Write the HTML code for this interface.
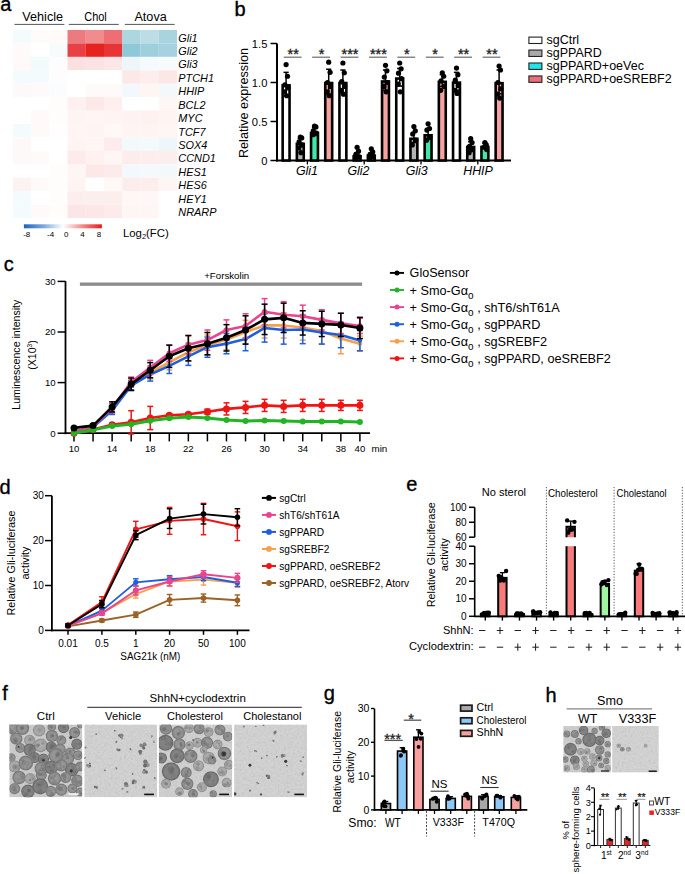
<!DOCTYPE html>
<html><head><meta charset="utf-8"><title>Figure</title>
<style>
html,body{margin:0;padding:0;background:#fff;}
body{width:685px;height:874px;overflow:hidden;position:relative;}
svg{position:absolute;left:0;top:0;display:block;font-family:"Liberation Sans", sans-serif;}
</style></head><body>
<svg width="685" height="874" viewBox="0 0 685 874">
<rect width="685" height="874" fill="#fff"/>
<text x="0.3" y="11.3" font-size="20" stroke="#000" stroke-width="0.35">a</text>
<text x="42.7" y="21" font-size="12.5" text-anchor="middle" textLength="40.7" lengthAdjust="spacingAndGlyphs">Vehicle</text>
<line x1="14.5" y1="24.4" x2="64.4" y2="24.4" stroke="#555" stroke-width="1"/>
<text x="95.5" y="21" font-size="12.5" text-anchor="middle" textLength="22.5" lengthAdjust="spacingAndGlyphs">Chol</text>
<line x1="68.8" y1="24.4" x2="118.8" y2="24.4" stroke="#555" stroke-width="1"/>
<text x="150.6" y="21" font-size="12.5" text-anchor="middle" textLength="32.3" lengthAdjust="spacingAndGlyphs">Atova</text>
<line x1="124.8" y1="24.4" x2="174.7" y2="24.4" stroke="#555" stroke-width="1"/>
<rect x="12.8" y="30" width="18.29" height="13.48" fill="#f3fbfc"/>
<rect x="31.04" y="30" width="18.29" height="13.48" fill="#fffbfb"/>
<rect x="49.28" y="30" width="18.29" height="13.48" fill="#fffbfb"/>
<rect x="67.52" y="30" width="18.29" height="13.48" fill="#ec7b80"/>
<rect x="85.76" y="30" width="18.29" height="13.48" fill="#f08b8e"/>
<rect x="104" y="30" width="18.29" height="13.48" fill="#ed6f73"/>
<rect x="122.24" y="30" width="18.29" height="13.48" fill="#acd6e0"/>
<rect x="140.48" y="30" width="18.29" height="13.48" fill="#bcdde6"/>
<rect x="158.72" y="30" width="18.29" height="13.48" fill="#a9d4de"/>
<text x="178.3" y="41.5" font-size="10.9" font-style="italic">Gli1</text>
<rect x="12.8" y="43.43" width="18.29" height="13.48" fill="#fffafa"/>
<rect x="31.04" y="43.43" width="18.29" height="13.48" fill="#ffffff"/>
<rect x="49.28" y="43.43" width="18.29" height="13.48" fill="#f6fbfc"/>
<rect x="67.52" y="43.43" width="18.29" height="13.48" fill="#e84044"/>
<rect x="85.76" y="43.43" width="18.29" height="13.48" fill="#e52420"/>
<rect x="104" y="43.43" width="18.29" height="13.48" fill="#e83436"/>
<rect x="122.24" y="43.43" width="18.29" height="13.48" fill="#8fc8d8"/>
<rect x="140.48" y="43.43" width="18.29" height="13.48" fill="#9dcfdc"/>
<rect x="158.72" y="43.43" width="18.29" height="13.48" fill="#a5d2de"/>
<text x="178.3" y="54.93" font-size="10.9" font-style="italic">Gli2</text>
<rect x="12.8" y="56.86" width="18.29" height="13.48" fill="#fff9f9"/>
<rect x="31.04" y="56.86" width="18.29" height="13.48" fill="#f3fafb"/>
<rect x="49.28" y="56.86" width="18.29" height="13.48" fill="#fdfdfd"/>
<rect x="67.52" y="56.86" width="18.29" height="13.48" fill="#fbe0e2"/>
<rect x="85.76" y="56.86" width="18.29" height="13.48" fill="#fbe3e5"/>
<rect x="104" y="56.86" width="18.29" height="13.48" fill="#fbe6e8"/>
<rect x="122.24" y="56.86" width="18.29" height="13.48" fill="#eef6f9"/>
<rect x="140.48" y="56.86" width="18.29" height="13.48" fill="#f5fafc"/>
<rect x="158.72" y="56.86" width="18.29" height="13.48" fill="#f7fbfc"/>
<text x="178.3" y="68.36" font-size="10.9" font-style="italic">Gli3</text>
<rect x="12.8" y="70.29" width="18.29" height="13.48" fill="#f3fbfc"/>
<rect x="31.04" y="70.29" width="18.29" height="13.48" fill="#f4fbfc"/>
<rect x="49.28" y="70.29" width="18.29" height="13.48" fill="#fdfdfd"/>
<rect x="67.52" y="70.29" width="18.29" height="13.48" fill="#ffffff"/>
<rect x="85.76" y="70.29" width="18.29" height="13.48" fill="#ffffff"/>
<rect x="104" y="70.29" width="18.29" height="13.48" fill="#ffffff"/>
<rect x="122.24" y="70.29" width="18.29" height="13.48" fill="#fde8e8"/>
<rect x="140.48" y="70.29" width="18.29" height="13.48" fill="#fdeeed"/>
<rect x="158.72" y="70.29" width="18.29" height="13.48" fill="#fce6e6"/>
<text x="178.3" y="81.79" font-size="10.9" font-style="italic">PTCH1</text>
<rect x="12.8" y="83.72" width="18.29" height="13.48" fill="#fef9f9"/>
<rect x="31.04" y="83.72" width="18.29" height="13.48" fill="#fefafa"/>
<rect x="49.28" y="83.72" width="18.29" height="13.48" fill="#fbfcfd"/>
<rect x="67.52" y="83.72" width="18.29" height="13.48" fill="#ffffff"/>
<rect x="85.76" y="83.72" width="18.29" height="13.48" fill="#fffafa"/>
<rect x="104" y="83.72" width="18.29" height="13.48" fill="#fffafa"/>
<rect x="122.24" y="83.72" width="18.29" height="13.48" fill="#f2f8fb"/>
<rect x="140.48" y="83.72" width="18.29" height="13.48" fill="#fff6f3"/>
<rect x="158.72" y="83.72" width="18.29" height="13.48" fill="#f3f9fb"/>
<text x="178.3" y="95.22" font-size="10.9" font-style="italic">HHIP</text>
<rect x="12.8" y="97.15" width="18.29" height="13.48" fill="#ffffff"/>
<rect x="31.04" y="97.15" width="18.29" height="13.48" fill="#ffffff"/>
<rect x="49.28" y="97.15" width="18.29" height="13.48" fill="#fffcfc"/>
<rect x="67.52" y="97.15" width="18.29" height="13.48" fill="#fef0f0"/>
<rect x="85.76" y="97.15" width="18.29" height="13.48" fill="#fde8e8"/>
<rect x="104" y="97.15" width="18.29" height="13.48" fill="#feeeee"/>
<rect x="122.24" y="97.15" width="18.29" height="13.48" fill="#ffffff"/>
<rect x="140.48" y="97.15" width="18.29" height="13.48" fill="#ffffff"/>
<rect x="158.72" y="97.15" width="18.29" height="13.48" fill="#fff6f6"/>
<text x="178.3" y="108.65" font-size="10.9" font-style="italic">BCL2</text>
<rect x="12.8" y="110.58" width="18.29" height="13.48" fill="#ffffff"/>
<rect x="31.04" y="110.58" width="18.29" height="13.48" fill="#fff9f9"/>
<rect x="49.28" y="110.58" width="18.29" height="13.48" fill="#fffcfc"/>
<rect x="67.52" y="110.58" width="18.29" height="13.48" fill="#fef5f3"/>
<rect x="85.76" y="110.58" width="18.29" height="13.48" fill="#fef6f4"/>
<rect x="104" y="110.58" width="18.29" height="13.48" fill="#fef4f2"/>
<rect x="122.24" y="110.58" width="18.29" height="13.48" fill="#fef3f2"/>
<rect x="140.48" y="110.58" width="18.29" height="13.48" fill="#fef1f0"/>
<rect x="158.72" y="110.58" width="18.29" height="13.48" fill="#fef4f2"/>
<text x="178.3" y="122.08" font-size="10.9" font-style="italic">MYC</text>
<rect x="12.8" y="124.01" width="18.29" height="13.48" fill="#f4fbfc"/>
<rect x="31.04" y="124.01" width="18.29" height="13.48" fill="#fffafa"/>
<rect x="49.28" y="124.01" width="18.29" height="13.48" fill="#fffdfd"/>
<rect x="67.52" y="124.01" width="18.29" height="13.48" fill="#fef6f4"/>
<rect x="85.76" y="124.01" width="18.29" height="13.48" fill="#fef4f2"/>
<rect x="104" y="124.01" width="18.29" height="13.48" fill="#fef8f6"/>
<rect x="122.24" y="124.01" width="18.29" height="13.48" fill="#fef4f2"/>
<rect x="140.48" y="124.01" width="18.29" height="13.48" fill="#fef4f2"/>
<rect x="158.72" y="124.01" width="18.29" height="13.48" fill="#fef6f4"/>
<text x="178.3" y="135.51" font-size="10.9" font-style="italic">TCF7</text>
<rect x="12.8" y="137.44" width="18.29" height="13.48" fill="#fef9f9"/>
<rect x="31.04" y="137.44" width="18.29" height="13.48" fill="#ffffff"/>
<rect x="49.28" y="137.44" width="18.29" height="13.48" fill="#ffffff"/>
<rect x="67.52" y="137.44" width="18.29" height="13.48" fill="#fef4f2"/>
<rect x="85.76" y="137.44" width="18.29" height="13.48" fill="#fef6f4"/>
<rect x="104" y="137.44" width="18.29" height="13.48" fill="#fdeceb"/>
<rect x="122.24" y="137.44" width="18.29" height="13.48" fill="#f2f8fb"/>
<rect x="140.48" y="137.44" width="18.29" height="13.48" fill="#f4f9fb"/>
<rect x="158.72" y="137.44" width="18.29" height="13.48" fill="#eff6f9"/>
<text x="178.3" y="148.94" font-size="10.9" font-style="italic">SOX4</text>
<rect x="12.8" y="150.87" width="18.29" height="13.48" fill="#fdf9f9"/>
<rect x="31.04" y="150.87" width="18.29" height="13.48" fill="#fefafa"/>
<rect x="49.28" y="150.87" width="18.29" height="13.48" fill="#ffffff"/>
<rect x="67.52" y="150.87" width="18.29" height="13.48" fill="#fdeaea"/>
<rect x="85.76" y="150.87" width="18.29" height="13.48" fill="#fef1f0"/>
<rect x="104" y="150.87" width="18.29" height="13.48" fill="#fef6f4"/>
<rect x="122.24" y="150.87" width="18.29" height="13.48" fill="#fdecec"/>
<rect x="140.48" y="150.87" width="18.29" height="13.48" fill="#fdeeee"/>
<rect x="158.72" y="150.87" width="18.29" height="13.48" fill="#fdeeee"/>
<text x="178.3" y="162.37" font-size="10.9" font-style="italic">CCND1</text>
<rect x="12.8" y="164.3" width="18.29" height="13.48" fill="#ffffff"/>
<rect x="31.04" y="164.3" width="18.29" height="13.48" fill="#ffffff"/>
<rect x="49.28" y="164.3" width="18.29" height="13.48" fill="#fffcfc"/>
<rect x="67.52" y="164.3" width="18.29" height="13.48" fill="#fef6f4"/>
<rect x="85.76" y="164.3" width="18.29" height="13.48" fill="#fde8e8"/>
<rect x="104" y="164.3" width="18.29" height="13.48" fill="#fdebeb"/>
<rect x="122.24" y="164.3" width="18.29" height="13.48" fill="#f2f8fb"/>
<rect x="140.48" y="164.3" width="18.29" height="13.48" fill="#f5f9fc"/>
<rect x="158.72" y="164.3" width="18.29" height="13.48" fill="#f3f8fb"/>
<text x="178.3" y="175.8" font-size="10.9" font-style="italic">HES1</text>
<rect x="12.8" y="177.73" width="18.29" height="13.48" fill="#fdf2f2"/>
<rect x="31.04" y="177.73" width="18.29" height="13.48" fill="#fefafa"/>
<rect x="49.28" y="177.73" width="18.29" height="13.48" fill="#fffcfc"/>
<rect x="67.52" y="177.73" width="18.29" height="13.48" fill="#fef4f2"/>
<rect x="85.76" y="177.73" width="18.29" height="13.48" fill="#ffffff"/>
<rect x="104" y="177.73" width="18.29" height="13.48" fill="#fef8f6"/>
<rect x="122.24" y="177.73" width="18.29" height="13.48" fill="#fdecec"/>
<rect x="140.48" y="177.73" width="18.29" height="13.48" fill="#fdeeee"/>
<rect x="158.72" y="177.73" width="18.29" height="13.48" fill="#fef6f4"/>
<text x="178.3" y="189.23" font-size="10.9" font-style="italic">HES6</text>
<rect x="12.8" y="191.16" width="18.29" height="13.48" fill="#f4fbfc"/>
<rect x="31.04" y="191.16" width="18.29" height="13.48" fill="#ffffff"/>
<rect x="49.28" y="191.16" width="18.29" height="13.48" fill="#fffcfc"/>
<rect x="67.52" y="191.16" width="18.29" height="13.48" fill="#fdeeee"/>
<rect x="85.76" y="191.16" width="18.29" height="13.48" fill="#fdeeee"/>
<rect x="104" y="191.16" width="18.29" height="13.48" fill="#fdeeee"/>
<rect x="122.24" y="191.16" width="18.29" height="13.48" fill="#fef7f5"/>
<rect x="140.48" y="191.16" width="18.29" height="13.48" fill="#fef7f5"/>
<rect x="158.72" y="191.16" width="18.29" height="13.48" fill="#ffffff"/>
<text x="178.3" y="202.66" font-size="10.9" font-style="italic">HEY1</text>
<rect x="12.8" y="204.59" width="18.29" height="13.48" fill="#f4fbfc"/>
<rect x="31.04" y="204.59" width="18.29" height="13.48" fill="#fefafa"/>
<rect x="49.28" y="204.59" width="18.29" height="13.48" fill="#fffcfc"/>
<rect x="67.52" y="204.59" width="18.29" height="13.48" fill="#fce5e6"/>
<rect x="85.76" y="204.59" width="18.29" height="13.48" fill="#fce6e7"/>
<rect x="104" y="204.59" width="18.29" height="13.48" fill="#fdeaeb"/>
<rect x="122.24" y="204.59" width="18.29" height="13.48" fill="#fef6f4"/>
<rect x="140.48" y="204.59" width="18.29" height="13.48" fill="#fef6f4"/>
<rect x="158.72" y="204.59" width="18.29" height="13.48" fill="#ffffff"/>
<text x="178.3" y="216.09" font-size="10.9" font-style="italic">NRARP</text>
<defs><linearGradient id="cb" x1="0" x2="1" y1="0" y2="0"><stop offset="0" stop-color="#1c64bc"/><stop offset="0.25" stop-color="#7aa8dc"/><stop offset="0.5" stop-color="#ffffff"/><stop offset="0.75" stop-color="#f28a8a"/><stop offset="1" stop-color="#ec1a1a"/></linearGradient></defs>
<rect x="23.9" y="224.3" width="78" height="4" fill="url(#cb)"/>
<text x="26.7" y="237.2" font-size="8" text-anchor="middle">-8</text>
<text x="50.6" y="237.2" font-size="8" text-anchor="middle">-4</text>
<text x="66.2" y="237.2" font-size="8" text-anchor="middle">0</text>
<text x="82.5" y="237.2" font-size="8" text-anchor="middle">4</text>
<text x="98.9" y="237.2" font-size="8" text-anchor="middle">8</text>
<text x="122.9" y="237.2" font-size="11.4">Log<tspan font-size="7.5" dy="2.2">2</tspan><tspan dy="-2.2">(FC)</tspan></text>
<text x="234.6" y="15.8" font-size="20" stroke="#000" stroke-width="0.35">b</text>
<line x1="277" y1="43.4" x2="277" y2="161.5" stroke="#000" stroke-width="2"/>
<line x1="276" y1="160.5" x2="511" y2="160.5" stroke="#000" stroke-width="2"/>
<line x1="270.5" y1="160.5" x2="277" y2="160.5" stroke="#000" stroke-width="1.5"/>
<text x="267.4" y="164.5" font-size="11.2" text-anchor="end">0</text>
<line x1="270.5" y1="121.5" x2="277" y2="121.5" stroke="#000" stroke-width="1.5"/>
<text x="267.4" y="125.5" font-size="11.2" text-anchor="end">0.5</text>
<line x1="270.5" y1="82.5" x2="277" y2="82.5" stroke="#000" stroke-width="1.5"/>
<text x="267.4" y="86.5" font-size="11.2" text-anchor="end">1.0</text>
<line x1="270.5" y1="43.5" x2="277" y2="43.5" stroke="#000" stroke-width="1.5"/>
<text x="267.4" y="47.5" font-size="11.2" text-anchor="end">1.5</text>
<text x="248.2" y="103" font-size="12.6" text-anchor="middle" textLength="110" lengthAdjust="spacingAndGlyphs" transform="rotate(-90 248.2 103)">Relative expression</text>
<line x1="307.4" y1="160.5" x2="307.4" y2="164.5" stroke="#000" stroke-width="1.3"/>
<text x="306.9" y="174.6" font-size="12.4" text-anchor="middle" font-style="italic">Gli1</text>
<rect x="282.65" y="85.36" width="6.9" height="75.14" fill="#ffffff" stroke="#000" stroke-width="2.6"/>
<line x1="286.1" y1="95.76" x2="286.1" y2="72.36" stroke="#000" stroke-width="1.5"/>
<line x1="283.5" y1="72.36" x2="288.7" y2="72.36" stroke="#000" stroke-width="1.5"/>
<line x1="283.5" y1="95.76" x2="288.7" y2="95.76" stroke="#000" stroke-width="1.5"/>
<circle cx="286.1" cy="64.56" r="2.6" fill="#000"/>
<circle cx="287.5" cy="76.26" r="2.6" fill="#000"/>
<circle cx="284.9" cy="84.84" r="2.6" fill="#000"/>
<circle cx="287.9" cy="87.96" r="2.6" fill="#000"/>
<circle cx="284.5" cy="91.86" r="2.6" fill="#000"/>
<circle cx="286.7" cy="95.76" r="2.6" fill="#000"/>
<rect x="296.85" y="143.86" width="6.9" height="16.64" fill="#b3b3b3" stroke="#000" stroke-width="2.6"/>
<line x1="300.3" y1="146.46" x2="300.3" y2="138.66" stroke="#000" stroke-width="1.5"/>
<line x1="297.7" y1="138.66" x2="302.9" y2="138.66" stroke="#000" stroke-width="1.5"/>
<line x1="297.7" y1="146.46" x2="302.9" y2="146.46" stroke="#000" stroke-width="1.5"/>
<circle cx="300.3" cy="137.1" r="2.6" fill="#000"/>
<circle cx="301.7" cy="137.88" r="2.6" fill="#000"/>
<circle cx="299.1" cy="141.78" r="2.6" fill="#000"/>
<circle cx="302.1" cy="144.9" r="2.6" fill="#000"/>
<circle cx="298.7" cy="148.02" r="2.6" fill="#000"/>
<circle cx="300.9" cy="152.7" r="2.6" fill="#000"/>
<rect x="311.05" y="132.94" width="6.9" height="27.56" fill="#3ee8a8" stroke="#000" stroke-width="2.6"/>
<line x1="314.5" y1="135.54" x2="314.5" y2="127.74" stroke="#000" stroke-width="1.5"/>
<line x1="311.9" y1="127.74" x2="317.1" y2="127.74" stroke="#000" stroke-width="1.5"/>
<line x1="311.9" y1="135.54" x2="317.1" y2="135.54" stroke="#000" stroke-width="1.5"/>
<circle cx="314.5" cy="126.18" r="2.6" fill="#000"/>
<circle cx="315.9" cy="126.96" r="2.6" fill="#000"/>
<circle cx="313.3" cy="130.86" r="2.6" fill="#000"/>
<circle cx="316.3" cy="133.2" r="2.6" fill="#000"/>
<circle cx="312.9" cy="134.76" r="2.6" fill="#000"/>
<rect x="325.25" y="83.02" width="6.9" height="77.48" fill="#f7a1a1" stroke="#000" stroke-width="2.6"/>
<line x1="328.7" y1="94.2" x2="328.7" y2="69.24" stroke="#000" stroke-width="1.5"/>
<line x1="326.1" y1="69.24" x2="331.3" y2="69.24" stroke="#000" stroke-width="1.5"/>
<line x1="326.1" y1="94.2" x2="331.3" y2="94.2" stroke="#000" stroke-width="1.5"/>
<circle cx="328.7" cy="62.22" r="2.6" fill="#000"/>
<circle cx="330.1" cy="72.36" r="2.6" fill="#000"/>
<circle cx="327.5" cy="82.5" r="2.6" fill="#000"/>
<circle cx="330.5" cy="86.4" r="2.6" fill="#000"/>
<circle cx="327.1" cy="91.86" r="2.6" fill="#000"/>
<circle cx="329.3" cy="95.76" r="2.6" fill="#000"/>
<line x1="364.2" y1="160.5" x2="364.2" y2="164.5" stroke="#000" stroke-width="1.3"/>
<text x="358.5" y="174.6" font-size="12.4" text-anchor="middle" font-style="italic">Gli2</text>
<rect x="339.45" y="83.02" width="6.9" height="77.48" fill="#ffffff" stroke="#000" stroke-width="2.6"/>
<line x1="342.9" y1="93.42" x2="342.9" y2="70.02" stroke="#000" stroke-width="1.5"/>
<line x1="340.3" y1="70.02" x2="345.5" y2="70.02" stroke="#000" stroke-width="1.5"/>
<line x1="340.3" y1="93.42" x2="345.5" y2="93.42" stroke="#000" stroke-width="1.5"/>
<circle cx="342.9" cy="63" r="2.6" fill="#000"/>
<circle cx="344.3" cy="72.75" r="2.6" fill="#000"/>
<circle cx="341.7" cy="81.72" r="2.6" fill="#000"/>
<circle cx="344.7" cy="86.4" r="2.6" fill="#000"/>
<circle cx="341.3" cy="90.3" r="2.6" fill="#000"/>
<circle cx="343.5" cy="94.2" r="2.6" fill="#000"/>
<rect x="353.65" y="156.34" width="6.9" height="4.16" fill="#b3b3b3" stroke="#000" stroke-width="2.6"/>
<line x1="357.1" y1="157.38" x2="357.1" y2="152.7" stroke="#000" stroke-width="1.5"/>
<line x1="354.5" y1="152.7" x2="359.7" y2="152.7" stroke="#000" stroke-width="1.5"/>
<line x1="354.5" y1="157.38" x2="359.7" y2="157.38" stroke="#000" stroke-width="1.5"/>
<circle cx="357.1" cy="147.24" r="2.6" fill="#000"/>
<circle cx="358.5" cy="151.14" r="2.6" fill="#000"/>
<circle cx="355.9" cy="154.26" r="2.6" fill="#000"/>
<circle cx="358.9" cy="156.6" r="2.6" fill="#000"/>
<circle cx="355.5" cy="158.16" r="2.6" fill="#000"/>
<rect x="367.85" y="155.56" width="6.9" height="4.94" fill="#3ee8a8" stroke="#000" stroke-width="2.6"/>
<line x1="371.3" y1="155.82" x2="371.3" y2="152.7" stroke="#000" stroke-width="1.5"/>
<line x1="368.7" y1="152.7" x2="373.9" y2="152.7" stroke="#000" stroke-width="1.5"/>
<line x1="368.7" y1="155.82" x2="373.9" y2="155.82" stroke="#000" stroke-width="1.5"/>
<circle cx="371.3" cy="148.8" r="2.6" fill="#000"/>
<circle cx="372.7" cy="151.92" r="2.6" fill="#000"/>
<circle cx="370.1" cy="154.26" r="2.6" fill="#000"/>
<circle cx="373.1" cy="156.6" r="2.6" fill="#000"/>
<circle cx="369.7" cy="158.16" r="2.6" fill="#000"/>
<rect x="382.05" y="81.46" width="6.9" height="79.04" fill="#f7a1a1" stroke="#000" stroke-width="2.6"/>
<line x1="385.5" y1="90.3" x2="385.5" y2="70.02" stroke="#000" stroke-width="1.5"/>
<line x1="382.9" y1="70.02" x2="388.1" y2="70.02" stroke="#000" stroke-width="1.5"/>
<line x1="382.9" y1="90.3" x2="388.1" y2="90.3" stroke="#000" stroke-width="1.5"/>
<circle cx="385.5" cy="65.34" r="2.6" fill="#000"/>
<circle cx="386.9" cy="70.8" r="2.6" fill="#000"/>
<circle cx="384.3" cy="77.04" r="2.6" fill="#000"/>
<circle cx="387.3" cy="82.5" r="2.6" fill="#000"/>
<circle cx="383.9" cy="86.4" r="2.6" fill="#000"/>
<circle cx="386.1" cy="91.86" r="2.6" fill="#000"/>
<line x1="421" y1="160.5" x2="421" y2="164.5" stroke="#000" stroke-width="1.3"/>
<text x="416.7" y="174.6" font-size="12.4" text-anchor="middle" font-style="italic">Gli3</text>
<rect x="396.25" y="78.57" width="6.9" height="81.93" fill="#ffffff" stroke="#000" stroke-width="2.6"/>
<line x1="399.7" y1="86.09" x2="399.7" y2="68.46" stroke="#000" stroke-width="1.5"/>
<line x1="397.1" y1="68.46" x2="402.3" y2="68.46" stroke="#000" stroke-width="1.5"/>
<line x1="397.1" y1="86.09" x2="402.3" y2="86.09" stroke="#000" stroke-width="1.5"/>
<circle cx="399.7" cy="63" r="2.6" fill="#000"/>
<circle cx="401.1" cy="68.85" r="2.6" fill="#000"/>
<circle cx="398.5" cy="73.14" r="2.6" fill="#000"/>
<circle cx="401.5" cy="78.6" r="2.6" fill="#000"/>
<circle cx="398.1" cy="84.06" r="2.6" fill="#000"/>
<circle cx="400.3" cy="91.86" r="2.6" fill="#000"/>
<rect x="410.45" y="138.79" width="6.9" height="21.71" fill="#b3b3b3" stroke="#000" stroke-width="2.6"/>
<line x1="413.9" y1="142.56" x2="413.9" y2="132.42" stroke="#000" stroke-width="1.5"/>
<line x1="411.3" y1="132.42" x2="416.5" y2="132.42" stroke="#000" stroke-width="1.5"/>
<line x1="411.3" y1="142.56" x2="416.5" y2="142.56" stroke="#000" stroke-width="1.5"/>
<circle cx="413.9" cy="126.57" r="2.6" fill="#000"/>
<circle cx="415.3" cy="130.86" r="2.6" fill="#000"/>
<circle cx="412.7" cy="133.98" r="2.6" fill="#000"/>
<circle cx="415.7" cy="140.22" r="2.6" fill="#000"/>
<circle cx="412.3" cy="144.9" r="2.6" fill="#000"/>
<rect x="424.65" y="135.28" width="6.9" height="25.22" fill="#3ee8a8" stroke="#000" stroke-width="2.6"/>
<line x1="428.1" y1="139.44" x2="428.1" y2="128.52" stroke="#000" stroke-width="1.5"/>
<line x1="425.5" y1="128.52" x2="430.7" y2="128.52" stroke="#000" stroke-width="1.5"/>
<line x1="425.5" y1="139.44" x2="430.7" y2="139.44" stroke="#000" stroke-width="1.5"/>
<circle cx="428.1" cy="123.84" r="2.6" fill="#000"/>
<circle cx="429.5" cy="128.52" r="2.6" fill="#000"/>
<circle cx="426.9" cy="130.08" r="2.6" fill="#000"/>
<circle cx="429.9" cy="137.1" r="2.6" fill="#000"/>
<circle cx="426.5" cy="140.22" r="2.6" fill="#000"/>
<rect x="438.85" y="81.85" width="6.9" height="78.65" fill="#f7a1a1" stroke="#000" stroke-width="2.6"/>
<line x1="442.3" y1="86.4" x2="442.3" y2="74.7" stroke="#000" stroke-width="1.5"/>
<line x1="439.7" y1="74.7" x2="444.9" y2="74.7" stroke="#000" stroke-width="1.5"/>
<line x1="439.7" y1="86.4" x2="444.9" y2="86.4" stroke="#000" stroke-width="1.5"/>
<circle cx="442.3" cy="72.75" r="2.6" fill="#000"/>
<circle cx="443.7" cy="76.26" r="2.6" fill="#000"/>
<circle cx="441.1" cy="80.94" r="2.6" fill="#000"/>
<circle cx="444.1" cy="86.4" r="2.6" fill="#000"/>
<circle cx="440.7" cy="90.3" r="2.6" fill="#000"/>
<line x1="477.8" y1="160.5" x2="477.8" y2="164.5" stroke="#000" stroke-width="1.3"/>
<text x="478" y="174.6" font-size="12.4" text-anchor="middle" font-style="italic">HHIP</text>
<rect x="453.05" y="82.63" width="6.9" height="77.87" fill="#ffffff" stroke="#000" stroke-width="2.6"/>
<line x1="456.5" y1="90.3" x2="456.5" y2="72.36" stroke="#000" stroke-width="1.5"/>
<line x1="453.9" y1="72.36" x2="459.1" y2="72.36" stroke="#000" stroke-width="1.5"/>
<line x1="453.9" y1="90.3" x2="459.1" y2="90.3" stroke="#000" stroke-width="1.5"/>
<circle cx="456.5" cy="68.07" r="2.6" fill="#000"/>
<circle cx="457.9" cy="74.7" r="2.6" fill="#000"/>
<circle cx="455.3" cy="80.16" r="2.6" fill="#000"/>
<circle cx="458.3" cy="85.62" r="2.6" fill="#000"/>
<circle cx="454.9" cy="90.3" r="2.6" fill="#000"/>
<circle cx="457.1" cy="93.42" r="2.6" fill="#000"/>
<rect x="467.25" y="146.98" width="6.9" height="13.52" fill="#b3b3b3" stroke="#000" stroke-width="2.6"/>
<line x1="470.7" y1="149.58" x2="470.7" y2="141.78" stroke="#000" stroke-width="1.5"/>
<line x1="468.1" y1="141.78" x2="473.3" y2="141.78" stroke="#000" stroke-width="1.5"/>
<line x1="468.1" y1="149.58" x2="473.3" y2="149.58" stroke="#000" stroke-width="1.5"/>
<circle cx="470.7" cy="138.66" r="2.6" fill="#000"/>
<circle cx="472.1" cy="142.56" r="2.6" fill="#000"/>
<circle cx="469.5" cy="146.46" r="2.6" fill="#000"/>
<circle cx="472.5" cy="149.58" r="2.6" fill="#000"/>
<circle cx="469.1" cy="152.7" r="2.6" fill="#000"/>
<rect x="481.45" y="146.98" width="6.9" height="13.52" fill="#3ee8a8" stroke="#000" stroke-width="2.6"/>
<line x1="484.9" y1="148.02" x2="484.9" y2="143.34" stroke="#000" stroke-width="1.5"/>
<line x1="482.3" y1="143.34" x2="487.5" y2="143.34" stroke="#000" stroke-width="1.5"/>
<line x1="482.3" y1="148.02" x2="487.5" y2="148.02" stroke="#000" stroke-width="1.5"/>
<circle cx="484.9" cy="142.56" r="2.6" fill="#000"/>
<circle cx="486.3" cy="144.9" r="2.6" fill="#000"/>
<circle cx="483.7" cy="147.24" r="2.6" fill="#000"/>
<circle cx="486.7" cy="149.58" r="2.6" fill="#000"/>
<rect x="495.65" y="83.18" width="6.9" height="77.32" fill="#f7a1a1" stroke="#000" stroke-width="2.6"/>
<line x1="499.1" y1="93.73" x2="499.1" y2="70.02" stroke="#000" stroke-width="1.5"/>
<line x1="496.5" y1="70.02" x2="501.7" y2="70.02" stroke="#000" stroke-width="1.5"/>
<line x1="496.5" y1="93.73" x2="501.7" y2="93.73" stroke="#000" stroke-width="1.5"/>
<circle cx="499.1" cy="66.12" r="2.6" fill="#000"/>
<circle cx="500.5" cy="70.02" r="2.6" fill="#000"/>
<circle cx="497.9" cy="82.5" r="2.6" fill="#000"/>
<circle cx="500.9" cy="88.74" r="2.6" fill="#000"/>
<circle cx="497.5" cy="94.2" r="2.6" fill="#000"/>
<circle cx="499.7" cy="98.1" r="2.6" fill="#000"/>
<line x1="283.8" y1="57.2" x2="301.6" y2="57.2" stroke="#6a6a6a" stroke-width="1.2"/>
<text x="293.2" y="59" font-size="14.5" text-anchor="middle" fill="#222" stroke="#222" stroke-width="0.35">**</text>
<line x1="312.2" y1="57.2" x2="330" y2="57.2" stroke="#6a6a6a" stroke-width="1.2"/>
<text x="321.6" y="59" font-size="14.5" text-anchor="middle" fill="#222" stroke="#222" stroke-width="0.35">*</text>
<line x1="340.6" y1="57.2" x2="358.4" y2="57.2" stroke="#6a6a6a" stroke-width="1.2"/>
<text x="350" y="59" font-size="14.5" text-anchor="middle" fill="#222" stroke="#222" stroke-width="0.35">***</text>
<line x1="369" y1="57.2" x2="386.8" y2="57.2" stroke="#6a6a6a" stroke-width="1.2"/>
<text x="378.4" y="59" font-size="14.5" text-anchor="middle" fill="#222" stroke="#222" stroke-width="0.35">***</text>
<line x1="397.4" y1="57.2" x2="415.2" y2="57.2" stroke="#6a6a6a" stroke-width="1.2"/>
<text x="406.8" y="59" font-size="14.5" text-anchor="middle" fill="#222" stroke="#222" stroke-width="0.35">*</text>
<line x1="425.8" y1="57.2" x2="443.6" y2="57.2" stroke="#6a6a6a" stroke-width="1.2"/>
<text x="435.2" y="59" font-size="14.5" text-anchor="middle" fill="#222" stroke="#222" stroke-width="0.35">*</text>
<line x1="454.2" y1="57.2" x2="472" y2="57.2" stroke="#6a6a6a" stroke-width="1.2"/>
<text x="463.6" y="59" font-size="14.5" text-anchor="middle" fill="#222" stroke="#222" stroke-width="0.35">**</text>
<line x1="482.6" y1="57.2" x2="500.4" y2="57.2" stroke="#6a6a6a" stroke-width="1.2"/>
<text x="492" y="59" font-size="14.5" text-anchor="middle" fill="#222" stroke="#222" stroke-width="0.35">**</text>
<rect x="528.9" y="37.1" width="13" height="6.4" fill="#ffffff" stroke="#222" stroke-width="1.1"/>
<text x="546.5" y="43.8" font-size="12.5">sgCtrl</text>
<rect x="528.9" y="50.05" width="13" height="6.4" fill="#a9a9a9" stroke="#222" stroke-width="1.1"/>
<text x="546.5" y="56.75" font-size="12.5">sgPPARD</text>
<rect x="528.9" y="63" width="13" height="6.4" fill="#1fe5e8" stroke="#222" stroke-width="1.1"/>
<text x="546.5" y="69.7" font-size="12.5">sgPPARD+oeVec</text>
<rect x="528.9" y="75.95" width="13" height="6.4" fill="#e8707c" stroke="#222" stroke-width="1.1"/>
<text x="546.5" y="82.65" font-size="12.5">sgPPARD+oeSREBF2</text>
<text x="3.8" y="270.5" font-size="20" stroke="#000" stroke-width="0.35">c</text>
<line x1="65.5" y1="281.2" x2="65.5" y2="434.2" stroke="#000" stroke-width="1.8"/>
<line x1="64.6" y1="433.2" x2="370" y2="433.2" stroke="#000" stroke-width="1.8"/>
<line x1="57.6" y1="433.2" x2="65.5" y2="433.2" stroke="#000" stroke-width="1.5"/>
<text x="55.6" y="436.6" font-size="9.6" text-anchor="end">0</text>
<line x1="57.6" y1="382.6" x2="65.5" y2="382.6" stroke="#000" stroke-width="1.5"/>
<text x="55.6" y="386" font-size="9.6" text-anchor="end">10</text>
<line x1="57.6" y1="332" x2="65.5" y2="332" stroke="#000" stroke-width="1.5"/>
<text x="55.6" y="335.4" font-size="9.6" text-anchor="end">20</text>
<line x1="57.6" y1="281.4" x2="65.5" y2="281.4" stroke="#000" stroke-width="1.5"/>
<text x="55.6" y="284.8" font-size="9.6" text-anchor="end">30</text>
<line x1="74" y1="433.2" x2="74" y2="441.4" stroke="#000" stroke-width="1.5"/>
<line x1="93.06" y1="433.2" x2="93.06" y2="441.4" stroke="#000" stroke-width="1.5"/>
<line x1="112.12" y1="433.2" x2="112.12" y2="441.4" stroke="#000" stroke-width="1.5"/>
<line x1="131.18" y1="433.2" x2="131.18" y2="441.4" stroke="#000" stroke-width="1.5"/>
<line x1="150.24" y1="433.2" x2="150.24" y2="441.4" stroke="#000" stroke-width="1.5"/>
<line x1="169.3" y1="433.2" x2="169.3" y2="441.4" stroke="#000" stroke-width="1.5"/>
<line x1="188.36" y1="433.2" x2="188.36" y2="441.4" stroke="#000" stroke-width="1.5"/>
<line x1="207.42" y1="433.2" x2="207.42" y2="441.4" stroke="#000" stroke-width="1.5"/>
<line x1="226.48" y1="433.2" x2="226.48" y2="441.4" stroke="#000" stroke-width="1.5"/>
<line x1="245.54" y1="433.2" x2="245.54" y2="441.4" stroke="#000" stroke-width="1.5"/>
<line x1="264.6" y1="433.2" x2="264.6" y2="441.4" stroke="#000" stroke-width="1.5"/>
<line x1="283.66" y1="433.2" x2="283.66" y2="441.4" stroke="#000" stroke-width="1.5"/>
<line x1="302.72" y1="433.2" x2="302.72" y2="441.4" stroke="#000" stroke-width="1.5"/>
<line x1="321.78" y1="433.2" x2="321.78" y2="441.4" stroke="#000" stroke-width="1.5"/>
<line x1="340.84" y1="433.2" x2="340.84" y2="441.4" stroke="#000" stroke-width="1.5"/>
<line x1="359.9" y1="433.2" x2="359.9" y2="441.4" stroke="#000" stroke-width="1.5"/>
<text x="74" y="452.2" font-size="9.6" text-anchor="middle">10</text>
<text x="112.12" y="452.2" font-size="9.6" text-anchor="middle">14</text>
<text x="150.24" y="452.2" font-size="9.6" text-anchor="middle">18</text>
<text x="188.36" y="452.2" font-size="9.6" text-anchor="middle">22</text>
<text x="226.48" y="452.2" font-size="9.6" text-anchor="middle">26</text>
<text x="264.6" y="452.2" font-size="9.6" text-anchor="middle">30</text>
<text x="302.72" y="452.2" font-size="9.6" text-anchor="middle">34</text>
<text x="340.84" y="452.2" font-size="9.6" text-anchor="middle">38</text>
<text x="359.9" y="452.2" font-size="9.6" text-anchor="middle">40</text>
<text x="371.5" y="452.2" font-size="9.8">min</text>
<rect x="79.9" y="282.5" width="282.2" height="3.3" fill="#8c8c8c"/>
<text x="226.7" y="278.8" font-size="9.8" text-anchor="middle" textLength="45" lengthAdjust="spacingAndGlyphs">+Forskolin</text>
<text x="20.2" y="354.7" font-size="10.6" text-anchor="middle" textLength="110" lengthAdjust="spacingAndGlyphs" transform="rotate(-90 20.2 354.7)">Luminescence intensity</text>
<text x="36.3" y="355" font-size="10.6" text-anchor="middle" transform="rotate(-90 36.3 355)">(X10<tspan font-size="6.5" dy="-4">3</tspan><tspan dy="4">)</tspan></text>
<line x1="74" y1="433.2" x2="74" y2="431.18" stroke="#f5a04a" stroke-width="1.5"/>
<line x1="71" y1="431.18" x2="77" y2="431.18" stroke="#f5a04a" stroke-width="1.5"/>
<line x1="71" y1="433.2" x2="77" y2="433.2" stroke="#f5a04a" stroke-width="1.5"/>
<line x1="93.06" y1="428.65" x2="93.06" y2="425.61" stroke="#f5a04a" stroke-width="1.5"/>
<line x1="90.06" y1="425.61" x2="96.06" y2="425.61" stroke="#f5a04a" stroke-width="1.5"/>
<line x1="90.06" y1="428.65" x2="96.06" y2="428.65" stroke="#f5a04a" stroke-width="1.5"/>
<line x1="112.12" y1="413.47" x2="112.12" y2="405.37" stroke="#f5a04a" stroke-width="1.5"/>
<line x1="109.12" y1="405.37" x2="115.12" y2="405.37" stroke="#f5a04a" stroke-width="1.5"/>
<line x1="109.12" y1="413.47" x2="115.12" y2="413.47" stroke="#f5a04a" stroke-width="1.5"/>
<line x1="131.18" y1="389.68" x2="131.18" y2="379.56" stroke="#f5a04a" stroke-width="1.5"/>
<line x1="128.18" y1="379.56" x2="134.18" y2="379.56" stroke="#f5a04a" stroke-width="1.5"/>
<line x1="128.18" y1="389.68" x2="134.18" y2="389.68" stroke="#f5a04a" stroke-width="1.5"/>
<line x1="150.24" y1="379.06" x2="150.24" y2="365.9" stroke="#f5a04a" stroke-width="1.5"/>
<line x1="147.24" y1="365.9" x2="153.24" y2="365.9" stroke="#f5a04a" stroke-width="1.5"/>
<line x1="147.24" y1="379.06" x2="153.24" y2="379.06" stroke="#f5a04a" stroke-width="1.5"/>
<line x1="169.3" y1="369.95" x2="169.3" y2="354.77" stroke="#f5a04a" stroke-width="1.5"/>
<line x1="166.3" y1="354.77" x2="172.3" y2="354.77" stroke="#f5a04a" stroke-width="1.5"/>
<line x1="166.3" y1="369.95" x2="172.3" y2="369.95" stroke="#f5a04a" stroke-width="1.5"/>
<line x1="188.36" y1="361.35" x2="188.36" y2="343.13" stroke="#f5a04a" stroke-width="1.5"/>
<line x1="185.36" y1="343.13" x2="191.36" y2="343.13" stroke="#f5a04a" stroke-width="1.5"/>
<line x1="185.36" y1="361.35" x2="191.36" y2="361.35" stroke="#f5a04a" stroke-width="1.5"/>
<line x1="207.42" y1="355.28" x2="207.42" y2="335.04" stroke="#f5a04a" stroke-width="1.5"/>
<line x1="204.42" y1="335.04" x2="210.42" y2="335.04" stroke="#f5a04a" stroke-width="1.5"/>
<line x1="204.42" y1="355.28" x2="210.42" y2="355.28" stroke="#f5a04a" stroke-width="1.5"/>
<line x1="226.48" y1="349.71" x2="226.48" y2="329.47" stroke="#f5a04a" stroke-width="1.5"/>
<line x1="223.48" y1="329.47" x2="229.48" y2="329.47" stroke="#f5a04a" stroke-width="1.5"/>
<line x1="223.48" y1="349.71" x2="229.48" y2="349.71" stroke="#f5a04a" stroke-width="1.5"/>
<line x1="245.54" y1="343.64" x2="245.54" y2="320.36" stroke="#f5a04a" stroke-width="1.5"/>
<line x1="242.54" y1="320.36" x2="248.54" y2="320.36" stroke="#f5a04a" stroke-width="1.5"/>
<line x1="242.54" y1="343.64" x2="248.54" y2="343.64" stroke="#f5a04a" stroke-width="1.5"/>
<line x1="264.6" y1="338.07" x2="264.6" y2="312.77" stroke="#f5a04a" stroke-width="1.5"/>
<line x1="261.6" y1="312.77" x2="267.6" y2="312.77" stroke="#f5a04a" stroke-width="1.5"/>
<line x1="261.6" y1="338.07" x2="267.6" y2="338.07" stroke="#f5a04a" stroke-width="1.5"/>
<line x1="283.66" y1="338.07" x2="283.66" y2="312.77" stroke="#f5a04a" stroke-width="1.5"/>
<line x1="280.66" y1="312.77" x2="286.66" y2="312.77" stroke="#f5a04a" stroke-width="1.5"/>
<line x1="280.66" y1="338.07" x2="286.66" y2="338.07" stroke="#f5a04a" stroke-width="1.5"/>
<line x1="302.72" y1="340.1" x2="302.72" y2="314.8" stroke="#f5a04a" stroke-width="1.5"/>
<line x1="299.72" y1="314.8" x2="305.72" y2="314.8" stroke="#f5a04a" stroke-width="1.5"/>
<line x1="299.72" y1="340.1" x2="305.72" y2="340.1" stroke="#f5a04a" stroke-width="1.5"/>
<line x1="321.78" y1="343.64" x2="321.78" y2="318.34" stroke="#f5a04a" stroke-width="1.5"/>
<line x1="318.78" y1="318.34" x2="324.78" y2="318.34" stroke="#f5a04a" stroke-width="1.5"/>
<line x1="318.78" y1="343.64" x2="324.78" y2="343.64" stroke="#f5a04a" stroke-width="1.5"/>
<line x1="340.84" y1="353.76" x2="340.84" y2="323.4" stroke="#f5a04a" stroke-width="1.5"/>
<line x1="337.84" y1="323.4" x2="343.84" y2="323.4" stroke="#f5a04a" stroke-width="1.5"/>
<line x1="337.84" y1="353.76" x2="343.84" y2="353.76" stroke="#f5a04a" stroke-width="1.5"/>
<line x1="359.9" y1="351.23" x2="359.9" y2="336.05" stroke="#f5a04a" stroke-width="1.5"/>
<line x1="356.9" y1="336.05" x2="362.9" y2="336.05" stroke="#f5a04a" stroke-width="1.5"/>
<line x1="356.9" y1="351.23" x2="362.9" y2="351.23" stroke="#f5a04a" stroke-width="1.5"/>
<polyline points="74,432.19 93.06,427.13 112.12,409.42 131.18,384.62 150.24,372.48 169.3,362.36 188.36,352.24 207.42,345.16 226.48,339.59 245.54,332 264.6,325.42 283.66,325.42 302.72,327.45 321.78,330.99 340.84,338.58 359.9,343.64" fill="none" stroke="#f5a04a" stroke-width="2.6" stroke-linejoin="round"/>
<circle cx="74" cy="432.19" r="2.4" fill="#f5a04a"/>
<circle cx="93.06" cy="427.13" r="2.4" fill="#f5a04a"/>
<circle cx="112.12" cy="409.42" r="2.4" fill="#f5a04a"/>
<circle cx="131.18" cy="384.62" r="2.4" fill="#f5a04a"/>
<circle cx="150.24" cy="372.48" r="2.4" fill="#f5a04a"/>
<circle cx="169.3" cy="362.36" r="2.4" fill="#f5a04a"/>
<circle cx="188.36" cy="352.24" r="2.4" fill="#f5a04a"/>
<circle cx="207.42" cy="345.16" r="2.4" fill="#f5a04a"/>
<circle cx="226.48" cy="339.59" r="2.4" fill="#f5a04a"/>
<circle cx="245.54" cy="332" r="2.4" fill="#f5a04a"/>
<circle cx="264.6" cy="325.42" r="2.4" fill="#f5a04a"/>
<circle cx="283.66" cy="325.42" r="2.4" fill="#f5a04a"/>
<circle cx="302.72" cy="327.45" r="2.4" fill="#f5a04a"/>
<circle cx="321.78" cy="330.99" r="2.4" fill="#f5a04a"/>
<circle cx="340.84" cy="338.58" r="2.4" fill="#f5a04a"/>
<circle cx="359.9" cy="343.64" r="2.4" fill="#f5a04a"/>
<line x1="74" y1="432.69" x2="74" y2="430.67" stroke="#1e5fe0" stroke-width="1.5"/>
<line x1="71" y1="430.67" x2="77" y2="430.67" stroke="#1e5fe0" stroke-width="1.5"/>
<line x1="71" y1="432.69" x2="77" y2="432.69" stroke="#1e5fe0" stroke-width="1.5"/>
<line x1="93.06" y1="428.65" x2="93.06" y2="425.61" stroke="#1e5fe0" stroke-width="1.5"/>
<line x1="90.06" y1="425.61" x2="96.06" y2="425.61" stroke="#1e5fe0" stroke-width="1.5"/>
<line x1="90.06" y1="428.65" x2="96.06" y2="428.65" stroke="#1e5fe0" stroke-width="1.5"/>
<line x1="112.12" y1="414.48" x2="112.12" y2="406.38" stroke="#1e5fe0" stroke-width="1.5"/>
<line x1="109.12" y1="406.38" x2="115.12" y2="406.38" stroke="#1e5fe0" stroke-width="1.5"/>
<line x1="109.12" y1="414.48" x2="115.12" y2="414.48" stroke="#1e5fe0" stroke-width="1.5"/>
<line x1="131.18" y1="390.7" x2="131.18" y2="380.58" stroke="#1e5fe0" stroke-width="1.5"/>
<line x1="128.18" y1="380.58" x2="134.18" y2="380.58" stroke="#1e5fe0" stroke-width="1.5"/>
<line x1="128.18" y1="390.7" x2="134.18" y2="390.7" stroke="#1e5fe0" stroke-width="1.5"/>
<line x1="150.24" y1="381.08" x2="150.24" y2="367.93" stroke="#1e5fe0" stroke-width="1.5"/>
<line x1="147.24" y1="367.93" x2="153.24" y2="367.93" stroke="#1e5fe0" stroke-width="1.5"/>
<line x1="147.24" y1="381.08" x2="153.24" y2="381.08" stroke="#1e5fe0" stroke-width="1.5"/>
<line x1="169.3" y1="373.49" x2="169.3" y2="358.31" stroke="#1e5fe0" stroke-width="1.5"/>
<line x1="166.3" y1="358.31" x2="172.3" y2="358.31" stroke="#1e5fe0" stroke-width="1.5"/>
<line x1="166.3" y1="373.49" x2="172.3" y2="373.49" stroke="#1e5fe0" stroke-width="1.5"/>
<line x1="188.36" y1="365.4" x2="188.36" y2="347.18" stroke="#1e5fe0" stroke-width="1.5"/>
<line x1="185.36" y1="347.18" x2="191.36" y2="347.18" stroke="#1e5fe0" stroke-width="1.5"/>
<line x1="185.36" y1="365.4" x2="191.36" y2="365.4" stroke="#1e5fe0" stroke-width="1.5"/>
<line x1="207.42" y1="357.3" x2="207.42" y2="337.06" stroke="#1e5fe0" stroke-width="1.5"/>
<line x1="204.42" y1="337.06" x2="210.42" y2="337.06" stroke="#1e5fe0" stroke-width="1.5"/>
<line x1="204.42" y1="357.3" x2="210.42" y2="357.3" stroke="#1e5fe0" stroke-width="1.5"/>
<line x1="226.48" y1="353.76" x2="226.48" y2="333.52" stroke="#1e5fe0" stroke-width="1.5"/>
<line x1="223.48" y1="333.52" x2="229.48" y2="333.52" stroke="#1e5fe0" stroke-width="1.5"/>
<line x1="223.48" y1="353.76" x2="229.48" y2="353.76" stroke="#1e5fe0" stroke-width="1.5"/>
<line x1="245.54" y1="350.72" x2="245.54" y2="327.45" stroke="#1e5fe0" stroke-width="1.5"/>
<line x1="242.54" y1="327.45" x2="248.54" y2="327.45" stroke="#1e5fe0" stroke-width="1.5"/>
<line x1="242.54" y1="350.72" x2="248.54" y2="350.72" stroke="#1e5fe0" stroke-width="1.5"/>
<line x1="264.6" y1="342.12" x2="264.6" y2="313.78" stroke="#1e5fe0" stroke-width="1.5"/>
<line x1="261.6" y1="313.78" x2="267.6" y2="313.78" stroke="#1e5fe0" stroke-width="1.5"/>
<line x1="261.6" y1="342.12" x2="267.6" y2="342.12" stroke="#1e5fe0" stroke-width="1.5"/>
<line x1="283.66" y1="344.14" x2="283.66" y2="315.81" stroke="#1e5fe0" stroke-width="1.5"/>
<line x1="280.66" y1="315.81" x2="286.66" y2="315.81" stroke="#1e5fe0" stroke-width="1.5"/>
<line x1="280.66" y1="344.14" x2="286.66" y2="344.14" stroke="#1e5fe0" stroke-width="1.5"/>
<line x1="302.72" y1="343.64" x2="302.72" y2="315.3" stroke="#1e5fe0" stroke-width="1.5"/>
<line x1="299.72" y1="315.3" x2="305.72" y2="315.3" stroke="#1e5fe0" stroke-width="1.5"/>
<line x1="299.72" y1="343.64" x2="305.72" y2="343.64" stroke="#1e5fe0" stroke-width="1.5"/>
<line x1="321.78" y1="344.14" x2="321.78" y2="320.87" stroke="#1e5fe0" stroke-width="1.5"/>
<line x1="318.78" y1="320.87" x2="324.78" y2="320.87" stroke="#1e5fe0" stroke-width="1.5"/>
<line x1="318.78" y1="344.14" x2="324.78" y2="344.14" stroke="#1e5fe0" stroke-width="1.5"/>
<line x1="340.84" y1="347.69" x2="340.84" y2="322.39" stroke="#1e5fe0" stroke-width="1.5"/>
<line x1="337.84" y1="322.39" x2="343.84" y2="322.39" stroke="#1e5fe0" stroke-width="1.5"/>
<line x1="337.84" y1="347.69" x2="343.84" y2="347.69" stroke="#1e5fe0" stroke-width="1.5"/>
<line x1="359.9" y1="350.72" x2="359.9" y2="330.48" stroke="#1e5fe0" stroke-width="1.5"/>
<line x1="356.9" y1="330.48" x2="362.9" y2="330.48" stroke="#1e5fe0" stroke-width="1.5"/>
<line x1="356.9" y1="350.72" x2="362.9" y2="350.72" stroke="#1e5fe0" stroke-width="1.5"/>
<polyline points="74,431.68 93.06,427.13 112.12,410.43 131.18,385.64 150.24,374.5 169.3,365.9 188.36,356.29 207.42,347.18 226.48,343.64 245.54,339.08 264.6,327.95 283.66,329.98 302.72,329.47 321.78,332.51 340.84,335.04 359.9,340.6" fill="none" stroke="#1e5fe0" stroke-width="2.6" stroke-linejoin="round"/>
<circle cx="74" cy="431.68" r="2.2" fill="#1e5fe0"/>
<circle cx="93.06" cy="427.13" r="2.2" fill="#1e5fe0"/>
<circle cx="112.12" cy="410.43" r="2.2" fill="#1e5fe0"/>
<circle cx="131.18" cy="385.64" r="2.2" fill="#1e5fe0"/>
<circle cx="150.24" cy="374.5" r="2.2" fill="#1e5fe0"/>
<circle cx="169.3" cy="365.9" r="2.2" fill="#1e5fe0"/>
<circle cx="188.36" cy="356.29" r="2.2" fill="#1e5fe0"/>
<circle cx="207.42" cy="347.18" r="2.2" fill="#1e5fe0"/>
<circle cx="226.48" cy="343.64" r="2.2" fill="#1e5fe0"/>
<circle cx="245.54" cy="339.08" r="2.2" fill="#1e5fe0"/>
<circle cx="264.6" cy="327.95" r="2.2" fill="#1e5fe0"/>
<circle cx="283.66" cy="329.98" r="2.2" fill="#1e5fe0"/>
<circle cx="302.72" cy="329.47" r="2.2" fill="#1e5fe0"/>
<circle cx="321.78" cy="332.51" r="2.2" fill="#1e5fe0"/>
<circle cx="340.84" cy="335.04" r="2.2" fill="#1e5fe0"/>
<circle cx="359.9" cy="340.6" r="2.2" fill="#1e5fe0"/>
<line x1="74" y1="433.2" x2="74" y2="431.18" stroke="#e8458e" stroke-width="1.5"/>
<line x1="71" y1="431.18" x2="77" y2="431.18" stroke="#e8458e" stroke-width="1.5"/>
<line x1="71" y1="433.2" x2="77" y2="433.2" stroke="#e8458e" stroke-width="1.5"/>
<line x1="93.06" y1="428.14" x2="93.06" y2="425.1" stroke="#e8458e" stroke-width="1.5"/>
<line x1="90.06" y1="425.1" x2="96.06" y2="425.1" stroke="#e8458e" stroke-width="1.5"/>
<line x1="90.06" y1="428.14" x2="96.06" y2="428.14" stroke="#e8458e" stroke-width="1.5"/>
<line x1="112.12" y1="412.45" x2="112.12" y2="403.35" stroke="#e8458e" stroke-width="1.5"/>
<line x1="109.12" y1="403.35" x2="115.12" y2="403.35" stroke="#e8458e" stroke-width="1.5"/>
<line x1="109.12" y1="412.45" x2="115.12" y2="412.45" stroke="#e8458e" stroke-width="1.5"/>
<line x1="131.18" y1="387.15" x2="131.18" y2="377.03" stroke="#e8458e" stroke-width="1.5"/>
<line x1="128.18" y1="377.03" x2="134.18" y2="377.03" stroke="#e8458e" stroke-width="1.5"/>
<line x1="128.18" y1="387.15" x2="134.18" y2="387.15" stroke="#e8458e" stroke-width="1.5"/>
<line x1="150.24" y1="374.5" x2="150.24" y2="360.34" stroke="#e8458e" stroke-width="1.5"/>
<line x1="147.24" y1="360.34" x2="153.24" y2="360.34" stroke="#e8458e" stroke-width="1.5"/>
<line x1="147.24" y1="374.5" x2="153.24" y2="374.5" stroke="#e8458e" stroke-width="1.5"/>
<line x1="169.3" y1="361.35" x2="169.3" y2="345.16" stroke="#e8458e" stroke-width="1.5"/>
<line x1="166.3" y1="345.16" x2="172.3" y2="345.16" stroke="#e8458e" stroke-width="1.5"/>
<line x1="166.3" y1="361.35" x2="172.3" y2="361.35" stroke="#e8458e" stroke-width="1.5"/>
<line x1="188.36" y1="353.76" x2="188.36" y2="335.54" stroke="#e8458e" stroke-width="1.5"/>
<line x1="185.36" y1="335.54" x2="191.36" y2="335.54" stroke="#e8458e" stroke-width="1.5"/>
<line x1="185.36" y1="353.76" x2="191.36" y2="353.76" stroke="#e8458e" stroke-width="1.5"/>
<line x1="207.42" y1="350.22" x2="207.42" y2="329.98" stroke="#e8458e" stroke-width="1.5"/>
<line x1="204.42" y1="329.98" x2="210.42" y2="329.98" stroke="#e8458e" stroke-width="1.5"/>
<line x1="204.42" y1="350.22" x2="210.42" y2="350.22" stroke="#e8458e" stroke-width="1.5"/>
<line x1="226.48" y1="340.1" x2="226.48" y2="319.86" stroke="#e8458e" stroke-width="1.5"/>
<line x1="223.48" y1="319.86" x2="229.48" y2="319.86" stroke="#e8458e" stroke-width="1.5"/>
<line x1="223.48" y1="340.1" x2="229.48" y2="340.1" stroke="#e8458e" stroke-width="1.5"/>
<line x1="245.54" y1="338.07" x2="245.54" y2="313.78" stroke="#e8458e" stroke-width="1.5"/>
<line x1="242.54" y1="313.78" x2="248.54" y2="313.78" stroke="#e8458e" stroke-width="1.5"/>
<line x1="242.54" y1="338.07" x2="248.54" y2="338.07" stroke="#e8458e" stroke-width="1.5"/>
<line x1="264.6" y1="324.92" x2="264.6" y2="298.6" stroke="#e8458e" stroke-width="1.5"/>
<line x1="261.6" y1="298.6" x2="267.6" y2="298.6" stroke="#e8458e" stroke-width="1.5"/>
<line x1="261.6" y1="324.92" x2="267.6" y2="324.92" stroke="#e8458e" stroke-width="1.5"/>
<line x1="283.66" y1="327.95" x2="283.66" y2="301.64" stroke="#e8458e" stroke-width="1.5"/>
<line x1="280.66" y1="301.64" x2="286.66" y2="301.64" stroke="#e8458e" stroke-width="1.5"/>
<line x1="280.66" y1="327.95" x2="286.66" y2="327.95" stroke="#e8458e" stroke-width="1.5"/>
<line x1="302.72" y1="327.45" x2="302.72" y2="305.18" stroke="#e8458e" stroke-width="1.5"/>
<line x1="299.72" y1="305.18" x2="305.72" y2="305.18" stroke="#e8458e" stroke-width="1.5"/>
<line x1="299.72" y1="327.45" x2="305.72" y2="327.45" stroke="#e8458e" stroke-width="1.5"/>
<line x1="321.78" y1="329.98" x2="321.78" y2="309.74" stroke="#e8458e" stroke-width="1.5"/>
<line x1="318.78" y1="309.74" x2="324.78" y2="309.74" stroke="#e8458e" stroke-width="1.5"/>
<line x1="318.78" y1="329.98" x2="324.78" y2="329.98" stroke="#e8458e" stroke-width="1.5"/>
<line x1="340.84" y1="333.52" x2="340.84" y2="313.28" stroke="#e8458e" stroke-width="1.5"/>
<line x1="337.84" y1="313.28" x2="343.84" y2="313.28" stroke="#e8458e" stroke-width="1.5"/>
<line x1="337.84" y1="333.52" x2="343.84" y2="333.52" stroke="#e8458e" stroke-width="1.5"/>
<line x1="359.9" y1="333.52" x2="359.9" y2="318.34" stroke="#e8458e" stroke-width="1.5"/>
<line x1="356.9" y1="318.34" x2="362.9" y2="318.34" stroke="#e8458e" stroke-width="1.5"/>
<line x1="356.9" y1="333.52" x2="362.9" y2="333.52" stroke="#e8458e" stroke-width="1.5"/>
<polyline points="74,432.19 93.06,426.62 112.12,407.9 131.18,382.09 150.24,367.42 169.3,353.25 188.36,344.65 207.42,340.1 226.48,329.98 245.54,325.93 264.6,311.76 283.66,314.8 302.72,316.31 321.78,319.86 340.84,323.4 359.9,325.93" fill="none" stroke="#e8458e" stroke-width="2.6" stroke-linejoin="round"/>
<circle cx="74" cy="432.19" r="2.8" fill="#e8458e"/>
<circle cx="93.06" cy="426.62" r="2.8" fill="#e8458e"/>
<circle cx="112.12" cy="407.9" r="2.8" fill="#e8458e"/>
<circle cx="131.18" cy="382.09" r="2.8" fill="#e8458e"/>
<circle cx="150.24" cy="367.42" r="2.8" fill="#e8458e"/>
<circle cx="169.3" cy="353.25" r="2.8" fill="#e8458e"/>
<circle cx="188.36" cy="344.65" r="2.8" fill="#e8458e"/>
<circle cx="207.42" cy="340.1" r="2.8" fill="#e8458e"/>
<circle cx="226.48" cy="329.98" r="2.8" fill="#e8458e"/>
<circle cx="245.54" cy="325.93" r="2.8" fill="#e8458e"/>
<circle cx="264.6" cy="311.76" r="2.8" fill="#e8458e"/>
<circle cx="283.66" cy="314.8" r="2.8" fill="#e8458e"/>
<circle cx="302.72" cy="316.31" r="2.8" fill="#e8458e"/>
<circle cx="321.78" cy="319.86" r="2.8" fill="#e8458e"/>
<circle cx="340.84" cy="323.4" r="2.8" fill="#e8458e"/>
<circle cx="359.9" cy="325.93" r="2.8" fill="#e8458e"/>
<line x1="93.06" y1="430.42" x2="93.06" y2="428.39" stroke="#f01414" stroke-width="1.5"/>
<line x1="90.06" y1="428.39" x2="96.06" y2="428.39" stroke="#f01414" stroke-width="1.5"/>
<line x1="90.06" y1="430.42" x2="96.06" y2="430.42" stroke="#f01414" stroke-width="1.5"/>
<line x1="112.12" y1="426.37" x2="112.12" y2="423.33" stroke="#f01414" stroke-width="1.5"/>
<line x1="109.12" y1="423.33" x2="115.12" y2="423.33" stroke="#f01414" stroke-width="1.5"/>
<line x1="109.12" y1="426.37" x2="115.12" y2="426.37" stroke="#f01414" stroke-width="1.5"/>
<line x1="131.18" y1="433.96" x2="131.18" y2="410.68" stroke="#f01414" stroke-width="1.5"/>
<line x1="128.18" y1="410.68" x2="134.18" y2="410.68" stroke="#f01414" stroke-width="1.5"/>
<line x1="128.18" y1="433.96" x2="134.18" y2="433.96" stroke="#f01414" stroke-width="1.5"/>
<line x1="150.24" y1="429.66" x2="150.24" y2="406.38" stroke="#f01414" stroke-width="1.5"/>
<line x1="147.24" y1="406.38" x2="153.24" y2="406.38" stroke="#f01414" stroke-width="1.5"/>
<line x1="147.24" y1="429.66" x2="153.24" y2="429.66" stroke="#f01414" stroke-width="1.5"/>
<line x1="169.3" y1="416.75" x2="169.3" y2="413.72" stroke="#f01414" stroke-width="1.5"/>
<line x1="166.3" y1="413.72" x2="172.3" y2="413.72" stroke="#f01414" stroke-width="1.5"/>
<line x1="166.3" y1="416.75" x2="172.3" y2="416.75" stroke="#f01414" stroke-width="1.5"/>
<line x1="188.36" y1="415.74" x2="188.36" y2="412.71" stroke="#f01414" stroke-width="1.5"/>
<line x1="185.36" y1="412.71" x2="191.36" y2="412.71" stroke="#f01414" stroke-width="1.5"/>
<line x1="185.36" y1="415.74" x2="191.36" y2="415.74" stroke="#f01414" stroke-width="1.5"/>
<line x1="207.42" y1="414.22" x2="207.42" y2="409.16" stroke="#f01414" stroke-width="1.5"/>
<line x1="204.42" y1="409.16" x2="210.42" y2="409.16" stroke="#f01414" stroke-width="1.5"/>
<line x1="204.42" y1="414.22" x2="210.42" y2="414.22" stroke="#f01414" stroke-width="1.5"/>
<line x1="226.48" y1="414.98" x2="226.48" y2="402.84" stroke="#f01414" stroke-width="1.5"/>
<line x1="223.48" y1="402.84" x2="229.48" y2="402.84" stroke="#f01414" stroke-width="1.5"/>
<line x1="223.48" y1="414.98" x2="229.48" y2="414.98" stroke="#f01414" stroke-width="1.5"/>
<line x1="245.54" y1="413.47" x2="245.54" y2="401.32" stroke="#f01414" stroke-width="1.5"/>
<line x1="242.54" y1="401.32" x2="248.54" y2="401.32" stroke="#f01414" stroke-width="1.5"/>
<line x1="242.54" y1="413.47" x2="248.54" y2="413.47" stroke="#f01414" stroke-width="1.5"/>
<line x1="264.6" y1="411.44" x2="264.6" y2="399.3" stroke="#f01414" stroke-width="1.5"/>
<line x1="261.6" y1="399.3" x2="267.6" y2="399.3" stroke="#f01414" stroke-width="1.5"/>
<line x1="261.6" y1="411.44" x2="267.6" y2="411.44" stroke="#f01414" stroke-width="1.5"/>
<line x1="283.66" y1="412.45" x2="283.66" y2="400.31" stroke="#f01414" stroke-width="1.5"/>
<line x1="280.66" y1="400.31" x2="286.66" y2="400.31" stroke="#f01414" stroke-width="1.5"/>
<line x1="280.66" y1="412.45" x2="286.66" y2="412.45" stroke="#f01414" stroke-width="1.5"/>
<line x1="302.72" y1="411.44" x2="302.72" y2="399.3" stroke="#f01414" stroke-width="1.5"/>
<line x1="299.72" y1="399.3" x2="305.72" y2="399.3" stroke="#f01414" stroke-width="1.5"/>
<line x1="299.72" y1="411.44" x2="305.72" y2="411.44" stroke="#f01414" stroke-width="1.5"/>
<line x1="321.78" y1="411.44" x2="321.78" y2="399.3" stroke="#f01414" stroke-width="1.5"/>
<line x1="318.78" y1="399.3" x2="324.78" y2="399.3" stroke="#f01414" stroke-width="1.5"/>
<line x1="318.78" y1="411.44" x2="324.78" y2="411.44" stroke="#f01414" stroke-width="1.5"/>
<line x1="340.84" y1="410.43" x2="340.84" y2="400.31" stroke="#f01414" stroke-width="1.5"/>
<line x1="337.84" y1="400.31" x2="343.84" y2="400.31" stroke="#f01414" stroke-width="1.5"/>
<line x1="337.84" y1="410.43" x2="343.84" y2="410.43" stroke="#f01414" stroke-width="1.5"/>
<line x1="359.9" y1="410.43" x2="359.9" y2="400.31" stroke="#f01414" stroke-width="1.5"/>
<line x1="356.9" y1="400.31" x2="362.9" y2="400.31" stroke="#f01414" stroke-width="1.5"/>
<line x1="356.9" y1="410.43" x2="362.9" y2="410.43" stroke="#f01414" stroke-width="1.5"/>
<polyline points="74,433.2 93.06,429.4 112.12,424.85 131.18,422.32 150.24,418.02 169.3,415.24 188.36,414.22 207.42,411.69 226.48,408.91 245.54,407.39 264.6,405.37 283.66,406.38 302.72,405.37 321.78,405.37 340.84,405.37 359.9,405.37" fill="none" stroke="#f01414" stroke-width="2.6" stroke-linejoin="round"/>
<circle cx="74" cy="433.2" r="3.5" fill="#f01414"/>
<circle cx="93.06" cy="429.4" r="3.5" fill="#f01414"/>
<circle cx="112.12" cy="424.85" r="3.5" fill="#f01414"/>
<circle cx="131.18" cy="422.32" r="3.5" fill="#f01414"/>
<circle cx="150.24" cy="418.02" r="3.5" fill="#f01414"/>
<circle cx="169.3" cy="415.24" r="3.5" fill="#f01414"/>
<circle cx="188.36" cy="414.22" r="3.5" fill="#f01414"/>
<circle cx="207.42" cy="411.69" r="3.5" fill="#f01414"/>
<circle cx="226.48" cy="408.91" r="3.5" fill="#f01414"/>
<circle cx="245.54" cy="407.39" r="3.5" fill="#f01414"/>
<circle cx="264.6" cy="405.37" r="3.5" fill="#f01414"/>
<circle cx="283.66" cy="406.38" r="3.5" fill="#f01414"/>
<circle cx="302.72" cy="405.37" r="3.5" fill="#f01414"/>
<circle cx="321.78" cy="405.37" r="3.5" fill="#f01414"/>
<circle cx="340.84" cy="405.37" r="3.5" fill="#f01414"/>
<circle cx="359.9" cy="405.37" r="3.5" fill="#f01414"/>
<polyline points="74,433.2 93.06,429.66 112.12,426.12 131.18,424.34 150.24,420.8 169.3,418.27 188.36,417.01 207.42,418.02 226.48,420.04 245.54,421.06 264.6,420.55 283.66,421.06 302.72,421.56 321.78,421.56 340.84,421.56 359.9,422.07" fill="none" stroke="#22b422" stroke-width="3" stroke-linejoin="round"/>
<circle cx="74" cy="433.2" r="3" fill="#22b422"/>
<circle cx="93.06" cy="429.66" r="3" fill="#22b422"/>
<circle cx="112.12" cy="426.12" r="3" fill="#22b422"/>
<circle cx="131.18" cy="424.34" r="3" fill="#22b422"/>
<circle cx="150.24" cy="420.8" r="3" fill="#22b422"/>
<circle cx="169.3" cy="418.27" r="3" fill="#22b422"/>
<circle cx="188.36" cy="417.01" r="3" fill="#22b422"/>
<circle cx="207.42" cy="418.02" r="3" fill="#22b422"/>
<circle cx="226.48" cy="420.04" r="3" fill="#22b422"/>
<circle cx="245.54" cy="421.06" r="3" fill="#22b422"/>
<circle cx="264.6" cy="420.55" r="3" fill="#22b422"/>
<circle cx="283.66" cy="421.06" r="3" fill="#22b422"/>
<circle cx="302.72" cy="421.56" r="3" fill="#22b422"/>
<circle cx="321.78" cy="421.56" r="3" fill="#22b422"/>
<circle cx="340.84" cy="421.56" r="3" fill="#22b422"/>
<circle cx="359.9" cy="422.07" r="3" fill="#22b422"/>
<line x1="74" y1="428.9" x2="74" y2="426.88" stroke="#000000" stroke-width="1.5"/>
<line x1="71" y1="426.88" x2="77" y2="426.88" stroke="#000000" stroke-width="1.5"/>
<line x1="71" y1="428.9" x2="77" y2="428.9" stroke="#000000" stroke-width="1.5"/>
<line x1="93.06" y1="427.13" x2="93.06" y2="424.09" stroke="#000000" stroke-width="1.5"/>
<line x1="90.06" y1="424.09" x2="96.06" y2="424.09" stroke="#000000" stroke-width="1.5"/>
<line x1="90.06" y1="427.13" x2="96.06" y2="427.13" stroke="#000000" stroke-width="1.5"/>
<line x1="112.12" y1="411.95" x2="112.12" y2="401.83" stroke="#000000" stroke-width="1.5"/>
<line x1="109.12" y1="401.83" x2="115.12" y2="401.83" stroke="#000000" stroke-width="1.5"/>
<line x1="109.12" y1="411.95" x2="115.12" y2="411.95" stroke="#000000" stroke-width="1.5"/>
<line x1="131.18" y1="390.19" x2="131.18" y2="378.05" stroke="#000000" stroke-width="1.5"/>
<line x1="128.18" y1="378.05" x2="134.18" y2="378.05" stroke="#000000" stroke-width="1.5"/>
<line x1="128.18" y1="390.19" x2="134.18" y2="390.19" stroke="#000000" stroke-width="1.5"/>
<line x1="150.24" y1="377.79" x2="150.24" y2="362.61" stroke="#000000" stroke-width="1.5"/>
<line x1="147.24" y1="362.61" x2="153.24" y2="362.61" stroke="#000000" stroke-width="1.5"/>
<line x1="147.24" y1="377.79" x2="153.24" y2="377.79" stroke="#000000" stroke-width="1.5"/>
<line x1="169.3" y1="367.42" x2="169.3" y2="345.16" stroke="#000000" stroke-width="1.5"/>
<line x1="166.3" y1="345.16" x2="172.3" y2="345.16" stroke="#000000" stroke-width="1.5"/>
<line x1="166.3" y1="367.42" x2="172.3" y2="367.42" stroke="#000000" stroke-width="1.5"/>
<line x1="188.36" y1="360.84" x2="188.36" y2="335.54" stroke="#000000" stroke-width="1.5"/>
<line x1="185.36" y1="335.54" x2="191.36" y2="335.54" stroke="#000000" stroke-width="1.5"/>
<line x1="185.36" y1="360.84" x2="191.36" y2="360.84" stroke="#000000" stroke-width="1.5"/>
<line x1="207.42" y1="354.77" x2="207.42" y2="332.51" stroke="#000000" stroke-width="1.5"/>
<line x1="204.42" y1="332.51" x2="210.42" y2="332.51" stroke="#000000" stroke-width="1.5"/>
<line x1="204.42" y1="354.77" x2="210.42" y2="354.77" stroke="#000000" stroke-width="1.5"/>
<line x1="226.48" y1="350.98" x2="226.48" y2="324.66" stroke="#000000" stroke-width="1.5"/>
<line x1="223.48" y1="324.66" x2="229.48" y2="324.66" stroke="#000000" stroke-width="1.5"/>
<line x1="223.48" y1="350.98" x2="229.48" y2="350.98" stroke="#000000" stroke-width="1.5"/>
<line x1="245.54" y1="344.14" x2="245.54" y2="315.81" stroke="#000000" stroke-width="1.5"/>
<line x1="242.54" y1="315.81" x2="248.54" y2="315.81" stroke="#000000" stroke-width="1.5"/>
<line x1="242.54" y1="344.14" x2="248.54" y2="344.14" stroke="#000000" stroke-width="1.5"/>
<line x1="264.6" y1="334.53" x2="264.6" y2="304.17" stroke="#000000" stroke-width="1.5"/>
<line x1="261.6" y1="304.17" x2="267.6" y2="304.17" stroke="#000000" stroke-width="1.5"/>
<line x1="261.6" y1="334.53" x2="267.6" y2="334.53" stroke="#000000" stroke-width="1.5"/>
<line x1="283.66" y1="332.51" x2="283.66" y2="303.16" stroke="#000000" stroke-width="1.5"/>
<line x1="280.66" y1="303.16" x2="286.66" y2="303.16" stroke="#000000" stroke-width="1.5"/>
<line x1="280.66" y1="332.51" x2="286.66" y2="332.51" stroke="#000000" stroke-width="1.5"/>
<line x1="302.72" y1="335.04" x2="302.72" y2="310.75" stroke="#000000" stroke-width="1.5"/>
<line x1="299.72" y1="310.75" x2="305.72" y2="310.75" stroke="#000000" stroke-width="1.5"/>
<line x1="299.72" y1="335.04" x2="305.72" y2="335.04" stroke="#000000" stroke-width="1.5"/>
<line x1="321.78" y1="336.55" x2="321.78" y2="311.25" stroke="#000000" stroke-width="1.5"/>
<line x1="318.78" y1="311.25" x2="324.78" y2="311.25" stroke="#000000" stroke-width="1.5"/>
<line x1="318.78" y1="336.55" x2="324.78" y2="336.55" stroke="#000000" stroke-width="1.5"/>
<line x1="340.84" y1="336.55" x2="340.84" y2="313.28" stroke="#000000" stroke-width="1.5"/>
<line x1="337.84" y1="313.28" x2="343.84" y2="313.28" stroke="#000000" stroke-width="1.5"/>
<line x1="337.84" y1="336.55" x2="343.84" y2="336.55" stroke="#000000" stroke-width="1.5"/>
<line x1="359.9" y1="338.58" x2="359.9" y2="317.33" stroke="#000000" stroke-width="1.5"/>
<line x1="356.9" y1="317.33" x2="362.9" y2="317.33" stroke="#000000" stroke-width="1.5"/>
<line x1="356.9" y1="338.58" x2="362.9" y2="338.58" stroke="#000000" stroke-width="1.5"/>
<polyline points="74,427.89 93.06,425.61 112.12,406.89 131.18,384.12 150.24,370.2 169.3,356.29 188.36,348.19 207.42,343.64 226.48,337.82 245.54,329.98 264.6,319.35 283.66,317.83 302.72,322.89 321.78,323.9 340.84,324.92 359.9,327.95" fill="none" stroke="#000000" stroke-width="2.6" stroke-linejoin="round"/>
<circle cx="74" cy="427.89" r="3.5" fill="#000000"/>
<circle cx="93.06" cy="425.61" r="3.5" fill="#000000"/>
<circle cx="112.12" cy="406.89" r="3.5" fill="#000000"/>
<circle cx="131.18" cy="384.12" r="3.5" fill="#000000"/>
<circle cx="150.24" cy="370.2" r="3.5" fill="#000000"/>
<circle cx="169.3" cy="356.29" r="3.5" fill="#000000"/>
<circle cx="188.36" cy="348.19" r="3.5" fill="#000000"/>
<circle cx="207.42" cy="343.64" r="3.5" fill="#000000"/>
<circle cx="226.48" cy="337.82" r="3.5" fill="#000000"/>
<circle cx="245.54" cy="329.98" r="3.5" fill="#000000"/>
<circle cx="264.6" cy="319.35" r="3.5" fill="#000000"/>
<circle cx="283.66" cy="317.83" r="3.5" fill="#000000"/>
<circle cx="302.72" cy="322.89" r="3.5" fill="#000000"/>
<circle cx="321.78" cy="323.9" r="3.5" fill="#000000"/>
<circle cx="340.84" cy="324.92" r="3.5" fill="#000000"/>
<circle cx="359.9" cy="327.95" r="3.5" fill="#000000"/>
<line x1="389.9" y1="272.9" x2="404" y2="272.9" stroke="#000000" stroke-width="1.9"/>
<circle cx="397" cy="272.9" r="2.5" fill="#000000"/>
<text x="409.6" y="277.4" font-size="12.6">GloSensor</text>
<line x1="389.9" y1="290" x2="404" y2="290" stroke="#22b422" stroke-width="1.9"/>
<circle cx="397" cy="290" r="2.5" fill="#22b422"/>
<text x="409.6" y="294.5" font-size="12.7">+ Smo-Gα<tspan font-size="10" dy="4.2">o</tspan><tspan dy="-4.2"></tspan></text>
<line x1="389.9" y1="307.1" x2="404" y2="307.1" stroke="#e8458e" stroke-width="1.9"/>
<circle cx="397" cy="307.1" r="2.5" fill="#e8458e"/>
<text x="409.6" y="311.6" font-size="12.7">+ Smo-Gα<tspan font-size="10" dy="4.2">o</tspan><tspan dy="-4.2"> , shT6/shT61A</tspan></text>
<line x1="389.9" y1="324.2" x2="404" y2="324.2" stroke="#1e5fe0" stroke-width="1.9"/>
<circle cx="397" cy="324.2" r="2.5" fill="#1e5fe0"/>
<text x="409.6" y="328.7" font-size="12.7">+ Smo-Gα<tspan font-size="10" dy="4.2">o</tspan><tspan dy="-4.2"> , sgPPARD</tspan></text>
<line x1="389.9" y1="341.3" x2="404" y2="341.3" stroke="#f5a04a" stroke-width="1.9"/>
<circle cx="397" cy="341.3" r="2.5" fill="#f5a04a"/>
<text x="409.6" y="345.8" font-size="12.7">+ Smo-Gα<tspan font-size="10" dy="4.2">o</tspan><tspan dy="-4.2"> , sgSREBF2</tspan></text>
<line x1="389.9" y1="358.4" x2="404" y2="358.4" stroke="#f01414" stroke-width="1.9"/>
<circle cx="397" cy="358.4" r="2.5" fill="#f01414"/>
<text x="409.6" y="362.9" font-size="12.7">+ Smo-Gα<tspan font-size="10" dy="4.2">o</tspan><tspan dy="-4.2"> , sgPPARD, oeSREBF2</tspan></text>
<text x="-0.6" y="493.6" font-size="20" stroke="#000" stroke-width="0.35">d</text>
<line x1="51.9" y1="495.8" x2="51.9" y2="631.3" stroke="#000" stroke-width="1.8"/>
<line x1="51" y1="630.4" x2="249.5" y2="630.4" stroke="#000" stroke-width="1.8"/>
<line x1="45" y1="630.4" x2="51.9" y2="630.4" stroke="#000" stroke-width="1.5"/>
<text x="43.8" y="634" font-size="10" text-anchor="end">0</text>
<line x1="45" y1="585.5" x2="51.9" y2="585.5" stroke="#000" stroke-width="1.5"/>
<text x="43.8" y="589.1" font-size="10" text-anchor="end">10</text>
<line x1="45" y1="540.6" x2="51.9" y2="540.6" stroke="#000" stroke-width="1.5"/>
<text x="43.8" y="544.2" font-size="10" text-anchor="end">20</text>
<line x1="45" y1="495.7" x2="51.9" y2="495.7" stroke="#000" stroke-width="1.5"/>
<text x="43.8" y="499.3" font-size="10" text-anchor="end">30</text>
<line x1="68" y1="630.4" x2="68" y2="634.8" stroke="#000" stroke-width="1.5"/>
<text x="68" y="646.5" font-size="10" text-anchor="middle">0.01</text>
<line x1="101.9" y1="630.4" x2="101.9" y2="634.8" stroke="#000" stroke-width="1.5"/>
<text x="101.9" y="646.5" font-size="10" text-anchor="middle">0.5</text>
<line x1="135.8" y1="630.4" x2="135.8" y2="634.8" stroke="#000" stroke-width="1.5"/>
<text x="135.8" y="646.5" font-size="10" text-anchor="middle">1</text>
<line x1="169.6" y1="630.4" x2="169.6" y2="634.8" stroke="#000" stroke-width="1.5"/>
<text x="169.6" y="646.5" font-size="10" text-anchor="middle">20</text>
<line x1="203.5" y1="630.4" x2="203.5" y2="634.8" stroke="#000" stroke-width="1.5"/>
<text x="203.5" y="646.5" font-size="10" text-anchor="middle">50</text>
<line x1="237.4" y1="630.4" x2="237.4" y2="634.8" stroke="#000" stroke-width="1.5"/>
<text x="237.4" y="646.5" font-size="10" text-anchor="middle">100</text>
<text x="150.3" y="660.1" font-size="10" text-anchor="middle" textLength="60" lengthAdjust="spacingAndGlyphs">SAG21k (nM)</text>
<text x="14.6" y="563" font-size="10.8" text-anchor="middle" textLength="105" lengthAdjust="spacingAndGlyphs" transform="rotate(-90 14.6 563)">Relative Gli-luciferase</text>
<text x="29.2" y="563" font-size="10.8" text-anchor="middle" transform="rotate(-90 29.2 563)">activity</text>
<line x1="68" y1="626.81" x2="68" y2="625.91" stroke="#9a6226" stroke-width="1.4"/>
<line x1="65.2" y1="625.91" x2="70.8" y2="625.91" stroke="#9a6226" stroke-width="1.4"/>
<line x1="65.2" y1="626.81" x2="70.8" y2="626.81" stroke="#9a6226" stroke-width="1.4"/>
<line x1="101.9" y1="621.87" x2="101.9" y2="619.17" stroke="#9a6226" stroke-width="1.4"/>
<line x1="99.1" y1="619.17" x2="104.7" y2="619.17" stroke="#9a6226" stroke-width="1.4"/>
<line x1="99.1" y1="621.87" x2="104.7" y2="621.87" stroke="#9a6226" stroke-width="1.4"/>
<line x1="135.8" y1="617.38" x2="135.8" y2="611.99" stroke="#9a6226" stroke-width="1.4"/>
<line x1="133" y1="611.99" x2="138.6" y2="611.99" stroke="#9a6226" stroke-width="1.4"/>
<line x1="133" y1="617.38" x2="138.6" y2="617.38" stroke="#9a6226" stroke-width="1.4"/>
<line x1="169.6" y1="605.26" x2="169.6" y2="594.48" stroke="#9a6226" stroke-width="1.4"/>
<line x1="166.8" y1="594.48" x2="172.4" y2="594.48" stroke="#9a6226" stroke-width="1.4"/>
<line x1="166.8" y1="605.26" x2="172.4" y2="605.26" stroke="#9a6226" stroke-width="1.4"/>
<line x1="203.5" y1="602.11" x2="203.5" y2="594.03" stroke="#9a6226" stroke-width="1.4"/>
<line x1="200.7" y1="594.03" x2="206.3" y2="594.03" stroke="#9a6226" stroke-width="1.4"/>
<line x1="200.7" y1="602.11" x2="206.3" y2="602.11" stroke="#9a6226" stroke-width="1.4"/>
<line x1="237.4" y1="605.7" x2="237.4" y2="594.93" stroke="#9a6226" stroke-width="1.4"/>
<line x1="234.6" y1="594.93" x2="240.2" y2="594.93" stroke="#9a6226" stroke-width="1.4"/>
<line x1="234.6" y1="605.7" x2="240.2" y2="605.7" stroke="#9a6226" stroke-width="1.4"/>
<polyline points="68,626.36 101.9,620.52 135.8,614.68 169.6,599.87 203.5,598.07 237.4,600.32" fill="none" stroke="#9a6226" stroke-width="1.9" stroke-linejoin="round"/>
<circle cx="68" cy="626.36" r="2.8" fill="#9a6226"/>
<circle cx="101.9" cy="620.52" r="2.8" fill="#9a6226"/>
<circle cx="135.8" cy="614.68" r="2.8" fill="#9a6226"/>
<circle cx="169.6" cy="599.87" r="2.8" fill="#9a6226"/>
<circle cx="203.5" cy="598.07" r="2.8" fill="#9a6226"/>
<circle cx="237.4" cy="600.32" r="2.8" fill="#9a6226"/>
<line x1="68" y1="626.81" x2="68" y2="625.01" stroke="#f5a04a" stroke-width="1.4"/>
<line x1="65.2" y1="625.01" x2="70.8" y2="625.01" stroke="#f5a04a" stroke-width="1.4"/>
<line x1="65.2" y1="626.81" x2="70.8" y2="626.81" stroke="#f5a04a" stroke-width="1.4"/>
<line x1="101.9" y1="614.68" x2="101.9" y2="611.09" stroke="#f5a04a" stroke-width="1.4"/>
<line x1="99.1" y1="611.09" x2="104.7" y2="611.09" stroke="#f5a04a" stroke-width="1.4"/>
<line x1="99.1" y1="614.68" x2="104.7" y2="614.68" stroke="#f5a04a" stroke-width="1.4"/>
<line x1="135.8" y1="598.07" x2="135.8" y2="589.99" stroke="#f5a04a" stroke-width="1.4"/>
<line x1="133" y1="589.99" x2="138.6" y2="589.99" stroke="#f5a04a" stroke-width="1.4"/>
<line x1="133" y1="598.07" x2="138.6" y2="598.07" stroke="#f5a04a" stroke-width="1.4"/>
<line x1="169.6" y1="585.95" x2="169.6" y2="576.97" stroke="#f5a04a" stroke-width="1.4"/>
<line x1="166.8" y1="576.97" x2="172.4" y2="576.97" stroke="#f5a04a" stroke-width="1.4"/>
<line x1="166.8" y1="585.95" x2="172.4" y2="585.95" stroke="#f5a04a" stroke-width="1.4"/>
<line x1="203.5" y1="585.05" x2="203.5" y2="574.27" stroke="#f5a04a" stroke-width="1.4"/>
<line x1="200.7" y1="574.27" x2="206.3" y2="574.27" stroke="#f5a04a" stroke-width="1.4"/>
<line x1="200.7" y1="585.05" x2="206.3" y2="585.05" stroke="#f5a04a" stroke-width="1.4"/>
<line x1="237.4" y1="587.3" x2="237.4" y2="578.32" stroke="#f5a04a" stroke-width="1.4"/>
<line x1="234.6" y1="578.32" x2="240.2" y2="578.32" stroke="#f5a04a" stroke-width="1.4"/>
<line x1="234.6" y1="587.3" x2="240.2" y2="587.3" stroke="#f5a04a" stroke-width="1.4"/>
<polyline points="68,625.91 101.9,612.89 135.8,594.03 169.6,581.46 203.5,579.66 237.4,582.81" fill="none" stroke="#f5a04a" stroke-width="1.9" stroke-linejoin="round"/>
<circle cx="68" cy="625.91" r="2.6" fill="#f5a04a"/>
<circle cx="101.9" cy="612.89" r="2.6" fill="#f5a04a"/>
<circle cx="135.8" cy="594.03" r="2.6" fill="#f5a04a"/>
<circle cx="169.6" cy="581.46" r="2.6" fill="#f5a04a"/>
<circle cx="203.5" cy="579.66" r="2.6" fill="#f5a04a"/>
<circle cx="237.4" cy="582.81" r="2.6" fill="#f5a04a"/>
<line x1="68" y1="626.81" x2="68" y2="625.01" stroke="#1e5fe0" stroke-width="1.4"/>
<line x1="65.2" y1="625.01" x2="70.8" y2="625.01" stroke="#1e5fe0" stroke-width="1.4"/>
<line x1="65.2" y1="626.81" x2="70.8" y2="626.81" stroke="#1e5fe0" stroke-width="1.4"/>
<line x1="101.9" y1="612.89" x2="101.9" y2="608.4" stroke="#1e5fe0" stroke-width="1.4"/>
<line x1="99.1" y1="608.4" x2="104.7" y2="608.4" stroke="#1e5fe0" stroke-width="1.4"/>
<line x1="99.1" y1="612.89" x2="104.7" y2="612.89" stroke="#1e5fe0" stroke-width="1.4"/>
<line x1="135.8" y1="585.95" x2="135.8" y2="578.76" stroke="#1e5fe0" stroke-width="1.4"/>
<line x1="133" y1="578.76" x2="138.6" y2="578.76" stroke="#1e5fe0" stroke-width="1.4"/>
<line x1="133" y1="585.95" x2="138.6" y2="585.95" stroke="#1e5fe0" stroke-width="1.4"/>
<line x1="169.6" y1="582.81" x2="169.6" y2="575.62" stroke="#1e5fe0" stroke-width="1.4"/>
<line x1="166.8" y1="575.62" x2="172.4" y2="575.62" stroke="#1e5fe0" stroke-width="1.4"/>
<line x1="166.8" y1="582.81" x2="172.4" y2="582.81" stroke="#1e5fe0" stroke-width="1.4"/>
<line x1="203.5" y1="580.56" x2="203.5" y2="573.38" stroke="#1e5fe0" stroke-width="1.4"/>
<line x1="200.7" y1="573.38" x2="206.3" y2="573.38" stroke="#1e5fe0" stroke-width="1.4"/>
<line x1="200.7" y1="580.56" x2="206.3" y2="580.56" stroke="#1e5fe0" stroke-width="1.4"/>
<line x1="237.4" y1="586.4" x2="237.4" y2="579.21" stroke="#1e5fe0" stroke-width="1.4"/>
<line x1="234.6" y1="579.21" x2="240.2" y2="579.21" stroke="#1e5fe0" stroke-width="1.4"/>
<line x1="234.6" y1="586.4" x2="240.2" y2="586.4" stroke="#1e5fe0" stroke-width="1.4"/>
<polyline points="68,625.91 101.9,610.64 135.8,582.36 169.6,579.21 203.5,576.97 237.4,582.81" fill="none" stroke="#1e5fe0" stroke-width="1.9" stroke-linejoin="round"/>
<circle cx="68" cy="625.91" r="2.6" fill="#1e5fe0"/>
<circle cx="101.9" cy="610.64" r="2.6" fill="#1e5fe0"/>
<circle cx="135.8" cy="582.36" r="2.6" fill="#1e5fe0"/>
<circle cx="169.6" cy="579.21" r="2.6" fill="#1e5fe0"/>
<circle cx="203.5" cy="576.97" r="2.6" fill="#1e5fe0"/>
<circle cx="237.4" cy="582.81" r="2.6" fill="#1e5fe0"/>
<line x1="68" y1="626.81" x2="68" y2="625.01" stroke="#e8458e" stroke-width="1.4"/>
<line x1="65.2" y1="625.01" x2="70.8" y2="625.01" stroke="#e8458e" stroke-width="1.4"/>
<line x1="65.2" y1="626.81" x2="70.8" y2="626.81" stroke="#e8458e" stroke-width="1.4"/>
<line x1="101.9" y1="615.13" x2="101.9" y2="611.54" stroke="#e8458e" stroke-width="1.4"/>
<line x1="99.1" y1="611.54" x2="104.7" y2="611.54" stroke="#e8458e" stroke-width="1.4"/>
<line x1="99.1" y1="615.13" x2="104.7" y2="615.13" stroke="#e8458e" stroke-width="1.4"/>
<line x1="135.8" y1="594.93" x2="135.8" y2="585.95" stroke="#e8458e" stroke-width="1.4"/>
<line x1="133" y1="585.95" x2="138.6" y2="585.95" stroke="#e8458e" stroke-width="1.4"/>
<line x1="133" y1="594.93" x2="138.6" y2="594.93" stroke="#e8458e" stroke-width="1.4"/>
<line x1="169.6" y1="585.95" x2="169.6" y2="576.97" stroke="#e8458e" stroke-width="1.4"/>
<line x1="166.8" y1="576.97" x2="172.4" y2="576.97" stroke="#e8458e" stroke-width="1.4"/>
<line x1="166.8" y1="585.95" x2="172.4" y2="585.95" stroke="#e8458e" stroke-width="1.4"/>
<line x1="203.5" y1="577.87" x2="203.5" y2="570.68" stroke="#e8458e" stroke-width="1.4"/>
<line x1="200.7" y1="570.68" x2="206.3" y2="570.68" stroke="#e8458e" stroke-width="1.4"/>
<line x1="200.7" y1="577.87" x2="206.3" y2="577.87" stroke="#e8458e" stroke-width="1.4"/>
<line x1="237.4" y1="582.36" x2="237.4" y2="573.38" stroke="#e8458e" stroke-width="1.4"/>
<line x1="234.6" y1="573.38" x2="240.2" y2="573.38" stroke="#e8458e" stroke-width="1.4"/>
<line x1="234.6" y1="582.36" x2="240.2" y2="582.36" stroke="#e8458e" stroke-width="1.4"/>
<polyline points="68,625.91 101.9,613.34 135.8,590.44 169.6,581.46 203.5,574.27 237.4,577.87" fill="none" stroke="#e8458e" stroke-width="1.9" stroke-linejoin="round"/>
<circle cx="68" cy="625.91" r="3" fill="#e8458e"/>
<circle cx="101.9" cy="613.34" r="3" fill="#e8458e"/>
<circle cx="135.8" cy="590.44" r="3" fill="#e8458e"/>
<circle cx="169.6" cy="581.46" r="3" fill="#e8458e"/>
<circle cx="203.5" cy="574.27" r="3" fill="#e8458e"/>
<circle cx="237.4" cy="577.87" r="3" fill="#e8458e"/>
<line x1="68" y1="626.36" x2="68" y2="623.66" stroke="#f01414" stroke-width="1.4"/>
<line x1="65.2" y1="623.66" x2="70.8" y2="623.66" stroke="#f01414" stroke-width="1.4"/>
<line x1="65.2" y1="626.36" x2="70.8" y2="626.36" stroke="#f01414" stroke-width="1.4"/>
<line x1="101.9" y1="607.5" x2="101.9" y2="596.73" stroke="#f01414" stroke-width="1.4"/>
<line x1="99.1" y1="596.73" x2="104.7" y2="596.73" stroke="#f01414" stroke-width="1.4"/>
<line x1="99.1" y1="607.5" x2="104.7" y2="607.5" stroke="#f01414" stroke-width="1.4"/>
<line x1="135.8" y1="537.46" x2="135.8" y2="521.29" stroke="#f01414" stroke-width="1.4"/>
<line x1="133" y1="521.29" x2="138.6" y2="521.29" stroke="#f01414" stroke-width="1.4"/>
<line x1="133" y1="537.46" x2="138.6" y2="537.46" stroke="#f01414" stroke-width="1.4"/>
<line x1="169.6" y1="534.31" x2="169.6" y2="507.37" stroke="#f01414" stroke-width="1.4"/>
<line x1="166.8" y1="507.37" x2="172.4" y2="507.37" stroke="#f01414" stroke-width="1.4"/>
<line x1="166.8" y1="534.31" x2="172.4" y2="534.31" stroke="#f01414" stroke-width="1.4"/>
<line x1="203.5" y1="534.76" x2="203.5" y2="503.33" stroke="#f01414" stroke-width="1.4"/>
<line x1="200.7" y1="503.33" x2="206.3" y2="503.33" stroke="#f01414" stroke-width="1.4"/>
<line x1="200.7" y1="534.76" x2="206.3" y2="534.76" stroke="#f01414" stroke-width="1.4"/>
<line x1="237.4" y1="540.6" x2="237.4" y2="511.86" stroke="#f01414" stroke-width="1.4"/>
<line x1="234.6" y1="511.86" x2="240.2" y2="511.86" stroke="#f01414" stroke-width="1.4"/>
<line x1="234.6" y1="540.6" x2="240.2" y2="540.6" stroke="#f01414" stroke-width="1.4"/>
<polyline points="68,625.01 101.9,602.11 135.8,529.38 169.6,520.84 203.5,519.05 237.4,526.23" fill="none" stroke="#f01414" stroke-width="1.9" stroke-linejoin="round"/>
<circle cx="68" cy="625.01" r="2.8" fill="#f01414"/>
<circle cx="101.9" cy="602.11" r="2.8" fill="#f01414"/>
<circle cx="135.8" cy="529.38" r="2.8" fill="#f01414"/>
<circle cx="169.6" cy="520.84" r="2.8" fill="#f01414"/>
<circle cx="203.5" cy="519.05" r="2.8" fill="#f01414"/>
<circle cx="237.4" cy="526.23" r="2.8" fill="#f01414"/>
<line x1="68" y1="626.81" x2="68" y2="624.11" stroke="#000000" stroke-width="1.4"/>
<line x1="65.2" y1="624.11" x2="70.8" y2="624.11" stroke="#000000" stroke-width="1.4"/>
<line x1="65.2" y1="626.81" x2="70.8" y2="626.81" stroke="#000000" stroke-width="1.4"/>
<line x1="101.9" y1="607.73" x2="101.9" y2="600.54" stroke="#000000" stroke-width="1.4"/>
<line x1="99.1" y1="600.54" x2="104.7" y2="600.54" stroke="#000000" stroke-width="1.4"/>
<line x1="99.1" y1="607.73" x2="104.7" y2="607.73" stroke="#000000" stroke-width="1.4"/>
<line x1="135.8" y1="539.7" x2="135.8" y2="530.72" stroke="#000000" stroke-width="1.4"/>
<line x1="133" y1="530.72" x2="138.6" y2="530.72" stroke="#000000" stroke-width="1.4"/>
<line x1="133" y1="539.7" x2="138.6" y2="539.7" stroke="#000000" stroke-width="1.4"/>
<line x1="169.6" y1="528.48" x2="169.6" y2="508.72" stroke="#000000" stroke-width="1.4"/>
<line x1="166.8" y1="508.72" x2="172.4" y2="508.72" stroke="#000000" stroke-width="1.4"/>
<line x1="166.8" y1="528.48" x2="172.4" y2="528.48" stroke="#000000" stroke-width="1.4"/>
<line x1="203.5" y1="523.99" x2="203.5" y2="504.23" stroke="#000000" stroke-width="1.4"/>
<line x1="200.7" y1="504.23" x2="206.3" y2="504.23" stroke="#000000" stroke-width="1.4"/>
<line x1="200.7" y1="523.99" x2="206.3" y2="523.99" stroke="#000000" stroke-width="1.4"/>
<line x1="237.4" y1="525.78" x2="237.4" y2="508.72" stroke="#000000" stroke-width="1.4"/>
<line x1="234.6" y1="508.72" x2="240.2" y2="508.72" stroke="#000000" stroke-width="1.4"/>
<line x1="234.6" y1="525.78" x2="240.2" y2="525.78" stroke="#000000" stroke-width="1.4"/>
<polyline points="68,625.46 101.9,604.13 135.8,535.21 169.6,518.6 203.5,514.11 237.4,517.25" fill="none" stroke="#000000" stroke-width="1.9" stroke-linejoin="round"/>
<circle cx="68" cy="625.46" r="2.8" fill="#000000"/>
<circle cx="101.9" cy="604.13" r="2.8" fill="#000000"/>
<circle cx="135.8" cy="535.21" r="2.8" fill="#000000"/>
<circle cx="169.6" cy="518.6" r="2.8" fill="#000000"/>
<circle cx="203.5" cy="514.11" r="2.8" fill="#000000"/>
<circle cx="237.4" cy="517.25" r="2.8" fill="#000000"/>
<line x1="261.9" y1="497.9" x2="276" y2="497.9" stroke="#000000" stroke-width="2"/>
<circle cx="269" cy="497.9" r="2.9" fill="#000000"/>
<text x="279.3" y="501.6" font-size="10.15">sgCtrl</text>
<line x1="261.9" y1="514.92" x2="276" y2="514.92" stroke="#e8458e" stroke-width="2"/>
<circle cx="269" cy="514.92" r="2.9" fill="#e8458e"/>
<text x="279.3" y="518.62" font-size="10.15">shT6/shT61A</text>
<line x1="261.9" y1="531.94" x2="276" y2="531.94" stroke="#1e5fe0" stroke-width="2"/>
<circle cx="269" cy="531.94" r="2.9" fill="#1e5fe0"/>
<text x="279.3" y="535.64" font-size="10.15">sgPPARD</text>
<line x1="261.9" y1="548.96" x2="276" y2="548.96" stroke="#f5a04a" stroke-width="2"/>
<circle cx="269" cy="548.96" r="2.9" fill="#f5a04a"/>
<text x="279.3" y="552.66" font-size="10.15">sgSREBF2</text>
<line x1="261.9" y1="565.98" x2="276" y2="565.98" stroke="#f01414" stroke-width="2"/>
<circle cx="269" cy="565.98" r="2.9" fill="#f01414"/>
<text x="279.3" y="569.68" font-size="10.15">sgPPARD, oeSREBF2</text>
<line x1="261.9" y1="583" x2="276" y2="583" stroke="#9a6226" stroke-width="2"/>
<circle cx="269" cy="583" r="2.9" fill="#9a6226"/>
<text x="279.3" y="586.7" font-size="10.15">sgPPARD, oeSREBF2, Atorv</text>
<text x="406.2" y="491.2" font-size="20" stroke="#000" stroke-width="0.35">e</text>
<line x1="474.7" y1="507.3" x2="474.7" y2="537.2" stroke="#000" stroke-width="1.6"/>
<line x1="474.7" y1="546.1" x2="474.7" y2="617" stroke="#000" stroke-width="1.6"/>
<line x1="474" y1="616.3" x2="685" y2="616.3" stroke="#000" stroke-width="1.8"/>
<line x1="469" y1="507.3" x2="474.7" y2="507.3" stroke="#000" stroke-width="1.5"/>
<text x="466.6" y="510.9" font-size="10" text-anchor="end">100</text>
<line x1="469" y1="522.25" x2="474.7" y2="522.25" stroke="#000" stroke-width="1.5"/>
<text x="466.6" y="525.85" font-size="10" text-anchor="end">80</text>
<line x1="469" y1="537.2" x2="474.7" y2="537.2" stroke="#000" stroke-width="1.5"/>
<text x="466.6" y="540.8" font-size="10" text-anchor="end">60</text>
<line x1="469" y1="546.22" x2="474.7" y2="546.22" stroke="#000" stroke-width="1.5"/>
<text x="466.6" y="549.82" font-size="10" text-anchor="end">40</text>
<line x1="469" y1="563.74" x2="474.7" y2="563.74" stroke="#000" stroke-width="1.5"/>
<text x="466.6" y="567.34" font-size="10" text-anchor="end">30</text>
<line x1="469" y1="581.26" x2="474.7" y2="581.26" stroke="#000" stroke-width="1.5"/>
<text x="466.6" y="584.86" font-size="10" text-anchor="end">20</text>
<line x1="469" y1="598.78" x2="474.7" y2="598.78" stroke="#000" stroke-width="1.5"/>
<text x="466.6" y="602.38" font-size="10" text-anchor="end">10</text>
<line x1="469" y1="616.3" x2="474.7" y2="616.3" stroke="#000" stroke-width="1.5"/>
<text x="466.6" y="619.9" font-size="10" text-anchor="end">0</text>
<text x="435.2" y="554.7" font-size="10.8" text-anchor="middle" textLength="105" lengthAdjust="spacingAndGlyphs" transform="rotate(-90 435.2 554.7)">Relative Gli-luciferase</text>
<text x="448.4" y="554.7" font-size="10.8" text-anchor="middle" transform="rotate(-90 448.4 554.7)">activity</text>
<line x1="485.3" y1="616.3" x2="485.3" y2="620.6" stroke="#000" stroke-width="1.4"/>
<line x1="502.38" y1="616.3" x2="502.38" y2="620.6" stroke="#000" stroke-width="1.4"/>
<line x1="519.46" y1="616.3" x2="519.46" y2="620.6" stroke="#000" stroke-width="1.4"/>
<line x1="536.54" y1="616.3" x2="536.54" y2="620.6" stroke="#000" stroke-width="1.4"/>
<line x1="553.62" y1="616.3" x2="553.62" y2="620.6" stroke="#000" stroke-width="1.4"/>
<line x1="570.7" y1="616.3" x2="570.7" y2="620.6" stroke="#000" stroke-width="1.4"/>
<line x1="587.78" y1="616.3" x2="587.78" y2="620.6" stroke="#000" stroke-width="1.4"/>
<line x1="604.86" y1="616.3" x2="604.86" y2="620.6" stroke="#000" stroke-width="1.4"/>
<line x1="621.94" y1="616.3" x2="621.94" y2="620.6" stroke="#000" stroke-width="1.4"/>
<line x1="639.02" y1="616.3" x2="639.02" y2="620.6" stroke="#000" stroke-width="1.4"/>
<line x1="656.1" y1="616.3" x2="656.1" y2="620.6" stroke="#000" stroke-width="1.4"/>
<line x1="673.18" y1="616.3" x2="673.18" y2="620.6" stroke="#000" stroke-width="1.4"/>
<line x1="546.4" y1="487" x2="546.4" y2="616.3" stroke="#444" stroke-width="0.9" stroke-dasharray="1.2 1.6"/>
<line x1="614.1" y1="487" x2="614.1" y2="616.3" stroke="#444" stroke-width="0.9" stroke-dasharray="1.2 1.6"/>
<line x1="682.3" y1="487" x2="682.3" y2="616.3" stroke="#444" stroke-width="0.9" stroke-dasharray="1.2 1.6"/>
<text x="481.8" y="496.4" font-size="11" textLength="44.2" lengthAdjust="spacingAndGlyphs">No sterol</text>
<text x="548" y="496.5" font-size="11" textLength="49.6" lengthAdjust="spacingAndGlyphs">Cholesterol</text>
<text x="616.6" y="496.5" font-size="11" textLength="50" lengthAdjust="spacingAndGlyphs">Cholestanol</text>
<text x="473.6" y="634.4" font-size="11" text-anchor="end">ShhN:</text>
<text x="473.6" y="650.3" font-size="11" text-anchor="end" textLength="64.7" lengthAdjust="spacingAndGlyphs">Cyclodextrin:</text>
<line x1="479" y1="630.5" x2="485.4" y2="630.5" stroke="#222" stroke-width="1.05"/>
<line x1="479" y1="647.2" x2="485.4" y2="647.2" stroke="#222" stroke-width="1.05"/>
<line x1="496.79" y1="630.5" x2="503.19" y2="630.5" stroke="#222" stroke-width="1.05"/>
<line x1="499.99" y1="626.9" x2="499.99" y2="634.1" stroke="#222" stroke-width="1.05"/>
<line x1="496.79" y1="647.2" x2="503.19" y2="647.2" stroke="#222" stroke-width="1.05"/>
<line x1="514.58" y1="630.5" x2="520.98" y2="630.5" stroke="#222" stroke-width="1.05"/>
<line x1="514.58" y1="647.2" x2="520.98" y2="647.2" stroke="#222" stroke-width="1.05"/>
<line x1="517.78" y1="643.6" x2="517.78" y2="650.8" stroke="#222" stroke-width="1.05"/>
<line x1="532.37" y1="630.5" x2="538.77" y2="630.5" stroke="#222" stroke-width="1.05"/>
<line x1="535.57" y1="626.9" x2="535.57" y2="634.1" stroke="#222" stroke-width="1.05"/>
<line x1="532.37" y1="647.2" x2="538.77" y2="647.2" stroke="#222" stroke-width="1.05"/>
<line x1="535.57" y1="643.6" x2="535.57" y2="650.8" stroke="#222" stroke-width="1.05"/>
<line x1="550.16" y1="630.5" x2="556.56" y2="630.5" stroke="#222" stroke-width="1.05"/>
<line x1="550.16" y1="647.2" x2="556.56" y2="647.2" stroke="#222" stroke-width="1.05"/>
<line x1="567.95" y1="630.5" x2="574.35" y2="630.5" stroke="#222" stroke-width="1.05"/>
<line x1="571.15" y1="626.9" x2="571.15" y2="634.1" stroke="#222" stroke-width="1.05"/>
<line x1="567.95" y1="647.2" x2="574.35" y2="647.2" stroke="#222" stroke-width="1.05"/>
<line x1="585.74" y1="630.5" x2="592.14" y2="630.5" stroke="#222" stroke-width="1.05"/>
<line x1="585.74" y1="647.2" x2="592.14" y2="647.2" stroke="#222" stroke-width="1.05"/>
<line x1="588.94" y1="643.6" x2="588.94" y2="650.8" stroke="#222" stroke-width="1.05"/>
<line x1="603.53" y1="630.5" x2="609.93" y2="630.5" stroke="#222" stroke-width="1.05"/>
<line x1="606.73" y1="626.9" x2="606.73" y2="634.1" stroke="#222" stroke-width="1.05"/>
<line x1="603.53" y1="647.2" x2="609.93" y2="647.2" stroke="#222" stroke-width="1.05"/>
<line x1="606.73" y1="643.6" x2="606.73" y2="650.8" stroke="#222" stroke-width="1.05"/>
<line x1="621.32" y1="630.5" x2="627.72" y2="630.5" stroke="#222" stroke-width="1.05"/>
<line x1="621.32" y1="647.2" x2="627.72" y2="647.2" stroke="#222" stroke-width="1.05"/>
<line x1="639.11" y1="630.5" x2="645.51" y2="630.5" stroke="#222" stroke-width="1.05"/>
<line x1="642.31" y1="626.9" x2="642.31" y2="634.1" stroke="#222" stroke-width="1.05"/>
<line x1="639.11" y1="647.2" x2="645.51" y2="647.2" stroke="#222" stroke-width="1.05"/>
<line x1="656.9" y1="630.5" x2="663.3" y2="630.5" stroke="#222" stroke-width="1.05"/>
<line x1="656.9" y1="647.2" x2="663.3" y2="647.2" stroke="#222" stroke-width="1.05"/>
<line x1="660.1" y1="643.6" x2="660.1" y2="650.8" stroke="#222" stroke-width="1.05"/>
<line x1="674.69" y1="630.5" x2="681.09" y2="630.5" stroke="#222" stroke-width="1.05"/>
<line x1="677.89" y1="626.9" x2="677.89" y2="634.1" stroke="#222" stroke-width="1.05"/>
<line x1="674.69" y1="647.2" x2="681.09" y2="647.2" stroke="#222" stroke-width="1.05"/>
<line x1="677.89" y1="643.6" x2="677.89" y2="650.8" stroke="#222" stroke-width="1.05"/>
<rect x="481.1" y="614.5" width="8.4" height="1.8" fill="#9a9a9a" stroke="#000" stroke-width="2"/>
<line x1="485.3" y1="613.5" x2="485.3" y2="612.62" stroke="#000" stroke-width="1.3"/>
<line x1="482.8" y1="612.62" x2="487.8" y2="612.62" stroke="#000" stroke-width="1.3"/>
<circle cx="481.86" cy="614.43" r="2.2" fill="#000"/>
<circle cx="488.86" cy="612.79" r="2.2" fill="#000"/>
<circle cx="484.05" cy="612.89" r="2.2" fill="#000"/>
<circle cx="486.93" cy="612.71" r="2.2" fill="#000"/>
<circle cx="485.46" cy="614.6" r="2.2" fill="#000"/>
<circle cx="483.05" cy="614.68" r="2.2" fill="#000"/>
<rect x="498.18" y="577.88" width="8.4" height="38.42" fill="#f87a7a" stroke="#000" stroke-width="2"/>
<line x1="502.38" y1="576.88" x2="502.38" y2="572.68" stroke="#000" stroke-width="1.3"/>
<line x1="499.88" y1="572.68" x2="504.88" y2="572.68" stroke="#000" stroke-width="1.3"/>
<circle cx="498.74" cy="575.86" r="2.2" fill="#000"/>
<circle cx="506.12" cy="571.01" r="2.2" fill="#000"/>
<circle cx="501.31" cy="577.29" r="2.2" fill="#000"/>
<circle cx="503.76" cy="580.48" r="2.2" fill="#000"/>
<circle cx="502.73" cy="579.55" r="2.2" fill="#000"/>
<circle cx="500.16" cy="580.51" r="2.2" fill="#000"/>
<rect x="515.26" y="614.85" width="8.4" height="1.45" fill="#9a9a9a" stroke="#000" stroke-width="2"/>
<line x1="519.46" y1="613.85" x2="519.46" y2="612.97" stroke="#000" stroke-width="1.3"/>
<line x1="516.96" y1="612.97" x2="521.96" y2="612.97" stroke="#000" stroke-width="1.3"/>
<circle cx="516.15" cy="614.77" r="2.2" fill="#000"/>
<circle cx="523.03" cy="614.72" r="2.2" fill="#000"/>
<circle cx="518.17" cy="613.56" r="2.2" fill="#000"/>
<circle cx="521.11" cy="613.54" r="2.2" fill="#000"/>
<circle cx="519.68" cy="615.05" r="2.2" fill="#000"/>
<circle cx="516.88" cy="613.53" r="2.2" fill="#000"/>
<rect x="532.34" y="613.8" width="8.4" height="2.5" fill="#a0f5a0" stroke="#000" stroke-width="2"/>
<line x1="536.54" y1="612.8" x2="536.54" y2="611.92" stroke="#000" stroke-width="1.3"/>
<line x1="534.04" y1="611.92" x2="539.04" y2="611.92" stroke="#000" stroke-width="1.3"/>
<circle cx="533.11" cy="611.54" r="2.2" fill="#000"/>
<circle cx="540.13" cy="612.22" r="2.2" fill="#000"/>
<circle cx="535" cy="613.55" r="2.2" fill="#000"/>
<circle cx="537.84" cy="612.53" r="2.2" fill="#000"/>
<circle cx="537.05" cy="613.11" r="2.2" fill="#000"/>
<circle cx="533.63" cy="611.82" r="2.2" fill="#000"/>
<rect x="549.42" y="614.67" width="8.4" height="1.63" fill="#9a9a9a" stroke="#000" stroke-width="2"/>
<line x1="553.62" y1="613.67" x2="553.62" y2="612.8" stroke="#000" stroke-width="1.3"/>
<line x1="551.12" y1="612.8" x2="556.12" y2="612.8" stroke="#000" stroke-width="1.3"/>
<circle cx="550.52" cy="612.46" r="2.2" fill="#000"/>
<circle cx="556.8" cy="613.06" r="2.2" fill="#000"/>
<circle cx="552.59" cy="614.12" r="2.2" fill="#000"/>
<circle cx="554.83" cy="612.87" r="2.2" fill="#000"/>
<circle cx="554.14" cy="614.55" r="2.2" fill="#000"/>
<circle cx="551.14" cy="614.68" r="2.2" fill="#000"/>
<rect x="566.5" y="546.22" width="8.4" height="70.08" fill="#f87a7a"/>
<rect x="566.5" y="526.74" width="8.4" height="10.47" fill="#f87a7a"/>
<path d="M566.5,546.22 V616.3 H574.9 V546.22 M566.5,537.2 V526.74 H574.9 V537.2" fill="none" stroke="#000" stroke-width="2"/>
<line x1="570.7" y1="526.74" x2="570.7" y2="521.13" stroke="#000" stroke-width="1.3"/>
<line x1="568.2" y1="521.13" x2="573.2" y2="521.13" stroke="#000" stroke-width="1.3"/>
<circle cx="567.18" cy="520.38" r="2.2" fill="#000"/>
<circle cx="574.46" cy="521.85" r="2.2" fill="#000"/>
<circle cx="569.71" cy="529.89" r="2.2" fill="#000"/>
<circle cx="572.03" cy="529.52" r="2.2" fill="#000"/>
<circle cx="571.1" cy="529.29" r="2.2" fill="#000"/>
<circle cx="568.23" cy="532.66" r="2.2" fill="#000"/>
<rect x="583.58" y="614.67" width="8.4" height="1.63" fill="#9a9a9a" stroke="#000" stroke-width="2"/>
<line x1="587.78" y1="613.67" x2="587.78" y2="612.8" stroke="#000" stroke-width="1.3"/>
<line x1="585.28" y1="612.8" x2="590.28" y2="612.8" stroke="#000" stroke-width="1.3"/>
<circle cx="584.7" cy="613.12" r="2.2" fill="#000"/>
<circle cx="591.53" cy="614.94" r="2.2" fill="#000"/>
<circle cx="586.23" cy="612.83" r="2.2" fill="#000"/>
<circle cx="589.62" cy="612.87" r="2.2" fill="#000"/>
<circle cx="588.36" cy="614.49" r="2.2" fill="#000"/>
<circle cx="585.14" cy="614.03" r="2.2" fill="#000"/>
<rect x="600.66" y="583.84" width="8.4" height="32.46" fill="#a0f5a0" stroke="#000" stroke-width="2"/>
<line x1="604.86" y1="582.84" x2="604.86" y2="580.91" stroke="#000" stroke-width="1.3"/>
<line x1="602.36" y1="580.91" x2="607.36" y2="580.91" stroke="#000" stroke-width="1.3"/>
<circle cx="601.53" cy="584.3" r="2.2" fill="#000"/>
<circle cx="608.39" cy="580.11" r="2.2" fill="#000"/>
<circle cx="603.51" cy="582.94" r="2.2" fill="#000"/>
<circle cx="606.86" cy="584.93" r="2.2" fill="#000"/>
<circle cx="604.86" cy="581.37" r="2.2" fill="#000"/>
<circle cx="602.43" cy="582.29" r="2.2" fill="#000"/>
<rect x="617.74" y="614.67" width="8.4" height="1.63" fill="#9a9a9a" stroke="#000" stroke-width="2"/>
<line x1="621.94" y1="613.67" x2="621.94" y2="612.8" stroke="#000" stroke-width="1.3"/>
<line x1="619.44" y1="612.8" x2="624.44" y2="612.8" stroke="#000" stroke-width="1.3"/>
<circle cx="618.79" cy="614.64" r="2.2" fill="#000"/>
<circle cx="625.25" cy="612.67" r="2.2" fill="#000"/>
<circle cx="620.5" cy="614.26" r="2.2" fill="#000"/>
<circle cx="623.31" cy="614.77" r="2.2" fill="#000"/>
<circle cx="622.42" cy="614.46" r="2.2" fill="#000"/>
<circle cx="619.09" cy="614.48" r="2.2" fill="#000"/>
<rect x="634.82" y="570.7" width="8.4" height="45.6" fill="#f87a7a" stroke="#000" stroke-width="2"/>
<line x1="639.02" y1="569.7" x2="639.02" y2="563.74" stroke="#000" stroke-width="1.3"/>
<line x1="636.52" y1="563.74" x2="641.52" y2="563.74" stroke="#000" stroke-width="1.3"/>
<circle cx="635.59" cy="573.64" r="2.2" fill="#000"/>
<circle cx="642.1" cy="568.85" r="2.2" fill="#000"/>
<circle cx="638.19" cy="569.66" r="2.2" fill="#000"/>
<circle cx="640.64" cy="568.58" r="2.2" fill="#000"/>
<circle cx="639.18" cy="564.52" r="2.2" fill="#000"/>
<circle cx="636.69" cy="573.71" r="2.2" fill="#000"/>
<rect x="651.9" y="614.85" width="8.4" height="1.45" fill="#9a9a9a" stroke="#000" stroke-width="2"/>
<line x1="656.1" y1="613.85" x2="656.1" y2="613.15" stroke="#000" stroke-width="1.3"/>
<line x1="653.6" y1="613.15" x2="658.6" y2="613.15" stroke="#000" stroke-width="1.3"/>
<circle cx="652.61" cy="612.93" r="2.2" fill="#000"/>
<circle cx="659.3" cy="613.17" r="2.2" fill="#000"/>
<circle cx="654.72" cy="613.88" r="2.2" fill="#000"/>
<circle cx="657.36" cy="613.76" r="2.2" fill="#000"/>
<circle cx="656.15" cy="614.02" r="2.2" fill="#000"/>
<circle cx="653.75" cy="614.81" r="2.2" fill="#000"/>
<rect x="668.98" y="614.15" width="8.4" height="2.15" fill="#a0f5a0" stroke="#000" stroke-width="2"/>
<line x1="673.18" y1="613.15" x2="673.18" y2="612.45" stroke="#000" stroke-width="1.3"/>
<line x1="670.68" y1="612.45" x2="675.68" y2="612.45" stroke="#000" stroke-width="1.3"/>
<circle cx="669.55" cy="612.46" r="2.2" fill="#000"/>
<circle cx="676.58" cy="612.22" r="2.2" fill="#000"/>
<circle cx="672.07" cy="613.36" r="2.2" fill="#000"/>
<circle cx="674.53" cy="613.84" r="2.2" fill="#000"/>
<circle cx="673.16" cy="613.31" r="2.2" fill="#000"/>
<circle cx="670.51" cy="612.79" r="2.2" fill="#000"/>
<text x="2.2" y="699.9" font-size="20" stroke="#000" stroke-width="0.35">f</text>
<text x="197.7" y="701.7" font-size="11.5" text-anchor="middle">ShhN+cyclodextrin</text>
<line x1="87.3" y1="707.3" x2="301.8" y2="707.3" stroke="#222" stroke-width="1"/>
<text x="45.8" y="720.2" font-size="11.5" text-anchor="middle">Ctrl</text>
<text x="123.1" y="720.2" font-size="11.5" text-anchor="middle" textLength="36" lengthAdjust="spacingAndGlyphs">Vehicle</text>
<text x="194.9" y="720.2" font-size="11.5" text-anchor="middle" textLength="56" lengthAdjust="spacingAndGlyphs">Cholesterol</text>
<text x="272.3" y="720.2" font-size="11.5" text-anchor="middle" textLength="58.2" lengthAdjust="spacingAndGlyphs">Cholestanol</text>
<defs><radialGradient id="sph" cx="0.5" cy="0.5" r="0.5"><stop offset="0" stop-color="#a2a2a2"/><stop offset="0.7" stop-color="#969696"/><stop offset="0.9" stop-color="#7c7c7c"/><stop offset="1" stop-color="#8e8e8e"/></radialGradient><radialGradient id="sphd" cx="0.5" cy="0.5" r="0.5"><stop offset="0" stop-color="#8c8c8c"/><stop offset="0.75" stop-color="#858585"/><stop offset="0.92" stop-color="#6c6c6c"/><stop offset="1" stop-color="#828282"/></radialGradient><radialGradient id="sphl" cx="0.5" cy="0.5" r="0.5"><stop offset="0" stop-color="#b8b8b8"/><stop offset="0.75" stop-color="#acacac"/><stop offset="0.92" stop-color="#949494"/><stop offset="1" stop-color="#a2a2a2"/></radialGradient><radialGradient id="speck" cx="0.5" cy="0.5" r="0.5"><stop offset="0" stop-color="#6a6a6a"/><stop offset="0.55" stop-color="#8e8e8e"/><stop offset="1" stop-color="#d6d6d6" stop-opacity="0"/></radialGradient><filter id="noise" x="0" y="0" width="1" height="1"><feTurbulence type="fractalNoise" baseFrequency="0.45" numOctaves="2" seed="4"/><feColorMatrix type="saturate" values="0"/></filter></defs>
<clipPath id="c1138"><rect x="9.3" y="724.4" width="72.9" height="72.8"/></clipPath>
<g clip-path="url(#c1138)">
<rect x="9.3" y="724.4" width="72.9" height="72.8" fill="#d2d2d2"/>
<circle cx="12.44" cy="728.66" r="5.59" fill="url(#sph)"/>
<circle cx="12.24" cy="731.76" r="1.79" fill="#505050" opacity="0.26"/>
<circle cx="14.44" cy="729.07" r="1.02" fill="#505050" opacity="0.16"/>
<circle cx="10.03" cy="730" r="1.93" fill="#505050" opacity="0.20"/>
<circle cx="9.72" cy="728.33" r="0.97" fill="#505050" opacity="0.18"/>
<circle cx="22.43" cy="728.1" r="6.84" fill="url(#sph)"/>
<circle cx="22.3" cy="728.25" r="1.42" fill="#505050" opacity="0.13"/>
<circle cx="21.89" cy="727.73" r="2.18" fill="#505050" opacity="0.18"/>
<circle cx="21.67" cy="728.49" r="1.52" fill="#505050" opacity="0.21"/>
<circle cx="22.34" cy="727.77" r="2.07" fill="#505050" opacity="0.22"/>
<circle cx="39.08" cy="730.32" r="6.22" fill="url(#sphl)"/>
<circle cx="39.07" cy="730.65" r="1.73" fill="#505050" opacity="0.16"/>
<circle cx="41.49" cy="728.02" r="1.12" fill="#505050" opacity="0.13"/>
<circle cx="39.06" cy="729.19" r="1.53" fill="#505050" opacity="0.19"/>
<circle cx="41.25" cy="730.45" r="1.09" fill="#505050" opacity="0.14"/>
<circle cx="51.84" cy="726.99" r="4.35" fill="url(#sph)"/>
<circle cx="49.96" cy="726.98" r="0.75" fill="#505050" opacity="0.26"/>
<circle cx="50.87" cy="725.94" r="1.67" fill="#505050" opacity="0.23"/>
<circle cx="51.94" cy="727.47" r="1.3" fill="#505050" opacity="0.13"/>
<circle cx="51.76" cy="727.33" r="1.59" fill="#505050" opacity="0.23"/>
<circle cx="63.49" cy="727.55" r="5.59" fill="url(#sphd)"/>
<circle cx="63.43" cy="726.78" r="1.55" fill="#505050" opacity="0.13"/>
<circle cx="61.14" cy="725.89" r="1.09" fill="#505050" opacity="0.19"/>
<circle cx="64.38" cy="726.93" r="1.18" fill="#505050" opacity="0.24"/>
<circle cx="63.92" cy="728.15" r="1.51" fill="#505050" opacity="0.24"/>
<circle cx="74.59" cy="732.54" r="5.59" fill="url(#sph)"/>
<circle cx="77.18" cy="732.72" r="1.65" fill="#505050" opacity="0.15"/>
<circle cx="76.53" cy="732.25" r="1.62" fill="#505050" opacity="0.24"/>
<circle cx="74.85" cy="731.58" r="2.03" fill="#505050" opacity="0.20"/>
<circle cx="74.59" cy="732.54" r="1.23" fill="#505050" opacity="0.15"/>
<circle cx="80.14" cy="725.33" r="3.11" fill="url(#sph)"/>
<circle cx="80.87" cy="724.35" r="0.85" fill="#505050" opacity="0.16"/>
<circle cx="79.14" cy="726.36" r="0.83" fill="#505050" opacity="0.24"/>
<circle cx="80.34" cy="724.9" r="0.54" fill="#505050" opacity="0.26"/>
<circle cx="79.07" cy="724.83" r="0.61" fill="#505050" opacity="0.25"/>
<circle cx="16.32" cy="738.65" r="6.22" fill="url(#sph)"/>
<circle cx="14.92" cy="739.2" r="2.26" fill="#505050" opacity="0.17"/>
<circle cx="15.77" cy="741.22" r="1.23" fill="#505050" opacity="0.25"/>
<circle cx="14.97" cy="741.8" r="2.47" fill="#505050" opacity="0.12"/>
<circle cx="16.35" cy="739.99" r="2.21" fill="#505050" opacity="0.17"/>
<circle cx="29.64" cy="740.31" r="5.59" fill="url(#sphl)"/>
<circle cx="29.6" cy="739.58" r="1" fill="#505050" opacity="0.19"/>
<circle cx="29.71" cy="740.03" r="1.75" fill="#505050" opacity="0.27"/>
<circle cx="32.02" cy="738.67" r="2.08" fill="#505050" opacity="0.17"/>
<circle cx="29.73" cy="738.09" r="0.94" fill="#505050" opacity="0.18"/>
<circle cx="40.74" cy="745.31" r="6.84" fill="url(#sphl)"/>
<circle cx="42.8" cy="743.4" r="1.47" fill="#505050" opacity="0.25"/>
<circle cx="38.58" cy="745.07" r="1.55" fill="#505050" opacity="0.21"/>
<circle cx="38.79" cy="744.89" r="1.36" fill="#505050" opacity="0.13"/>
<circle cx="37.09" cy="745.71" r="2.08" fill="#505050" opacity="0.25"/>
<circle cx="51.84" cy="735.87" r="6.22" fill="url(#sph)"/>
<circle cx="52.54" cy="735.54" r="1.05" fill="#505050" opacity="0.25"/>
<circle cx="52" cy="735.4" r="2.44" fill="#505050" opacity="0.19"/>
<circle cx="52.98" cy="735.79" r="1.04" fill="#505050" opacity="0.27"/>
<circle cx="51.46" cy="736.36" r="1.92" fill="#505050" opacity="0.17"/>
<circle cx="61.27" cy="740.31" r="4.97" fill="url(#sph)"/>
<circle cx="61" cy="739.57" r="1.03" fill="#505050" opacity="0.18"/>
<circle cx="62.51" cy="738.3" r="1.2" fill="#505050" opacity="0.17"/>
<circle cx="60.92" cy="737.97" r="1.24" fill="#505050" opacity="0.27"/>
<circle cx="59.51" cy="739.82" r="1.8" fill="#505050" opacity="0.15"/>
<circle cx="76.81" cy="744.2" r="5.59" fill="url(#sphd)"/>
<circle cx="74.96" cy="745.42" r="2.2" fill="#505050" opacity="0.15"/>
<circle cx="75.8" cy="743.3" r="1.05" fill="#505050" opacity="0.15"/>
<circle cx="79.26" cy="743.68" r="1.47" fill="#505050" opacity="0.23"/>
<circle cx="78.04" cy="744.17" r="0.84" fill="#505050" opacity="0.21"/>
<circle cx="20.21" cy="748.08" r="4.97" fill="url(#sph)"/>
<circle cx="22.06" cy="748.47" r="0.92" fill="#505050" opacity="0.17"/>
<circle cx="19.47" cy="748.28" r="0.94" fill="#505050" opacity="0.24"/>
<circle cx="20.46" cy="747.19" r="1.39" fill="#505050" opacity="0.15"/>
<circle cx="20.89" cy="748.64" r="1.2" fill="#505050" opacity="0.16"/>
<circle cx="29.64" cy="749.75" r="6.22" fill="url(#sphd)"/>
<circle cx="31.32" cy="749.21" r="1.63" fill="#505050" opacity="0.15"/>
<circle cx="29.2" cy="749.91" r="1.4" fill="#505050" opacity="0.24"/>
<circle cx="30.67" cy="751.38" r="1.85" fill="#505050" opacity="0.13"/>
<circle cx="31.35" cy="747.35" r="2.24" fill="#505050" opacity="0.21"/>
<circle cx="51.29" cy="746.97" r="5.59" fill="url(#sphd)"/>
<circle cx="51.74" cy="745.01" r="1.99" fill="#505050" opacity="0.17"/>
<circle cx="51.93" cy="748.09" r="2.09" fill="#505050" opacity="0.19"/>
<circle cx="53.98" cy="745.64" r="1.2" fill="#505050" opacity="0.27"/>
<circle cx="51.26" cy="746.99" r="2.21" fill="#505050" opacity="0.26"/>
<circle cx="60.16" cy="749.19" r="5.59" fill="url(#sph)"/>
<circle cx="60.15" cy="749.93" r="1.64" fill="#505050" opacity="0.12"/>
<circle cx="58.83" cy="751.11" r="1.84" fill="#505050" opacity="0.16"/>
<circle cx="60.55" cy="749.06" r="0.96" fill="#505050" opacity="0.12"/>
<circle cx="59.24" cy="749.52" r="1.09" fill="#505050" opacity="0.14"/>
<circle cx="70.15" cy="753.08" r="5.59" fill="url(#sph)"/>
<circle cx="69.6" cy="751.04" r="1.14" fill="#505050" opacity="0.20"/>
<circle cx="71.61" cy="755.5" r="1.78" fill="#505050" opacity="0.18"/>
<circle cx="70.33" cy="751.71" r="1.64" fill="#505050" opacity="0.17"/>
<circle cx="70" cy="751.82" r="0.93" fill="#505050" opacity="0.21"/>
<circle cx="11.33" cy="757.52" r="4.35" fill="url(#sph)"/>
<circle cx="11.47" cy="758.87" r="1.29" fill="#505050" opacity="0.15"/>
<circle cx="11.86" cy="755.72" r="1.05" fill="#505050" opacity="0.21"/>
<circle cx="9.47" cy="757.69" r="0.91" fill="#505050" opacity="0.26"/>
<circle cx="10.77" cy="757.23" r="1.41" fill="#505050" opacity="0.20"/>
<circle cx="34.64" cy="757.52" r="5.59" fill="url(#sphd)"/>
<circle cx="34.36" cy="755.37" r="1.85" fill="#505050" opacity="0.25"/>
<circle cx="34.91" cy="757.43" r="0.86" fill="#505050" opacity="0.18"/>
<circle cx="32.88" cy="757.03" r="1.37" fill="#505050" opacity="0.15"/>
<circle cx="34.25" cy="758.15" r="2.01" fill="#505050" opacity="0.22"/>
<circle cx="43.52" cy="759.18" r="5.59" fill="url(#sphd)"/>
<circle cx="43.55" cy="759.38" r="1.29" fill="#505050" opacity="0.19"/>
<circle cx="44.48" cy="761.38" r="0.97" fill="#505050" opacity="0.16"/>
<circle cx="41.53" cy="759.54" r="1.48" fill="#505050" opacity="0.25"/>
<circle cx="42.94" cy="758.57" r="1.44" fill="#505050" opacity="0.15"/>
<circle cx="55.72" cy="755.3" r="7.46" fill="url(#sph)"/>
<circle cx="58.07" cy="752.94" r="1.72" fill="#505050" opacity="0.14"/>
<circle cx="57.38" cy="755.54" r="1.5" fill="#505050" opacity="0.20"/>
<circle cx="57.44" cy="755.84" r="2.96" fill="#505050" opacity="0.13"/>
<circle cx="57.69" cy="754.39" r="2.35" fill="#505050" opacity="0.26"/>
<circle cx="67.93" cy="758.63" r="6.22" fill="url(#sph)"/>
<circle cx="67.55" cy="758.26" r="1.61" fill="#505050" opacity="0.18"/>
<circle cx="66.84" cy="756.43" r="1.82" fill="#505050" opacity="0.14"/>
<circle cx="68.01" cy="757.57" r="1.68" fill="#505050" opacity="0.23"/>
<circle cx="67.06" cy="755.2" r="1.03" fill="#505050" opacity="0.20"/>
<circle cx="77.92" cy="755.3" r="4.97" fill="url(#sph)"/>
<circle cx="77.41" cy="755.53" r="1.83" fill="#505050" opacity="0.17"/>
<circle cx="79.1" cy="756.93" r="1.05" fill="#505050" opacity="0.27"/>
<circle cx="79.89" cy="754.64" r="1.49" fill="#505050" opacity="0.21"/>
<circle cx="80.55" cy="755.72" r="1.2" fill="#505050" opacity="0.24"/>
<circle cx="14.66" cy="766.4" r="6.22" fill="url(#sphl)"/>
<circle cx="14.72" cy="766.44" r="2.47" fill="#505050" opacity="0.14"/>
<circle cx="17.43" cy="767.53" r="2.41" fill="#505050" opacity="0.19"/>
<circle cx="14.64" cy="766.89" r="2.03" fill="#505050" opacity="0.27"/>
<circle cx="14.27" cy="770.07" r="1.32" fill="#505050" opacity="0.18"/>
<circle cx="25.76" cy="763.07" r="7.46" fill="url(#sph)"/>
<circle cx="26.64" cy="763.43" r="2.84" fill="#505050" opacity="0.13"/>
<circle cx="22.98" cy="760.78" r="1.43" fill="#505050" opacity="0.20"/>
<circle cx="23.86" cy="762.05" r="2.12" fill="#505050" opacity="0.17"/>
<circle cx="22.23" cy="764.05" r="1.14" fill="#505050" opacity="0.27"/>
<circle cx="41.3" cy="768.61" r="6.84" fill="url(#sph)"/>
<circle cx="40.37" cy="770.85" r="2.5" fill="#505050" opacity="0.23"/>
<circle cx="42.52" cy="766.48" r="2.38" fill="#505050" opacity="0.21"/>
<circle cx="43.91" cy="769.69" r="1.8" fill="#505050" opacity="0.26"/>
<circle cx="42.13" cy="769.23" r="1.64" fill="#505050" opacity="0.20"/>
<circle cx="51.29" cy="767.5" r="6.84" fill="url(#sphd)"/>
<circle cx="53.69" cy="765.75" r="2.1" fill="#505050" opacity="0.23"/>
<circle cx="49.34" cy="767.27" r="1.59" fill="#505050" opacity="0.24"/>
<circle cx="50.5" cy="767.13" r="1.25" fill="#505050" opacity="0.21"/>
<circle cx="51.71" cy="770.72" r="2.25" fill="#505050" opacity="0.27"/>
<circle cx="61.27" cy="765.29" r="6.22" fill="url(#sph)"/>
<circle cx="63.66" cy="766.55" r="1.35" fill="#505050" opacity="0.23"/>
<circle cx="60.12" cy="768.72" r="1.75" fill="#505050" opacity="0.20"/>
<circle cx="60.9" cy="765.32" r="1.17" fill="#505050" opacity="0.26"/>
<circle cx="59.11" cy="762.47" r="2.19" fill="#505050" opacity="0.20"/>
<circle cx="71.82" cy="769.72" r="6.84" fill="url(#sphd)"/>
<circle cx="71.14" cy="772.51" r="1.06" fill="#505050" opacity="0.25"/>
<circle cx="74.21" cy="771.55" r="1.97" fill="#505050" opacity="0.22"/>
<circle cx="72.51" cy="768.88" r="1.48" fill="#505050" opacity="0.16"/>
<circle cx="73.17" cy="767.28" r="1.38" fill="#505050" opacity="0.15"/>
<circle cx="80.14" cy="766.4" r="4.97" fill="url(#sph)"/>
<circle cx="79.8" cy="768.63" r="1.77" fill="#505050" opacity="0.21"/>
<circle cx="79.88" cy="766.36" r="1.07" fill="#505050" opacity="0.16"/>
<circle cx="80.01" cy="763.71" r="0.83" fill="#505050" opacity="0.26"/>
<circle cx="78.04" cy="764.5" r="1.93" fill="#505050" opacity="0.15"/>
<circle cx="19.1" cy="777.49" r="6.84" fill="url(#sph)"/>
<circle cx="21" cy="778.48" r="1.16" fill="#505050" opacity="0.15"/>
<circle cx="18.32" cy="779.31" r="1.26" fill="#505050" opacity="0.15"/>
<circle cx="23.02" cy="777.75" r="1.77" fill="#505050" opacity="0.22"/>
<circle cx="21.23" cy="775.47" r="2.07" fill="#505050" opacity="0.17"/>
<circle cx="30.2" cy="778.6" r="5.59" fill="url(#sphl)"/>
<circle cx="29.97" cy="780.03" r="1.28" fill="#505050" opacity="0.27"/>
<circle cx="31.16" cy="776.04" r="2.08" fill="#505050" opacity="0.13"/>
<circle cx="32.72" cy="778.74" r="1.65" fill="#505050" opacity="0.23"/>
<circle cx="30" cy="779.7" r="1.21" fill="#505050" opacity="0.23"/>
<circle cx="41.3" cy="775.27" r="5.59" fill="url(#sph)"/>
<circle cx="42.75" cy="774.27" r="1.99" fill="#505050" opacity="0.26"/>
<circle cx="39.89" cy="773.99" r="2.08" fill="#505050" opacity="0.22"/>
<circle cx="41.37" cy="775.06" r="1.14" fill="#505050" opacity="0.19"/>
<circle cx="39.13" cy="773.95" r="1.54" fill="#505050" opacity="0.24"/>
<circle cx="54.61" cy="778.6" r="6.84" fill="url(#sph)"/>
<circle cx="53.85" cy="778.66" r="1.22" fill="#505050" opacity="0.17"/>
<circle cx="51.86" cy="777.4" r="1.72" fill="#505050" opacity="0.22"/>
<circle cx="54.52" cy="781.98" r="2.22" fill="#505050" opacity="0.15"/>
<circle cx="54.72" cy="775.96" r="1.25" fill="#505050" opacity="0.26"/>
<circle cx="65.71" cy="777.49" r="5.59" fill="url(#sph)"/>
<circle cx="64.43" cy="779.39" r="1.8" fill="#505050" opacity="0.24"/>
<circle cx="66.07" cy="777.24" r="1" fill="#505050" opacity="0.20"/>
<circle cx="64.3" cy="775.62" r="2.06" fill="#505050" opacity="0.22"/>
<circle cx="64.17" cy="775.89" r="1.85" fill="#505050" opacity="0.14"/>
<circle cx="77.37" cy="780.82" r="6.22" fill="url(#sph)"/>
<circle cx="75.12" cy="780.56" r="2.41" fill="#505050" opacity="0.22"/>
<circle cx="76.94" cy="782.71" r="1.94" fill="#505050" opacity="0.25"/>
<circle cx="79.87" cy="781.78" r="2.02" fill="#505050" opacity="0.26"/>
<circle cx="75.08" cy="778.19" r="1.29" fill="#505050" opacity="0.14"/>
<circle cx="14.66" cy="788.59" r="5.59" fill="url(#sph)"/>
<circle cx="15.18" cy="790.22" r="1.91" fill="#505050" opacity="0.21"/>
<circle cx="14.52" cy="790.05" r="0.9" fill="#505050" opacity="0.24"/>
<circle cx="14.53" cy="786.67" r="1.86" fill="#505050" opacity="0.14"/>
<circle cx="13.46" cy="788.41" r="2.2" fill="#505050" opacity="0.21"/>
<circle cx="27.98" cy="791.37" r="6.84" fill="url(#sphd)"/>
<circle cx="28.6" cy="790.63" r="2.07" fill="#505050" opacity="0.26"/>
<circle cx="29.07" cy="790.53" r="1.48" fill="#505050" opacity="0.25"/>
<circle cx="26.06" cy="794.39" r="2.2" fill="#505050" opacity="0.26"/>
<circle cx="28.72" cy="790.94" r="1.42" fill="#505050" opacity="0.23"/>
<circle cx="40.19" cy="786.37" r="8.08" fill="url(#sphd)"/>
<circle cx="39.3" cy="785.93" r="2.08" fill="#505050" opacity="0.26"/>
<circle cx="37.75" cy="784.38" r="1.48" fill="#505050" opacity="0.23"/>
<circle cx="41.58" cy="783.83" r="2.7" fill="#505050" opacity="0.22"/>
<circle cx="40.03" cy="790.73" r="2.59" fill="#505050" opacity="0.21"/>
<circle cx="50.73" cy="791.37" r="5.59" fill="url(#sph)"/>
<circle cx="48.08" cy="790.72" r="2.15" fill="#505050" opacity="0.12"/>
<circle cx="52.57" cy="792.83" r="0.94" fill="#505050" opacity="0.21"/>
<circle cx="51.48" cy="794.47" r="2.01" fill="#505050" opacity="0.25"/>
<circle cx="50.64" cy="790.97" r="1.88" fill="#505050" opacity="0.16"/>
<circle cx="61.27" cy="789.7" r="6.22" fill="url(#sph)"/>
<circle cx="58.59" cy="787.88" r="1.13" fill="#505050" opacity="0.12"/>
<circle cx="59.64" cy="788.64" r="2.47" fill="#505050" opacity="0.23"/>
<circle cx="62.59" cy="790.38" r="0.94" fill="#505050" opacity="0.26"/>
<circle cx="60.79" cy="789.06" r="2.3" fill="#505050" opacity="0.20"/>
<circle cx="72.37" cy="788.59" r="4.97" fill="url(#sph)"/>
<circle cx="72.51" cy="788.79" r="1.29" fill="#505050" opacity="0.24"/>
<circle cx="71.95" cy="788.68" r="1.01" fill="#505050" opacity="0.24"/>
<circle cx="73.78" cy="789.79" r="0.82" fill="#505050" opacity="0.24"/>
<circle cx="73.42" cy="787.82" r="0.9" fill="#505050" opacity="0.26"/>
<circle cx="80.14" cy="791.92" r="4.35" fill="url(#sph)"/>
<circle cx="81.28" cy="793.81" r="1.31" fill="#505050" opacity="0.24"/>
<circle cx="80.15" cy="791.9" r="1.4" fill="#505050" opacity="0.26"/>
<circle cx="79.3" cy="790.86" r="0.92" fill="#505050" opacity="0.12"/>
<circle cx="81.09" cy="793.57" r="0.93" fill="#505050" opacity="0.22"/>
<circle cx="70.71" cy="737.54" r="1.55" fill="#3a3a3a"/>
<circle cx="71.26" cy="770.83" r="1.55" fill="#3a3a3a"/>
<circle cx="18.54" cy="746.97" r="0.89" fill="#3a3a3a"/>
<circle cx="43.52" cy="760.29" r="1.33" fill="#3a3a3a"/>
<rect x="9.3" y="724.4" width="72.9" height="72.8" fill="#808080" filter="url(#noise)" opacity="0.3" style="mix-blend-mode:multiply"/>
<rect x="68.5" y="793.3" width="10" height="1.6" fill="#f4f4f4"/>
</g>
<clipPath id="c1368"><rect x="84.3" y="724.4" width="72.9" height="72.8"/></clipPath>
<g clip-path="url(#c1368)">
<rect x="84.3" y="724.4" width="72.9" height="72.8" fill="#d8d8d8"/>
<circle cx="121.44" cy="736.43" r="1.37" fill="#7a7a7a"/>
<circle cx="121.5" cy="734.75" r="1.31" fill="#8e8e8e"/>
<circle cx="121.05" cy="736.81" r="1.36" fill="#6e6e6e"/>
<circle cx="121.89" cy="738.48" r="1.15" fill="#a0a0a0"/>
<circle cx="122.18" cy="735.62" r="1.27" fill="#7a7a7a"/>
<circle cx="121.49" cy="736.3" r="1.41" fill="#8e8e8e"/>
<circle cx="119.29" cy="735.43" r="1.26" fill="#6e6e6e"/>
<circle cx="116.73" cy="741.28" r="0.65" fill="#7a7a7a"/>
<circle cx="116.59" cy="742.37" r="0.6" fill="#8e8e8e"/>
<circle cx="116.05" cy="742.03" r="0.8" fill="#6e6e6e"/>
<circle cx="96.38" cy="733.75" r="0.6" fill="#7a7a7a"/>
<circle cx="95.9" cy="733.94" r="0.6" fill="#8e8e8e"/>
<circle cx="96.18" cy="734.34" r="0.64" fill="#6e6e6e"/>
<circle cx="114.76" cy="730.94" r="0.6" fill="#7a7a7a"/>
<circle cx="115.68" cy="731.03" r="0.6" fill="#8e8e8e"/>
<circle cx="114.56" cy="730.42" r="0.6" fill="#6e6e6e"/>
<circle cx="117.53" cy="749.56" r="0.73" fill="#7a7a7a"/>
<circle cx="117.42" cy="749.7" r="0.64" fill="#8e8e8e"/>
<circle cx="118.08" cy="750.32" r="0.85" fill="#6e6e6e"/>
<circle cx="117.23" cy="749.62" r="0.88" fill="#a0a0a0"/>
<circle cx="117.49" cy="749.55" r="1.1" fill="#7a7a7a"/>
<circle cx="117.75" cy="750.3" r="0.77" fill="#8e8e8e"/>
<circle cx="119.32" cy="750.07" r="1.2" fill="#6e6e6e"/>
<circle cx="130.36" cy="749.34" r="0.69" fill="#7a7a7a"/>
<circle cx="131.09" cy="749.89" r="0.68" fill="#8e8e8e"/>
<circle cx="130.31" cy="748.74" r="0.77" fill="#6e6e6e"/>
<circle cx="144.64" cy="744.3" r="1.86" fill="#7a7a7a"/>
<circle cx="144.39" cy="744.06" r="1.58" fill="#8e8e8e"/>
<circle cx="143.35" cy="747.07" r="1.28" fill="#6e6e6e"/>
<circle cx="141.4" cy="745.69" r="1.27" fill="#a0a0a0"/>
<circle cx="143.09" cy="746.4" r="1.14" fill="#7a7a7a"/>
<circle cx="141.21" cy="745.31" r="1.82" fill="#8e8e8e"/>
<circle cx="143.79" cy="748.3" r="1.28" fill="#6e6e6e"/>
<circle cx="140.33" cy="753.44" r="1.36" fill="#7a7a7a"/>
<circle cx="139.79" cy="752.88" r="0.91" fill="#8e8e8e"/>
<circle cx="141.01" cy="751.51" r="1.31" fill="#6e6e6e"/>
<circle cx="140.32" cy="751.79" r="1.48" fill="#a0a0a0"/>
<circle cx="139.44" cy="751.51" r="0.98" fill="#7a7a7a"/>
<circle cx="139.3" cy="751.44" r="1.26" fill="#8e8e8e"/>
<circle cx="140.15" cy="751.69" r="1.42" fill="#6e6e6e"/>
<circle cx="154.07" cy="742.3" r="0.64" fill="#7a7a7a"/>
<circle cx="153.82" cy="742.3" r="0.74" fill="#8e8e8e"/>
<circle cx="153.9" cy="741.02" r="0.6" fill="#6e6e6e"/>
<circle cx="152.19" cy="736.15" r="0.6" fill="#7a7a7a"/>
<circle cx="151.33" cy="737.17" r="0.6" fill="#8e8e8e"/>
<circle cx="151.77" cy="735.81" r="0.6" fill="#6e6e6e"/>
<circle cx="85.84" cy="747.23" r="0.78" fill="#7a7a7a"/>
<circle cx="85.39" cy="747.44" r="0.77" fill="#8e8e8e"/>
<circle cx="85.06" cy="747.89" r="0.68" fill="#6e6e6e"/>
<circle cx="90.03" cy="766.14" r="1.13" fill="#7a7a7a"/>
<circle cx="87.25" cy="765.5" r="1.01" fill="#8e8e8e"/>
<circle cx="89.83" cy="763.42" r="0.89" fill="#6e6e6e"/>
<circle cx="89.06" cy="767.12" r="0.95" fill="#a0a0a0"/>
<circle cx="87.92" cy="765.47" r="0.87" fill="#7a7a7a"/>
<circle cx="87.59" cy="765.3" r="1.38" fill="#8e8e8e"/>
<circle cx="90.01" cy="765.53" r="0.94" fill="#6e6e6e"/>
<circle cx="115.82" cy="767.87" r="0.65" fill="#7a7a7a"/>
<circle cx="116.59" cy="768.23" r="0.82" fill="#8e8e8e"/>
<circle cx="116.54" cy="768.77" r="0.62" fill="#6e6e6e"/>
<circle cx="104.83" cy="770.29" r="0.6" fill="#7a7a7a"/>
<circle cx="104.47" cy="769.87" r="0.6" fill="#8e8e8e"/>
<circle cx="105.11" cy="770.54" r="0.6" fill="#6e6e6e"/>
<circle cx="145.73" cy="762.8" r="1.26" fill="#7a7a7a"/>
<circle cx="146.23" cy="764.02" r="2.18" fill="#8e8e8e"/>
<circle cx="145.17" cy="762.25" r="1.36" fill="#6e6e6e"/>
<circle cx="147.78" cy="765.09" r="2.13" fill="#a0a0a0"/>
<circle cx="145.32" cy="761.51" r="2.1" fill="#7a7a7a"/>
<circle cx="145.74" cy="765.05" r="2.17" fill="#8e8e8e"/>
<circle cx="144.96" cy="765.55" r="1.91" fill="#6e6e6e"/>
<circle cx="143.08" cy="771.29" r="0.82" fill="#7a7a7a"/>
<circle cx="146.62" cy="772.16" r="0.89" fill="#8e8e8e"/>
<circle cx="144.29" cy="770.3" r="1.28" fill="#6e6e6e"/>
<circle cx="143.65" cy="772.13" r="1.51" fill="#a0a0a0"/>
<circle cx="146.62" cy="772.54" r="1.28" fill="#7a7a7a"/>
<circle cx="144.4" cy="773.07" r="0.82" fill="#8e8e8e"/>
<circle cx="146.33" cy="771.91" r="1.35" fill="#6e6e6e"/>
<circle cx="132.33" cy="774.28" r="0.6" fill="#7a7a7a"/>
<circle cx="132.69" cy="773.55" r="0.6" fill="#8e8e8e"/>
<circle cx="132.91" cy="773.73" r="0.6" fill="#6e6e6e"/>
<circle cx="133.39" cy="780.95" r="0.8" fill="#7a7a7a"/>
<circle cx="135.81" cy="781.28" r="1.02" fill="#8e8e8e"/>
<circle cx="133.07" cy="783" r="1.29" fill="#6e6e6e"/>
<circle cx="135.34" cy="782.59" r="1.4" fill="#a0a0a0"/>
<circle cx="133.99" cy="780.25" r="0.91" fill="#7a7a7a"/>
<circle cx="134.74" cy="781.15" r="1.33" fill="#8e8e8e"/>
<circle cx="133.06" cy="781.38" r="1.18" fill="#6e6e6e"/>
<circle cx="126.23" cy="784.73" r="1.12" fill="#7a7a7a"/>
<circle cx="126.19" cy="785.7" r="1.44" fill="#8e8e8e"/>
<circle cx="126.49" cy="784.55" r="0.86" fill="#6e6e6e"/>
<circle cx="125.18" cy="785.89" r="1.16" fill="#a0a0a0"/>
<circle cx="125.64" cy="783.75" r="1.67" fill="#7a7a7a"/>
<circle cx="127.12" cy="785.65" r="1.47" fill="#8e8e8e"/>
<circle cx="126.63" cy="783.64" r="1.14" fill="#6e6e6e"/>
<circle cx="96.76" cy="788.08" r="0.82" fill="#7a7a7a"/>
<circle cx="94.96" cy="786.83" r="1.13" fill="#8e8e8e"/>
<circle cx="96.9" cy="787.17" r="0.66" fill="#6e6e6e"/>
<circle cx="96.4" cy="786.78" r="0.9" fill="#a0a0a0"/>
<circle cx="95.03" cy="787" r="1.19" fill="#7a7a7a"/>
<circle cx="96.87" cy="786.53" r="0.88" fill="#8e8e8e"/>
<circle cx="96.71" cy="787.81" r="0.71" fill="#6e6e6e"/>
<circle cx="143.97" cy="787.02" r="0.92" fill="#7a7a7a"/>
<circle cx="142.73" cy="788.57" r="0.6" fill="#8e8e8e"/>
<circle cx="144.44" cy="787.99" r="0.72" fill="#6e6e6e"/>
<circle cx="143.72" cy="787.8" r="0.99" fill="#a0a0a0"/>
<circle cx="143.12" cy="787.2" r="0.73" fill="#7a7a7a"/>
<circle cx="143.47" cy="787.09" r="1" fill="#8e8e8e"/>
<circle cx="144.16" cy="787.08" r="1.04" fill="#6e6e6e"/>
<circle cx="127.07" cy="792.15" r="0.7" fill="#7a7a7a"/>
<circle cx="127.92" cy="791.89" r="0.68" fill="#8e8e8e"/>
<circle cx="127.23" cy="791.52" r="0.6" fill="#6e6e6e"/>
<circle cx="154.69" cy="777.84" r="0.65" fill="#7a7a7a"/>
<circle cx="155.64" cy="778.56" r="0.6" fill="#8e8e8e"/>
<circle cx="154.55" cy="778" r="0.67" fill="#6e6e6e"/>
<circle cx="83.83" cy="757.32" r="0.61" fill="#7a7a7a"/>
<circle cx="85.33" cy="757.58" r="0.72" fill="#8e8e8e"/>
<circle cx="84.42" cy="758.24" r="0.82" fill="#6e6e6e"/>
<circle cx="122.96" cy="788.67" r="0.6" fill="#7a7a7a"/>
<circle cx="122.87" cy="788.64" r="0.6" fill="#8e8e8e"/>
<circle cx="122.07" cy="789.07" r="0.6" fill="#6e6e6e"/>
<rect x="84.3" y="724.4" width="72.9" height="72.8" fill="#808080" filter="url(#noise)" opacity="0.3" style="mix-blend-mode:multiply"/>
<rect x="144.2" y="793.6" width="9.8" height="1.6" fill="#111"/>
</g>
<clipPath id="c1493"><rect x="158.9" y="724.4" width="73.3" height="72.8"/></clipPath>
<g clip-path="url(#c1493)">
<rect x="158.9" y="724.4" width="73.3" height="72.8" fill="#d6d6d6"/>
<circle cx="165.99" cy="728.74" r="6.18" fill="url(#sph)"/>
<circle cx="164.45" cy="729.82" r="2.14" fill="#505050" opacity="0.23"/>
<circle cx="166.8" cy="727.68" r="2.32" fill="#505050" opacity="0.14"/>
<circle cx="167.89" cy="731.11" r="1.66" fill="#505050" opacity="0.13"/>
<circle cx="164.15" cy="728.94" r="2.42" fill="#505050" opacity="0.26"/>
<circle cx="178.35" cy="732.67" r="6.8" fill="url(#sph)"/>
<circle cx="180.44" cy="731.99" r="1.56" fill="#505050" opacity="0.14"/>
<circle cx="179.04" cy="733.38" r="1.65" fill="#505050" opacity="0.18"/>
<circle cx="177.57" cy="733.74" r="1.86" fill="#505050" opacity="0.15"/>
<circle cx="178.46" cy="733.88" r="1.54" fill="#505050" opacity="0.26"/>
<circle cx="189.02" cy="728.18" r="4.94" fill="url(#sphl)"/>
<circle cx="190.64" cy="728.28" r="0.81" fill="#505050" opacity="0.16"/>
<circle cx="186.72" cy="727.64" r="1.64" fill="#505050" opacity="0.27"/>
<circle cx="189.28" cy="728.43" r="1.09" fill="#505050" opacity="0.13"/>
<circle cx="190.1" cy="727.9" r="1.64" fill="#505050" opacity="0.18"/>
<circle cx="199.13" cy="728.74" r="5.56" fill="url(#sph)"/>
<circle cx="199.82" cy="725.54" r="0.84" fill="#505050" opacity="0.19"/>
<circle cx="201.26" cy="730.35" r="2.22" fill="#505050" opacity="0.14"/>
<circle cx="200.13" cy="727.52" r="1.76" fill="#505050" opacity="0.27"/>
<circle cx="198.24" cy="731.47" r="1.6" fill="#505050" opacity="0.24"/>
<circle cx="208.69" cy="732.11" r="4.94" fill="url(#sphl)"/>
<circle cx="206.61" cy="731.32" r="1.93" fill="#505050" opacity="0.15"/>
<circle cx="210.65" cy="731.17" r="1.09" fill="#505050" opacity="0.19"/>
<circle cx="207.88" cy="729.4" r="1.84" fill="#505050" opacity="0.17"/>
<circle cx="207.36" cy="731.06" r="1.6" fill="#505050" opacity="0.27"/>
<circle cx="219.92" cy="729.87" r="5.56" fill="url(#sph)"/>
<circle cx="218.75" cy="727.22" r="1.93" fill="#505050" opacity="0.23"/>
<circle cx="220.96" cy="729.26" r="1.57" fill="#505050" opacity="0.12"/>
<circle cx="222.1" cy="730.42" r="1.17" fill="#505050" opacity="0.25"/>
<circle cx="222.47" cy="731.98" r="1.84" fill="#505050" opacity="0.19"/>
<circle cx="227.79" cy="736.61" r="4.94" fill="url(#sph)"/>
<circle cx="227.78" cy="736.32" r="0.93" fill="#505050" opacity="0.27"/>
<circle cx="227.62" cy="735.33" r="1.8" fill="#505050" opacity="0.16"/>
<circle cx="228.08" cy="736.54" r="1.02" fill="#505050" opacity="0.15"/>
<circle cx="225.14" cy="736.91" r="1.56" fill="#505050" opacity="0.19"/>
<circle cx="165.43" cy="742.79" r="8.03" fill="url(#sphd)"/>
<circle cx="170.05" cy="743.71" r="2.38" fill="#505050" opacity="0.23"/>
<circle cx="166.2" cy="743.94" r="1.79" fill="#505050" opacity="0.21"/>
<circle cx="163.61" cy="738.57" r="2.45" fill="#505050" opacity="0.23"/>
<circle cx="166.48" cy="740.95" r="1.67" fill="#505050" opacity="0.15"/>
<circle cx="179.47" cy="744.47" r="6.18" fill="url(#sph)"/>
<circle cx="180.68" cy="743.23" r="1.35" fill="#505050" opacity="0.19"/>
<circle cx="181.47" cy="745.8" r="1.56" fill="#505050" opacity="0.19"/>
<circle cx="181.17" cy="744.41" r="1.18" fill="#505050" opacity="0.15"/>
<circle cx="180.81" cy="744.37" r="1.59" fill="#505050" opacity="0.18"/>
<circle cx="189.58" cy="745.6" r="4.33" fill="url(#sphl)"/>
<circle cx="188.75" cy="744.81" r="1.34" fill="#505050" opacity="0.20"/>
<circle cx="189.47" cy="744.43" r="0.98" fill="#505050" opacity="0.25"/>
<circle cx="189.91" cy="745.27" r="1.27" fill="#505050" opacity="0.17"/>
<circle cx="188.41" cy="745.14" r="1.33" fill="#505050" opacity="0.25"/>
<circle cx="197.45" cy="742.79" r="4.94" fill="url(#sphl)"/>
<circle cx="197.3" cy="742.67" r="1.34" fill="#505050" opacity="0.24"/>
<circle cx="197.09" cy="741.92" r="0.99" fill="#505050" opacity="0.20"/>
<circle cx="197.84" cy="742.56" r="0.96" fill="#505050" opacity="0.12"/>
<circle cx="196.84" cy="741.63" r="0.88" fill="#505050" opacity="0.16"/>
<circle cx="207" cy="742.79" r="6.18" fill="url(#sph)"/>
<circle cx="204.08" cy="741.64" r="2.13" fill="#505050" opacity="0.15"/>
<circle cx="204.75" cy="743.38" r="2.36" fill="#505050" opacity="0.21"/>
<circle cx="207.75" cy="744.76" r="1.67" fill="#505050" opacity="0.25"/>
<circle cx="204.98" cy="743.85" r="0.96" fill="#505050" opacity="0.20"/>
<circle cx="217.67" cy="744.47" r="4.94" fill="url(#sphl)"/>
<circle cx="217.58" cy="741.92" r="1.86" fill="#505050" opacity="0.13"/>
<circle cx="219.7" cy="745.63" r="0.98" fill="#505050" opacity="0.23"/>
<circle cx="216.23" cy="746.62" r="1.15" fill="#505050" opacity="0.16"/>
<circle cx="219.05" cy="743.84" r="1.04" fill="#505050" opacity="0.25"/>
<circle cx="161.49" cy="757.96" r="5.56" fill="url(#sphd)"/>
<circle cx="160.46" cy="759.12" r="1.88" fill="#505050" opacity="0.27"/>
<circle cx="159.34" cy="758.83" r="1.67" fill="#505050" opacity="0.17"/>
<circle cx="161.58" cy="757.88" r="1.55" fill="#505050" opacity="0.27"/>
<circle cx="161.08" cy="758.07" r="1.76" fill="#505050" opacity="0.15"/>
<circle cx="177.22" cy="755.71" r="7.42" fill="url(#sphd)"/>
<circle cx="176.45" cy="755.47" r="2.48" fill="#505050" opacity="0.23"/>
<circle cx="175.55" cy="757.44" r="1.2" fill="#505050" opacity="0.26"/>
<circle cx="180.59" cy="757.17" r="1.59" fill="#505050" opacity="0.15"/>
<circle cx="176.76" cy="756.11" r="1.43" fill="#505050" opacity="0.18"/>
<circle cx="190.71" cy="756.27" r="6.8" fill="url(#sph)"/>
<circle cx="190.44" cy="760.18" r="1.1" fill="#505050" opacity="0.16"/>
<circle cx="192.76" cy="754.42" r="2.57" fill="#505050" opacity="0.21"/>
<circle cx="192.49" cy="755.8" r="1.58" fill="#505050" opacity="0.25"/>
<circle cx="187.12" cy="754.45" r="1.3" fill="#505050" opacity="0.19"/>
<circle cx="203.63" cy="750.09" r="3.71" fill="url(#sphl)"/>
<circle cx="203.3" cy="751.27" r="0.68" fill="#505050" opacity="0.15"/>
<circle cx="204.11" cy="750.99" r="1.31" fill="#505050" opacity="0.20"/>
<circle cx="203.33" cy="749.87" r="1.34" fill="#505050" opacity="0.27"/>
<circle cx="204.21" cy="751.98" r="1.14" fill="#505050" opacity="0.26"/>
<circle cx="208.69" cy="757.96" r="6.18" fill="url(#sphl)"/>
<circle cx="208.87" cy="758.82" r="1.09" fill="#505050" opacity="0.19"/>
<circle cx="210.07" cy="755.36" r="1.41" fill="#505050" opacity="0.16"/>
<circle cx="207.43" cy="758.66" r="2.02" fill="#505050" opacity="0.22"/>
<circle cx="210.71" cy="756.59" r="1.49" fill="#505050" opacity="0.21"/>
<circle cx="224.42" cy="753.46" r="6.8" fill="url(#sph)"/>
<circle cx="223.44" cy="755.54" r="1.74" fill="#505050" opacity="0.24"/>
<circle cx="223.03" cy="752.17" r="1.87" fill="#505050" opacity="0.20"/>
<circle cx="221.11" cy="754.74" r="2.03" fill="#505050" opacity="0.23"/>
<circle cx="221.6" cy="752.1" r="1.73" fill="#505050" opacity="0.20"/>
<circle cx="171.04" cy="771.44" r="9.27" fill="url(#sphd)"/>
<circle cx="172.93" cy="774.87" r="2.36" fill="#505050" opacity="0.14"/>
<circle cx="170.88" cy="769.67" r="3.46" fill="#505050" opacity="0.26"/>
<circle cx="171.35" cy="771.93" r="1.87" fill="#505050" opacity="0.26"/>
<circle cx="172.36" cy="769.28" r="1.91" fill="#505050" opacity="0.18"/>
<circle cx="186.21" cy="772.56" r="5.56" fill="url(#sph)"/>
<circle cx="186.58" cy="774.89" r="1.74" fill="#505050" opacity="0.18"/>
<circle cx="185.99" cy="775.62" r="1.3" fill="#505050" opacity="0.21"/>
<circle cx="188.95" cy="770.97" r="2.17" fill="#505050" opacity="0.15"/>
<circle cx="186.54" cy="772.57" r="2.2" fill="#505050" opacity="0.26"/>
<circle cx="198.57" cy="765.82" r="5.56" fill="url(#sphl)"/>
<circle cx="198.44" cy="764.58" r="1.48" fill="#505050" opacity="0.23"/>
<circle cx="197.56" cy="768.58" r="2.04" fill="#505050" opacity="0.16"/>
<circle cx="197.23" cy="767.01" r="1.13" fill="#505050" opacity="0.17"/>
<circle cx="197.52" cy="763.65" r="1.88" fill="#505050" opacity="0.13"/>
<circle cx="212.06" cy="760.2" r="4.33" fill="url(#sph)"/>
<circle cx="210.83" cy="759.62" r="1.5" fill="#505050" opacity="0.17"/>
<circle cx="214.09" cy="760.15" r="1.21" fill="#505050" opacity="0.26"/>
<circle cx="211.42" cy="762.59" r="0.7" fill="#505050" opacity="0.14"/>
<circle cx="214.23" cy="761.37" r="0.71" fill="#505050" opacity="0.19"/>
<circle cx="228.91" cy="764.7" r="4.94" fill="url(#sphl)"/>
<circle cx="229.66" cy="765.58" r="1.31" fill="#505050" opacity="0.20"/>
<circle cx="231.7" cy="765.45" r="1.65" fill="#505050" opacity="0.14"/>
<circle cx="226.8" cy="764.93" r="1.64" fill="#505050" opacity="0.17"/>
<circle cx="227.58" cy="762.91" r="1.39" fill="#505050" opacity="0.22"/>
<circle cx="165.99" cy="783.8" r="4.94" fill="url(#sphl)"/>
<circle cx="166.16" cy="783.93" r="1.87" fill="#505050" opacity="0.19"/>
<circle cx="165.25" cy="782.91" r="1.78" fill="#505050" opacity="0.22"/>
<circle cx="167.31" cy="783.71" r="0.97" fill="#505050" opacity="0.20"/>
<circle cx="166.69" cy="784.02" r="1.2" fill="#505050" opacity="0.22"/>
<circle cx="187.34" cy="783.8" r="6.18" fill="url(#sph)"/>
<circle cx="187.51" cy="783.62" r="1.07" fill="#505050" opacity="0.16"/>
<circle cx="187.8" cy="783.4" r="1.8" fill="#505050" opacity="0.23"/>
<circle cx="188.55" cy="783.85" r="2.06" fill="#505050" opacity="0.26"/>
<circle cx="184.95" cy="781.67" r="2.03" fill="#505050" opacity="0.25"/>
<circle cx="210.93" cy="779.3" r="8.03" fill="url(#sphd)"/>
<circle cx="208.63" cy="775.48" r="2.51" fill="#505050" opacity="0.21"/>
<circle cx="207.5" cy="777.75" r="3.08" fill="#505050" opacity="0.18"/>
<circle cx="212.83" cy="780.81" r="1.59" fill="#505050" opacity="0.15"/>
<circle cx="208.93" cy="777.54" r="1.93" fill="#505050" opacity="0.19"/>
<circle cx="226.66" cy="782.67" r="4.94" fill="url(#sphl)"/>
<circle cx="227.63" cy="782.59" r="1.37" fill="#505050" opacity="0.24"/>
<circle cx="227.95" cy="784.01" r="0.76" fill="#505050" opacity="0.23"/>
<circle cx="225.07" cy="785" r="1.94" fill="#505050" opacity="0.27"/>
<circle cx="228.06" cy="784.55" r="1.42" fill="#505050" opacity="0.25"/>
<circle cx="222.17" cy="771.44" r="4.94" fill="url(#sphl)"/>
<circle cx="221.92" cy="770.56" r="1.15" fill="#505050" opacity="0.23"/>
<circle cx="221.49" cy="772.98" r="1.28" fill="#505050" opacity="0.16"/>
<circle cx="223.19" cy="772.84" r="1.83" fill="#505050" opacity="0.22"/>
<circle cx="220.19" cy="772.37" r="1.5" fill="#505050" opacity="0.19"/>
<circle cx="179.47" cy="791.66" r="4.33" fill="url(#sphl)"/>
<circle cx="180.7" cy="793.16" r="1.29" fill="#505050" opacity="0.24"/>
<circle cx="178.65" cy="793.43" r="0.84" fill="#505050" opacity="0.26"/>
<circle cx="179.15" cy="792.93" r="1.71" fill="#505050" opacity="0.23"/>
<circle cx="179.72" cy="793.31" r="0.91" fill="#505050" opacity="0.17"/>
<circle cx="192.96" cy="793.91" r="4.94" fill="url(#sph)"/>
<circle cx="193.53" cy="795.01" r="1.65" fill="#505050" opacity="0.26"/>
<circle cx="193.96" cy="791.55" r="1.31" fill="#505050" opacity="0.23"/>
<circle cx="192.95" cy="793.59" r="1.83" fill="#505050" opacity="0.20"/>
<circle cx="193.21" cy="793.65" r="1.01" fill="#505050" opacity="0.21"/>
<circle cx="201.94" cy="787.17" r="4.94" fill="url(#sphl)"/>
<circle cx="201.72" cy="786.66" r="0.77" fill="#505050" opacity="0.13"/>
<circle cx="201.26" cy="788.48" r="1.36" fill="#505050" opacity="0.19"/>
<circle cx="201.35" cy="786.93" r="1.21" fill="#505050" opacity="0.17"/>
<circle cx="199.69" cy="785.59" r="1.64" fill="#505050" opacity="0.17"/>
<circle cx="213.18" cy="793.91" r="3.71" fill="url(#sph)"/>
<circle cx="211.98" cy="792.09" r="0.97" fill="#505050" opacity="0.18"/>
<circle cx="213.95" cy="793.35" r="0.99" fill="#505050" opacity="0.19"/>
<circle cx="213.02" cy="795.56" r="1.44" fill="#505050" opacity="0.18"/>
<circle cx="211.81" cy="792.99" r="1.17" fill="#505050" opacity="0.22"/>
<circle cx="223.85" cy="754.02" r="2.47" fill="#3a3a3a"/>
<circle cx="212.62" cy="757.73" r="1.01" fill="#3a3a3a"/>
<circle cx="192.96" cy="739.98" r="0.79" fill="#3a3a3a"/>
<rect x="158.9" y="724.4" width="73.3" height="72.8" fill="#808080" filter="url(#noise)" opacity="0.3" style="mix-blend-mode:multiply"/>
<rect x="219.2" y="793.6" width="9.8" height="1.6" fill="#111"/>
</g>
<clipPath id="c1667"><rect x="234.1" y="724.4" width="72.9" height="72.8"/></clipPath>
<g clip-path="url(#c1667)">
<rect x="234.1" y="724.4" width="72.9" height="72.8" fill="#d8d8d8"/>
<circle cx="274.62" cy="732.43" r="0.68" fill="#7a7a7a"/>
<circle cx="275.52" cy="731.53" r="0.96" fill="#8e8e8e"/>
<circle cx="275.14" cy="732.34" r="1.22" fill="#6e6e6e"/>
<circle cx="274.55" cy="734.12" r="0.89" fill="#a0a0a0"/>
<circle cx="274.95" cy="732.51" r="1.12" fill="#7a7a7a"/>
<circle cx="274.53" cy="732.57" r="1.26" fill="#8e8e8e"/>
<circle cx="274.83" cy="732.75" r="0.79" fill="#6e6e6e"/>
<circle cx="273.8" cy="740.93" r="0.74" fill="#7a7a7a"/>
<circle cx="273.28" cy="740.66" r="0.84" fill="#8e8e8e"/>
<circle cx="273.17" cy="740.73" r="0.6" fill="#6e6e6e"/>
<circle cx="256.56" cy="751.54" r="0.63" fill="#7a7a7a"/>
<circle cx="255.9" cy="750.76" r="0.74" fill="#8e8e8e"/>
<circle cx="254.95" cy="750.93" r="0.83" fill="#6e6e6e"/>
<circle cx="282.47" cy="755.1" r="1.27" fill="#7a7a7a"/>
<circle cx="282.06" cy="755.93" r="1.25" fill="#8e8e8e"/>
<circle cx="282.08" cy="755.6" r="0.8" fill="#6e6e6e"/>
<circle cx="284.29" cy="755.34" r="1.29" fill="#a0a0a0"/>
<circle cx="283.05" cy="756.23" r="0.83" fill="#7a7a7a"/>
<circle cx="282.07" cy="757.58" r="0.76" fill="#8e8e8e"/>
<circle cx="283.83" cy="756.33" r="0.72" fill="#6e6e6e"/>
<circle cx="285.71" cy="761.33" r="1.57" fill="#3a3a3a"/>
<circle cx="249.98" cy="765.26" r="1.46" fill="#3a3a3a"/>
<circle cx="269.33" cy="777.77" r="1.01" fill="#7a7a7a"/>
<circle cx="268.68" cy="776.32" r="1.45" fill="#8e8e8e"/>
<circle cx="266.99" cy="775.82" r="1.33" fill="#6e6e6e"/>
<circle cx="268.2" cy="776.72" r="1.32" fill="#a0a0a0"/>
<circle cx="268.66" cy="776.32" r="1.04" fill="#7a7a7a"/>
<circle cx="268.57" cy="776.87" r="1.41" fill="#8e8e8e"/>
<circle cx="268.37" cy="777.93" r="1.18" fill="#6e6e6e"/>
<circle cx="302.41" cy="774.51" r="0.98" fill="#7a7a7a"/>
<circle cx="302.6" cy="773.14" r="0.95" fill="#8e8e8e"/>
<circle cx="303.36" cy="773.11" r="0.6" fill="#6e6e6e"/>
<circle cx="257.1" cy="782.62" r="0.76" fill="#7a7a7a"/>
<circle cx="257.25" cy="783.84" r="0.6" fill="#8e8e8e"/>
<circle cx="258.63" cy="783.42" r="0.6" fill="#6e6e6e"/>
<circle cx="250.1" cy="790.68" r="0.84" fill="#7a7a7a"/>
<circle cx="250.26" cy="790.37" r="0.82" fill="#8e8e8e"/>
<circle cx="249.92" cy="790.82" r="0.6" fill="#6e6e6e"/>
<circle cx="260.99" cy="794.47" r="1.01" fill="#3a3a3a"/>
<circle cx="234.81" cy="793.91" r="1.57" fill="#3a3a3a"/>
<circle cx="243.71" cy="726.57" r="0.62" fill="#7a7a7a"/>
<circle cx="243.86" cy="726.11" r="0.65" fill="#8e8e8e"/>
<circle cx="244" cy="726.69" r="0.6" fill="#6e6e6e"/>
<circle cx="255.65" cy="726.5" r="0.6" fill="#7a7a7a"/>
<circle cx="255.69" cy="726.51" r="0.6" fill="#8e8e8e"/>
<circle cx="256.02" cy="726.5" r="0.6" fill="#6e6e6e"/>
<circle cx="263.92" cy="725.43" r="0.6" fill="#7a7a7a"/>
<circle cx="262.97" cy="725.33" r="0.6" fill="#8e8e8e"/>
<circle cx="263.29" cy="725.05" r="0.6" fill="#6e6e6e"/>
<circle cx="288.99" cy="792.15" r="0.6" fill="#7a7a7a"/>
<circle cx="288.62" cy="792.27" r="0.72" fill="#8e8e8e"/>
<circle cx="287.94" cy="791.97" r="0.6" fill="#6e6e6e"/>
<circle cx="276.84" cy="756.78" r="0.6" fill="#7a7a7a"/>
<circle cx="276.88" cy="756.68" r="0.6" fill="#8e8e8e"/>
<circle cx="276.88" cy="756.85" r="0.6" fill="#6e6e6e"/>
<circle cx="267.02" cy="755.73" r="0.6" fill="#7a7a7a"/>
<circle cx="266.67" cy="755.16" r="0.6" fill="#8e8e8e"/>
<circle cx="266.98" cy="755.65" r="0.6" fill="#6e6e6e"/>
<circle cx="261.81" cy="757.86" r="0.6" fill="#7a7a7a"/>
<circle cx="262.09" cy="758.11" r="0.6" fill="#8e8e8e"/>
<circle cx="261.58" cy="758.24" r="0.6" fill="#6e6e6e"/>
<circle cx="303.19" cy="756.78" r="0.6" fill="#7a7a7a"/>
<circle cx="303.13" cy="757.04" r="0.6" fill="#8e8e8e"/>
<circle cx="303.26" cy="757.49" r="0.6" fill="#6e6e6e"/>
<circle cx="300.3" cy="760.81" r="0.6" fill="#7a7a7a"/>
<circle cx="301.22" cy="761.62" r="0.6" fill="#8e8e8e"/>
<circle cx="301.05" cy="760.99" r="0.6" fill="#6e6e6e"/>
<circle cx="287.04" cy="765.74" r="0.6" fill="#7a7a7a"/>
<circle cx="286.97" cy="765.37" r="0.6" fill="#8e8e8e"/>
<circle cx="287.09" cy="765.67" r="0.6" fill="#6e6e6e"/>
<rect x="234.1" y="724.4" width="72.9" height="72.8" fill="#808080" filter="url(#noise)" opacity="0.3" style="mix-blend-mode:multiply"/>
<rect x="294.4" y="793.6" width="9.5" height="1.6" fill="#111"/>
</g>
<text x="323.8" y="700" font-size="20" stroke="#000" stroke-width="0.35">g</text>
<line x1="374.5" y1="708.7" x2="374.5" y2="810.8" stroke="#000" stroke-width="1.6"/>
<line x1="373.7" y1="809.9" x2="527.3" y2="809.9" stroke="#000" stroke-width="1.8"/>
<line x1="371" y1="809.9" x2="374.5" y2="809.9" stroke="#000" stroke-width="1.4"/>
<text x="369.4" y="813.6" font-size="10.5" text-anchor="end">0</text>
<line x1="371" y1="776.1" x2="374.5" y2="776.1" stroke="#000" stroke-width="1.4"/>
<text x="369.4" y="779.8" font-size="10.5" text-anchor="end">10</text>
<line x1="371" y1="742.3" x2="374.5" y2="742.3" stroke="#000" stroke-width="1.4"/>
<text x="369.4" y="746" font-size="10.5" text-anchor="end">20</text>
<line x1="371" y1="708.5" x2="374.5" y2="708.5" stroke="#000" stroke-width="1.4"/>
<text x="369.4" y="712.2" font-size="10.5" text-anchor="end">30</text>
<text x="340.8" y="761.8" font-size="10.6" text-anchor="middle" textLength="101.5" lengthAdjust="spacingAndGlyphs" transform="rotate(-90 340.8 761.8)">Relative Gli-luciferase</text>
<text x="353.5" y="767" font-size="10.6" text-anchor="middle" transform="rotate(-90 353.5 767)">activity</text>
<rect x="381.3" y="803.48" width="9.2" height="6.42" fill="#a8a8a8" stroke="#000" stroke-width="1.6"/>
<line x1="385.9" y1="803.48" x2="385.9" y2="801.45" stroke="#000" stroke-width="1.3"/>
<line x1="383.5" y1="801.45" x2="388.3" y2="801.45" stroke="#000" stroke-width="1.3"/>
<line x1="385.9" y1="809.9" x2="385.9" y2="813.9" stroke="#000" stroke-width="1.3"/>
<circle cx="384" cy="806.06" r="1.9" fill="#000"/>
<circle cx="383.61" cy="802.29" r="1.9" fill="#000"/>
<circle cx="384.41" cy="801.43" r="1.9" fill="#000"/>
<circle cx="385.52" cy="806.25" r="1.9" fill="#000"/>
<circle cx="382.8" cy="805.37" r="1.9" fill="#000"/>
<rect x="397.5" y="751.09" width="9.2" height="58.81" fill="#8ec8f6" stroke="#000" stroke-width="1.6"/>
<line x1="402.1" y1="751.09" x2="402.1" y2="747.71" stroke="#000" stroke-width="1.3"/>
<line x1="399.7" y1="747.71" x2="404.5" y2="747.71" stroke="#000" stroke-width="1.3"/>
<line x1="402.1" y1="809.9" x2="402.1" y2="813.9" stroke="#000" stroke-width="1.3"/>
<circle cx="400.98" cy="755.18" r="1.9" fill="#000"/>
<circle cx="400.71" cy="755.79" r="1.9" fill="#000"/>
<circle cx="403.34" cy="748.7" r="1.9" fill="#000"/>
<circle cx="403.72" cy="751.37" r="1.9" fill="#000"/>
<circle cx="404.43" cy="751.55" r="1.9" fill="#000"/>
<rect x="413.8" y="737.23" width="9.2" height="72.67" fill="#f8a0a0" stroke="#000" stroke-width="1.6"/>
<line x1="418.4" y1="737.23" x2="418.4" y2="729.79" stroke="#000" stroke-width="1.3"/>
<line x1="416" y1="729.79" x2="420.8" y2="729.79" stroke="#000" stroke-width="1.3"/>
<line x1="418.4" y1="809.9" x2="418.4" y2="813.9" stroke="#000" stroke-width="1.3"/>
<circle cx="419.33" cy="731.74" r="1.9" fill="#000"/>
<circle cx="416.47" cy="739.12" r="1.9" fill="#000"/>
<circle cx="421.4" cy="733.55" r="1.9" fill="#000"/>
<circle cx="420.65" cy="738.73" r="1.9" fill="#000"/>
<circle cx="418.58" cy="746.89" r="1.9" fill="#000"/>
<rect x="429.9" y="799.42" width="9.2" height="10.48" fill="#a8a8a8" stroke="#000" stroke-width="1.6"/>
<line x1="434.5" y1="799.42" x2="434.5" y2="797.39" stroke="#000" stroke-width="1.3"/>
<line x1="432.1" y1="797.39" x2="436.9" y2="797.39" stroke="#000" stroke-width="1.3"/>
<line x1="434.5" y1="809.9" x2="434.5" y2="813.9" stroke="#000" stroke-width="1.3"/>
<circle cx="436.69" cy="801.75" r="1.9" fill="#000"/>
<circle cx="432.66" cy="798.85" r="1.9" fill="#000"/>
<circle cx="435.11" cy="797.83" r="1.9" fill="#000"/>
<circle cx="435.22" cy="797.56" r="1.9" fill="#000"/>
<circle cx="436.26" cy="798.15" r="1.9" fill="#000"/>
<rect x="446.1" y="798.41" width="9.2" height="11.49" fill="#8ec8f6" stroke="#000" stroke-width="1.6"/>
<line x1="450.7" y1="798.41" x2="450.7" y2="796.72" stroke="#000" stroke-width="1.3"/>
<line x1="448.3" y1="796.72" x2="453.1" y2="796.72" stroke="#000" stroke-width="1.3"/>
<line x1="450.7" y1="809.9" x2="450.7" y2="813.9" stroke="#000" stroke-width="1.3"/>
<circle cx="448.05" cy="798.9" r="1.9" fill="#000"/>
<circle cx="448.35" cy="798.01" r="1.9" fill="#000"/>
<circle cx="449.63" cy="798.49" r="1.9" fill="#000"/>
<circle cx="448.51" cy="797.48" r="1.9" fill="#000"/>
<circle cx="447.96" cy="796.2" r="1.9" fill="#000"/>
<rect x="462.2" y="796.38" width="9.2" height="13.52" fill="#f8a0a0" stroke="#000" stroke-width="1.6"/>
<line x1="466.8" y1="796.38" x2="466.8" y2="794.35" stroke="#000" stroke-width="1.3"/>
<line x1="464.4" y1="794.35" x2="469.2" y2="794.35" stroke="#000" stroke-width="1.3"/>
<line x1="466.8" y1="809.9" x2="466.8" y2="813.9" stroke="#000" stroke-width="1.3"/>
<circle cx="468.24" cy="796.75" r="1.9" fill="#000"/>
<circle cx="466.78" cy="796.17" r="1.9" fill="#000"/>
<circle cx="465.04" cy="794.51" r="1.9" fill="#000"/>
<circle cx="466.92" cy="793.68" r="1.9" fill="#000"/>
<circle cx="468.32" cy="798.66" r="1.9" fill="#000"/>
<rect x="478.9" y="796.38" width="9.2" height="13.52" fill="#a8a8a8" stroke="#000" stroke-width="1.6"/>
<line x1="483.5" y1="796.38" x2="483.5" y2="794.69" stroke="#000" stroke-width="1.3"/>
<line x1="481.1" y1="794.69" x2="485.9" y2="794.69" stroke="#000" stroke-width="1.3"/>
<line x1="483.5" y1="809.9" x2="483.5" y2="813.9" stroke="#000" stroke-width="1.3"/>
<circle cx="482.25" cy="798.71" r="1.9" fill="#000"/>
<circle cx="485.69" cy="795.26" r="1.9" fill="#000"/>
<circle cx="486.52" cy="794.51" r="1.9" fill="#000"/>
<circle cx="481.96" cy="797.87" r="1.9" fill="#000"/>
<circle cx="484.46" cy="796.25" r="1.9" fill="#000"/>
<rect x="494.7" y="796.72" width="9.2" height="13.18" fill="#8ec8f6" stroke="#000" stroke-width="1.6"/>
<line x1="499.3" y1="796.72" x2="499.3" y2="795.7" stroke="#000" stroke-width="1.3"/>
<line x1="496.9" y1="795.7" x2="501.7" y2="795.7" stroke="#000" stroke-width="1.3"/>
<line x1="499.3" y1="809.9" x2="499.3" y2="813.9" stroke="#000" stroke-width="1.3"/>
<circle cx="500.38" cy="796.7" r="1.9" fill="#000"/>
<circle cx="497.52" cy="795.71" r="1.9" fill="#000"/>
<circle cx="500.41" cy="797.68" r="1.9" fill="#000"/>
<circle cx="500.55" cy="797.15" r="1.9" fill="#000"/>
<circle cx="496.48" cy="795.73" r="1.9" fill="#000"/>
<rect x="511.3" y="797.39" width="9.2" height="12.51" fill="#f8a0a0" stroke="#000" stroke-width="1.6"/>
<line x1="515.9" y1="797.39" x2="515.9" y2="795.7" stroke="#000" stroke-width="1.3"/>
<line x1="513.5" y1="795.7" x2="518.3" y2="795.7" stroke="#000" stroke-width="1.3"/>
<line x1="515.9" y1="809.9" x2="515.9" y2="813.9" stroke="#000" stroke-width="1.3"/>
<circle cx="517.7" cy="798.44" r="1.9" fill="#000"/>
<circle cx="517.8" cy="799.5" r="1.9" fill="#000"/>
<circle cx="516.32" cy="798.56" r="1.9" fill="#000"/>
<circle cx="514.34" cy="795.84" r="1.9" fill="#000"/>
<circle cx="518.89" cy="796.54" r="1.9" fill="#000"/>
<line x1="384.4" y1="740.4" x2="402.7" y2="740.4" stroke="#555" stroke-width="1.3"/>
<text x="392.6" y="743.6" font-size="14.5" text-anchor="middle" fill="#222" stroke="#222" stroke-width="0.3">***</text>
<line x1="403.8" y1="720.2" x2="421.2" y2="720.2" stroke="#555" stroke-width="1.3"/>
<text x="411.2" y="724.2" font-size="14.5" text-anchor="middle" fill="#222" stroke="#222" stroke-width="0.3">*</text>
<line x1="430.6" y1="791.2" x2="448.6" y2="791.2" stroke="#333" stroke-width="1.1"/>
<text x="439.4" y="788" font-size="11.5" text-anchor="middle">NS</text>
<line x1="480.3" y1="787.5" x2="498.7" y2="787.5" stroke="#333" stroke-width="1.1"/>
<text x="489.5" y="784" font-size="11.5" text-anchor="middle">NS</text>
<line x1="426.5" y1="811" x2="426.5" y2="836.5" stroke="#333" stroke-width="0.9" stroke-dasharray="2 1.5"/>
<line x1="474.6" y1="811" x2="474.6" y2="836.5" stroke="#333" stroke-width="0.9" stroke-dasharray="2 1.5"/>
<text x="348.3" y="826.6" font-size="12.8" textLength="28.3" lengthAdjust="spacingAndGlyphs">Smo:</text>
<text x="392.9" y="826.6" font-size="12" text-anchor="middle" textLength="15.8" lengthAdjust="spacingAndGlyphs">WT</text>
<text x="448.3" y="826.4" font-size="11.2" text-anchor="middle" textLength="31.2" lengthAdjust="spacingAndGlyphs">V333F</text>
<text x="498.7" y="826.4" font-size="11.2" text-anchor="middle" textLength="32.7" lengthAdjust="spacingAndGlyphs">T470Q</text>
<rect x="460.6" y="705.2" width="11.4" height="5.9" fill="#a8a8a8" stroke="#1a1a1a" stroke-width="1.7"/>
<text x="476.6" y="711" font-size="10.7">Ctrl</text>
<rect x="460.6" y="717.8" width="11.4" height="5.9" fill="#8ec8f6" stroke="#1a1a1a" stroke-width="1.7"/>
<text x="476.6" y="723.6" font-size="10.7" textLength="49.9" lengthAdjust="spacingAndGlyphs">Cholesterol</text>
<rect x="460.6" y="730.4" width="11.4" height="5.9" fill="#f8a0a0" stroke="#1a1a1a" stroke-width="1.7"/>
<text x="476.6" y="736.2" font-size="10.7">ShhN</text>
<text x="545.4" y="702.2" font-size="20" stroke="#000" stroke-width="0.35">h</text>
<text x="610" y="704.6" font-size="12.6" text-anchor="middle">Smo</text>
<line x1="566.6" y1="708.9" x2="652.1" y2="708.9" stroke="#666" stroke-width="1"/>
<text x="587.7" y="723.3" font-size="12.4" text-anchor="middle">WT</text>
<text x="637.5" y="723.3" font-size="12.5" text-anchor="middle" textLength="37.5" lengthAdjust="spacingAndGlyphs">V333F</text>
<clipPath id="c1862"><rect x="563.2" y="725.9" width="47.7" height="46.7"/></clipPath>
<g clip-path="url(#c1862)">
<rect x="563.2" y="725.9" width="47.7" height="46.7" fill="#d4d4d4"/>
<circle cx="566.84" cy="733.95" r="3.53" fill="url(#sph)"/>
<circle cx="566.45" cy="733.71" r="1.1" fill="#505050" opacity="0.23"/>
<circle cx="565.15" cy="734.01" r="0.92" fill="#505050" opacity="0.22"/>
<circle cx="567.6" cy="735.42" r="1.25" fill="#505050" opacity="0.22"/>
<circle cx="566.31" cy="734.04" r="0.89" fill="#505050" opacity="0.19"/>
<circle cx="574.87" cy="733.95" r="4.01" fill="url(#sph)"/>
<circle cx="574.69" cy="733.56" r="0.78" fill="#505050" opacity="0.24"/>
<circle cx="573.51" cy="735.4" r="1.49" fill="#505050" opacity="0.14"/>
<circle cx="576.17" cy="735.51" r="1.34" fill="#505050" opacity="0.17"/>
<circle cx="576.6" cy="733.29" r="1.34" fill="#505050" opacity="0.16"/>
<circle cx="583.63" cy="730.3" r="4.82" fill="url(#sphd)"/>
<circle cx="584.88" cy="730" r="0.97" fill="#505050" opacity="0.16"/>
<circle cx="583.77" cy="730.28" r="0.99" fill="#505050" opacity="0.22"/>
<circle cx="580.95" cy="729.85" r="1.92" fill="#505050" opacity="0.15"/>
<circle cx="582.53" cy="730.47" r="0.77" fill="#505050" opacity="0.20"/>
<circle cx="594.58" cy="731.03" r="3.21" fill="url(#sph)"/>
<circle cx="595.47" cy="730.14" r="0.49" fill="#505050" opacity="0.20"/>
<circle cx="594.45" cy="731.16" r="0.67" fill="#505050" opacity="0.22"/>
<circle cx="594.21" cy="731.53" r="0.99" fill="#505050" opacity="0.17"/>
<circle cx="593.18" cy="730.13" r="0.69" fill="#505050" opacity="0.18"/>
<circle cx="601.88" cy="727.38" r="3.21" fill="url(#sph)"/>
<circle cx="602.27" cy="727.76" r="1.1" fill="#505050" opacity="0.21"/>
<circle cx="602.85" cy="728" r="1.18" fill="#505050" opacity="0.15"/>
<circle cx="602.12" cy="726.56" r="1.22" fill="#505050" opacity="0.25"/>
<circle cx="600.88" cy="726.05" r="1.1" fill="#505050" opacity="0.18"/>
<circle cx="606.26" cy="733.22" r="4.82" fill="url(#sphd)"/>
<circle cx="606.51" cy="732.96" r="1.43" fill="#505050" opacity="0.18"/>
<circle cx="605.21" cy="732.85" r="1.13" fill="#505050" opacity="0.14"/>
<circle cx="604.51" cy="734.36" r="1.88" fill="#505050" opacity="0.20"/>
<circle cx="607.23" cy="734.12" r="1.12" fill="#505050" opacity="0.15"/>
<circle cx="578.52" cy="741.25" r="3.21" fill="url(#sph)"/>
<circle cx="579.16" cy="742.95" r="0.69" fill="#505050" opacity="0.13"/>
<circle cx="578.67" cy="741.49" r="0.75" fill="#505050" opacity="0.12"/>
<circle cx="580.17" cy="742.14" r="0.59" fill="#505050" opacity="0.14"/>
<circle cx="579.6" cy="741.02" r="1.11" fill="#505050" opacity="0.17"/>
<circle cx="589.47" cy="739.79" r="7.23" fill="url(#sphd)"/>
<circle cx="589.28" cy="739.69" r="2.2" fill="#505050" opacity="0.17"/>
<circle cx="587.02" cy="743.26" r="1.28" fill="#505050" opacity="0.23"/>
<circle cx="591.38" cy="743.35" r="1.27" fill="#505050" opacity="0.15"/>
<circle cx="589.55" cy="735.79" r="1.66" fill="#505050" opacity="0.19"/>
<circle cx="599.69" cy="740.52" r="4.82" fill="url(#sphd)"/>
<circle cx="600.22" cy="743.35" r="1.78" fill="#505050" opacity="0.14"/>
<circle cx="599.03" cy="740.55" r="1.02" fill="#505050" opacity="0.25"/>
<circle cx="599.69" cy="741.43" r="1.88" fill="#505050" opacity="0.22"/>
<circle cx="600.37" cy="738.24" r="0.78" fill="#505050" opacity="0.24"/>
<circle cx="607.72" cy="744.17" r="3.21" fill="url(#sph)"/>
<circle cx="607.34" cy="744.56" r="1.15" fill="#505050" opacity="0.21"/>
<circle cx="608.72" cy="744.7" r="0.9" fill="#505050" opacity="0.14"/>
<circle cx="607.7" cy="744.08" r="1.22" fill="#505050" opacity="0.15"/>
<circle cx="606.92" cy="745.14" r="0.73" fill="#505050" opacity="0.18"/>
<circle cx="570.49" cy="749.28" r="6.42" fill="url(#sphd)"/>
<circle cx="569.6" cy="746.86" r="2.16" fill="#505050" opacity="0.16"/>
<circle cx="573.27" cy="751.48" r="1.16" fill="#505050" opacity="0.19"/>
<circle cx="572.64" cy="751.23" r="1.61" fill="#505050" opacity="0.16"/>
<circle cx="568.28" cy="747.84" r="1.32" fill="#505050" opacity="0.23"/>
<circle cx="580.71" cy="751.47" r="3.53" fill="url(#sphl)"/>
<circle cx="581.22" cy="752.91" r="1.4" fill="#505050" opacity="0.17"/>
<circle cx="580.71" cy="751.7" r="0.67" fill="#505050" opacity="0.21"/>
<circle cx="580.74" cy="751.46" r="0.9" fill="#505050" opacity="0.23"/>
<circle cx="581.41" cy="752.48" r="0.61" fill="#505050" opacity="0.18"/>
<circle cx="587.28" cy="751.47" r="3.21" fill="url(#sphl)"/>
<circle cx="586.79" cy="752.68" r="1.22" fill="#505050" opacity="0.17"/>
<circle cx="586.96" cy="751.86" r="1.18" fill="#505050" opacity="0.23"/>
<circle cx="588.95" cy="751.15" r="0.8" fill="#505050" opacity="0.17"/>
<circle cx="586.36" cy="752.16" r="1.1" fill="#505050" opacity="0.23"/>
<circle cx="599.69" cy="750.01" r="4.82" fill="url(#sph)"/>
<circle cx="601.13" cy="748.09" r="1.33" fill="#505050" opacity="0.24"/>
<circle cx="601.05" cy="752.09" r="1.8" fill="#505050" opacity="0.17"/>
<circle cx="599.19" cy="749.23" r="1.03" fill="#505050" opacity="0.16"/>
<circle cx="600.15" cy="748.89" r="1.25" fill="#505050" opacity="0.25"/>
<circle cx="607.72" cy="754.39" r="3.21" fill="url(#sph)"/>
<circle cx="607.74" cy="754.18" r="0.86" fill="#505050" opacity="0.16"/>
<circle cx="607.68" cy="754.4" r="0.49" fill="#505050" opacity="0.16"/>
<circle cx="608.99" cy="753.21" r="0.66" fill="#505050" opacity="0.18"/>
<circle cx="608.82" cy="755.49" r="0.94" fill="#505050" opacity="0.17"/>
<circle cx="565.38" cy="759.5" r="3.21" fill="url(#sph)"/>
<circle cx="565.13" cy="759.05" r="1.11" fill="#505050" opacity="0.21"/>
<circle cx="563.56" cy="759.1" r="1.1" fill="#505050" opacity="0.26"/>
<circle cx="564.95" cy="758.48" r="1.21" fill="#505050" opacity="0.20"/>
<circle cx="566.65" cy="760.61" r="0.76" fill="#505050" opacity="0.21"/>
<circle cx="574.87" cy="760.23" r="4.82" fill="url(#sphd)"/>
<circle cx="575.14" cy="760.38" r="1.52" fill="#505050" opacity="0.20"/>
<circle cx="574.25" cy="760.74" r="1.52" fill="#505050" opacity="0.24"/>
<circle cx="574.61" cy="762.46" r="1.29" fill="#505050" opacity="0.14"/>
<circle cx="575.71" cy="758.13" r="1.26" fill="#505050" opacity="0.16"/>
<circle cx="584.36" cy="758.77" r="3.21" fill="url(#sphl)"/>
<circle cx="584.09" cy="758.75" r="0.71" fill="#505050" opacity="0.25"/>
<circle cx="584.35" cy="758.59" r="1.13" fill="#505050" opacity="0.15"/>
<circle cx="584.03" cy="757.46" r="1.12" fill="#505050" opacity="0.20"/>
<circle cx="584.22" cy="758.51" r="0.76" fill="#505050" opacity="0.13"/>
<circle cx="592.39" cy="756.58" r="3.21" fill="url(#sphl)"/>
<circle cx="593.43" cy="755.22" r="0.94" fill="#505050" opacity="0.18"/>
<circle cx="592.57" cy="756.24" r="0.81" fill="#505050" opacity="0.13"/>
<circle cx="592.59" cy="757.44" r="0.69" fill="#505050" opacity="0.25"/>
<circle cx="593.13" cy="757.37" r="0.82" fill="#505050" opacity="0.15"/>
<circle cx="598.96" cy="758.04" r="3.53" fill="url(#sph)"/>
<circle cx="598.76" cy="759.31" r="1.33" fill="#505050" opacity="0.15"/>
<circle cx="598.41" cy="757.17" r="0.77" fill="#505050" opacity="0.22"/>
<circle cx="600.06" cy="756.88" r="1.21" fill="#505050" opacity="0.17"/>
<circle cx="599.55" cy="758.78" r="0.68" fill="#505050" opacity="0.13"/>
<circle cx="606.26" cy="760.96" r="3.21" fill="url(#sph)"/>
<circle cx="606.2" cy="760.81" r="1.2" fill="#505050" opacity="0.16"/>
<circle cx="606.68" cy="760.61" r="1.05" fill="#505050" opacity="0.20"/>
<circle cx="605.04" cy="761.55" r="0.72" fill="#505050" opacity="0.13"/>
<circle cx="606.53" cy="760.64" r="0.51" fill="#505050" opacity="0.18"/>
<circle cx="566.84" cy="768.26" r="3.21" fill="url(#sphl)"/>
<circle cx="565.95" cy="768.8" r="0.97" fill="#505050" opacity="0.24"/>
<circle cx="565.5" cy="769.4" r="1.02" fill="#505050" opacity="0.25"/>
<circle cx="566.24" cy="767.86" r="1.24" fill="#505050" opacity="0.23"/>
<circle cx="567.65" cy="767.8" r="0.93" fill="#505050" opacity="0.17"/>
<circle cx="576.33" cy="766.8" r="3.53" fill="url(#sphl)"/>
<circle cx="577.4" cy="765.39" r="1.04" fill="#505050" opacity="0.18"/>
<circle cx="577.32" cy="766.94" r="0.81" fill="#505050" opacity="0.15"/>
<circle cx="576.42" cy="766.94" r="0.68" fill="#505050" opacity="0.25"/>
<circle cx="575.51" cy="767.52" r="1.17" fill="#505050" opacity="0.20"/>
<circle cx="585.82" cy="763.88" r="3.21" fill="url(#sphl)"/>
<circle cx="585.33" cy="763.53" r="1.08" fill="#505050" opacity="0.25"/>
<circle cx="584.11" cy="763.58" r="0.5" fill="#505050" opacity="0.19"/>
<circle cx="585.97" cy="763.16" r="1" fill="#505050" opacity="0.13"/>
<circle cx="586.52" cy="764.97" r="0.51" fill="#505050" opacity="0.16"/>
<circle cx="593.85" cy="763.15" r="3.53" fill="url(#sphl)"/>
<circle cx="594.04" cy="763.26" r="0.63" fill="#505050" opacity="0.27"/>
<circle cx="595.64" cy="763.62" r="0.62" fill="#505050" opacity="0.19"/>
<circle cx="595.24" cy="764.35" r="0.92" fill="#505050" opacity="0.17"/>
<circle cx="594.27" cy="763.48" r="1.06" fill="#505050" opacity="0.24"/>
<circle cx="601.15" cy="765.34" r="2.89" fill="url(#sph)"/>
<circle cx="600.93" cy="765.1" r="0.86" fill="#505050" opacity="0.20"/>
<circle cx="601.08" cy="763.89" r="0.58" fill="#505050" opacity="0.23"/>
<circle cx="600.37" cy="764.68" r="0.8" fill="#505050" opacity="0.21"/>
<circle cx="601.37" cy="765.71" r="0.88" fill="#505050" opacity="0.16"/>
<circle cx="584.36" cy="769.72" r="3.21" fill="url(#sphl)"/>
<circle cx="584.14" cy="768.12" r="0.53" fill="#505050" opacity="0.17"/>
<circle cx="583.03" cy="768.47" r="1.26" fill="#505050" opacity="0.12"/>
<circle cx="584.27" cy="769.67" r="0.92" fill="#505050" opacity="0.22"/>
<circle cx="584.99" cy="769.45" r="0.91" fill="#505050" opacity="0.17"/>
<circle cx="590.93" cy="769.72" r="4.01" fill="url(#sph)"/>
<circle cx="591.72" cy="770.47" r="0.99" fill="#505050" opacity="0.15"/>
<circle cx="592.63" cy="770.04" r="1.3" fill="#505050" opacity="0.23"/>
<circle cx="590.17" cy="769.77" r="0.98" fill="#505050" opacity="0.26"/>
<circle cx="592.56" cy="770.61" r="1.5" fill="#505050" opacity="0.23"/>
<circle cx="607.72" cy="768.26" r="3.21" fill="url(#sphl)"/>
<circle cx="607.67" cy="769.22" r="1.05" fill="#505050" opacity="0.23"/>
<circle cx="607.29" cy="767.96" r="0.5" fill="#505050" opacity="0.22"/>
<circle cx="605.97" cy="767.5" r="0.88" fill="#505050" opacity="0.20"/>
<circle cx="607.68" cy="769.91" r="0.56" fill="#505050" opacity="0.26"/>
<circle cx="599.25" cy="758.04" r="1.17" fill="#3a3a3a"/>
<rect x="563.2" y="725.9" width="47.7" height="46.7" fill="#808080" filter="url(#noise)" opacity="0.3" style="mix-blend-mode:multiply"/>
<rect x="601" y="770.3" width="8" height="1.4" fill="#333"/>
</g>
<clipPath id="c2014"><rect x="612.1" y="725.9" width="46.7" height="46.7"/></clipPath>
<g clip-path="url(#c2014)">
<rect x="612.1" y="725.9" width="46.7" height="46.7" fill="#d9d9d9"/>
<circle cx="618.66" cy="745.63" r="2.19" fill="url(#sphl)"/>
<circle cx="619.15" cy="745.04" r="0.83" fill="#505050" opacity="0.16"/>
<circle cx="618.63" cy="745.82" r="0.48" fill="#505050" opacity="0.12"/>
<circle cx="618.81" cy="745.48" r="0.5" fill="#505050" opacity="0.25"/>
<circle cx="618.64" cy="745.64" r="0.82" fill="#505050" opacity="0.22"/>
<circle cx="622.31" cy="749.28" r="2.34" fill="url(#sph)"/>
<circle cx="622.35" cy="749.54" r="0.62" fill="#505050" opacity="0.15"/>
<circle cx="622.64" cy="749.7" r="0.92" fill="#505050" opacity="0.15"/>
<circle cx="622.32" cy="749.13" r="0.71" fill="#505050" opacity="0.26"/>
<circle cx="622.27" cy="749.32" r="0.73" fill="#505050" opacity="0.22"/>
<circle cx="628.45" cy="749.28" r="2.48" fill="url(#sphl)"/>
<circle cx="627.39" cy="749.02" r="0.38" fill="#505050" opacity="0.23"/>
<circle cx="629.19" cy="748.46" r="0.91" fill="#505050" opacity="0.22"/>
<circle cx="628.97" cy="748.96" r="0.44" fill="#505050" opacity="0.18"/>
<circle cx="628.81" cy="748.19" r="0.49" fill="#505050" opacity="0.15"/>
<circle cx="645.67" cy="745.63" r="1.9" fill="url(#sphl)"/>
<circle cx="646.25" cy="745.55" r="0.32" fill="#505050" opacity="0.13"/>
<circle cx="646.14" cy="745.43" r="0.46" fill="#505050" opacity="0.26"/>
<circle cx="644.95" cy="746.32" r="0.54" fill="#505050" opacity="0.25"/>
<circle cx="645.71" cy="745.6" r="0.63" fill="#505050" opacity="0.21"/>
<rect x="612.1" y="725.9" width="46.7" height="46.7" fill="#808080" filter="url(#noise)" opacity="0.3" style="mix-blend-mode:multiply"/>
<rect x="648.6" y="770.5" width="8.2" height="1.4" fill="#111"/>
</g>
<line x1="594.4" y1="788.3" x2="594.4" y2="846.2" stroke="#000" stroke-width="1.2"/>
<line x1="593.8" y1="845.5" x2="650.4" y2="845.5" stroke="#000" stroke-width="1.2"/>
<line x1="591" y1="845.5" x2="594.4" y2="845.5" stroke="#000" stroke-width="1.1"/>
<text x="590.8" y="848.8" font-size="9.2" text-anchor="end">0</text>
<line x1="591" y1="831.1" x2="594.4" y2="831.1" stroke="#000" stroke-width="1.1"/>
<text x="590.8" y="834.4" font-size="9.2" text-anchor="end">1</text>
<line x1="591" y1="816.7" x2="594.4" y2="816.7" stroke="#000" stroke-width="1.1"/>
<text x="590.8" y="820" font-size="9.2" text-anchor="end">2</text>
<line x1="591" y1="802.3" x2="594.4" y2="802.3" stroke="#000" stroke-width="1.1"/>
<text x="590.8" y="805.6" font-size="9.2" text-anchor="end">3</text>
<line x1="591" y1="787.9" x2="594.4" y2="787.9" stroke="#000" stroke-width="1.1"/>
<text x="590.8" y="791.2" font-size="9.2" text-anchor="end">4</text>
<rect x="597.7" y="809.5" width="5.8" height="36" fill="#ffffff" stroke="#333" stroke-width="1"/>
<line x1="600.6" y1="813.82" x2="600.6" y2="805.18" stroke="#000" stroke-width="0.8"/>
<line x1="599.1" y1="805.18" x2="602.1" y2="805.18" stroke="#000" stroke-width="0.8"/>
<circle cx="600.04" cy="808.49" r="1.1" fill="#000"/>
<circle cx="600.05" cy="814.67" r="1.1" fill="#000"/>
<circle cx="600.32" cy="806.15" r="1.1" fill="#000"/>
<circle cx="599.38" cy="808.67" r="1.1" fill="#000"/>
<line x1="600.6" y1="845.5" x2="600.6" y2="848" stroke="#000" stroke-width="0.9"/>
<rect x="606.9" y="839.45" width="5.8" height="6.05" fill="#ee2222" stroke="#333" stroke-width="1"/>
<line x1="609.8" y1="840.6" x2="609.8" y2="838.3" stroke="#000" stroke-width="0.8"/>
<line x1="608.3" y1="838.3" x2="611.3" y2="838.3" stroke="#000" stroke-width="0.8"/>
<circle cx="610.88" cy="839.73" r="1.1" fill="#000"/>
<circle cx="609.65" cy="839.47" r="1.1" fill="#000"/>
<circle cx="610.41" cy="840.18" r="1.1" fill="#000"/>
<circle cx="611.5" cy="840.13" r="1.1" fill="#000"/>
<line x1="609.8" y1="845.5" x2="609.8" y2="848" stroke="#000" stroke-width="0.9"/>
<rect x="615.4" y="808.06" width="5.8" height="37.44" fill="#ffffff" stroke="#333" stroke-width="1"/>
<line x1="618.3" y1="809.79" x2="618.3" y2="806.33" stroke="#000" stroke-width="0.8"/>
<line x1="616.8" y1="806.33" x2="619.8" y2="806.33" stroke="#000" stroke-width="0.8"/>
<circle cx="618.44" cy="806.13" r="1.1" fill="#000"/>
<circle cx="618.21" cy="807.84" r="1.1" fill="#000"/>
<circle cx="616.64" cy="809.35" r="1.1" fill="#000"/>
<circle cx="618.31" cy="808.48" r="1.1" fill="#000"/>
<line x1="618.3" y1="845.5" x2="618.3" y2="848" stroke="#000" stroke-width="0.9"/>
<rect x="624.4" y="838.59" width="5.8" height="6.91" fill="#ee2222" stroke="#333" stroke-width="1"/>
<line x1="627.3" y1="840.03" x2="627.3" y2="837.15" stroke="#000" stroke-width="0.8"/>
<line x1="625.8" y1="837.15" x2="628.8" y2="837.15" stroke="#000" stroke-width="0.8"/>
<circle cx="628.99" cy="840.21" r="1.1" fill="#000"/>
<circle cx="629.08" cy="839.64" r="1.1" fill="#000"/>
<circle cx="626.43" cy="837.04" r="1.1" fill="#000"/>
<circle cx="626.93" cy="838.53" r="1.1" fill="#000"/>
<line x1="627.3" y1="845.5" x2="627.3" y2="848" stroke="#000" stroke-width="0.9"/>
<rect x="633.3" y="803.02" width="5.8" height="42.48" fill="#ffffff" stroke="#333" stroke-width="1"/>
<line x1="636.2" y1="805.61" x2="636.2" y2="800.43" stroke="#000" stroke-width="0.8"/>
<line x1="634.7" y1="800.43" x2="637.7" y2="800.43" stroke="#000" stroke-width="0.8"/>
<circle cx="635.94" cy="805.3" r="1.1" fill="#000"/>
<circle cx="636.03" cy="800.83" r="1.1" fill="#000"/>
<circle cx="636.81" cy="804.68" r="1.1" fill="#000"/>
<circle cx="636.5" cy="804.23" r="1.1" fill="#000"/>
<line x1="636.2" y1="845.5" x2="636.2" y2="848" stroke="#000" stroke-width="0.9"/>
<rect x="642.4" y="840.32" width="5.8" height="5.18" fill="#ee2222" stroke="#333" stroke-width="1"/>
<line x1="645.3" y1="841.04" x2="645.3" y2="839.6" stroke="#000" stroke-width="0.8"/>
<line x1="643.8" y1="839.6" x2="646.8" y2="839.6" stroke="#000" stroke-width="0.8"/>
<circle cx="645.54" cy="840.86" r="1.1" fill="#000"/>
<circle cx="644.52" cy="840.09" r="1.1" fill="#000"/>
<circle cx="646.29" cy="840.88" r="1.1" fill="#000"/>
<circle cx="644.17" cy="840.11" r="1.1" fill="#000"/>
<line x1="645.3" y1="845.5" x2="645.3" y2="848" stroke="#000" stroke-width="0.9"/>
<line x1="599.5" y1="799.3" x2="609.5" y2="799.3" stroke="#777" stroke-width="0.8"/>
<text x="605.1" y="801.2" font-size="10.5" text-anchor="middle" fill="#222" stroke="#222" stroke-width="0.25">**</text>
<line x1="616.5" y1="799.3" x2="627" y2="799.3" stroke="#777" stroke-width="0.8"/>
<text x="622.35" y="801.2" font-size="10.5" text-anchor="middle" fill="#222" stroke="#222" stroke-width="0.25">**</text>
<line x1="636.5" y1="799.3" x2="645.5" y2="799.3" stroke="#777" stroke-width="0.8"/>
<text x="641.6" y="801.2" font-size="10.5" text-anchor="middle" fill="#222" stroke="#222" stroke-width="0.25">**</text>
<text x="600.9" y="858.6" font-size="10.2">1<tspan font-size="6.6" dy="-3.7">st</tspan></text>
<text x="617.9" y="858.6" font-size="10.2">2<tspan font-size="6.6" dy="-3.7">nd</tspan></text>
<text x="635.3" y="858.6" font-size="10.2">3<tspan font-size="6.6" dy="-3.7">nd</tspan></text>
<text x="569.5" y="830.3" font-size="9.5" text-anchor="middle" textLength="18.5" lengthAdjust="spacingAndGlyphs" transform="rotate(-90 569.5 830.3)">% of</text>
<text x="578.8" y="829.4" font-size="9.5" text-anchor="middle" textLength="86" lengthAdjust="spacingAndGlyphs" transform="rotate(-90 578.8 829.4)">sphere-forming cells</text>
<rect x="649.6" y="801" width="4" height="4" fill="#fff" stroke="#222" stroke-width="0.8"/>
<text x="654.2" y="805.4" font-size="10.4">WT</text>
<rect x="649.3" y="810.5" width="4.6" height="4.4" fill="#ee2020"/>
<text x="654.8" y="815.4" font-size="9.6" textLength="25.4" lengthAdjust="spacingAndGlyphs">V333F</text>
</svg>
</body></html>
